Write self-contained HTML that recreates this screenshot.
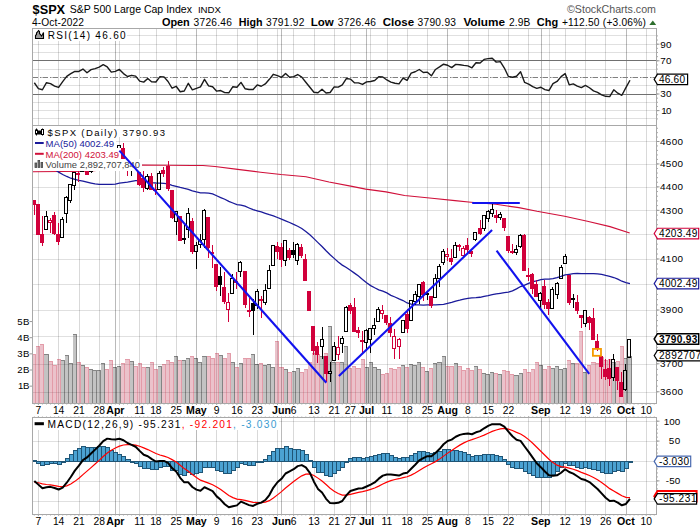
<!DOCTYPE html><html><head><meta charset="utf-8"><style>html,body{margin:0;padding:0;background:#fff;overflow:hidden}svg{display:block}</style></head><body><svg width="700" height="530" viewBox="0 0 700 530" font-family='"Liberation Sans", sans-serif'>
<rect width="700" height="530" fill="#fff"/>
<text x="32.6" y="13.5" font-size="12.8" fill="#000" font-weight="bold" text-anchor="start" textLength="32.5" lengthAdjust="spacingAndGlyphs" >$SPX</text>
<text x="69.8" y="12.8" font-size="11.5" fill="#000" font-weight="normal" text-anchor="start" textLength="122.1" lengthAdjust="spacingAndGlyphs" >S&amp;P 500 Large Cap Index</text>
<text x="197.9" y="12.9" font-size="9.6" fill="#000" font-weight="normal" text-anchor="start" textLength="23.1" lengthAdjust="spacingAndGlyphs" >INDX</text>
<text x="567" y="12.9" font-size="10.5" fill="#555" font-weight="normal" text-anchor="start" textLength="89" lengthAdjust="spacingAndGlyphs" >©StockCharts.com</text>
<text x="32" y="25.7" font-size="10.2" fill="#000" font-weight="normal" text-anchor="start" textLength="52" lengthAdjust="spacing" >4-Oct-2022</text>
<text x="161.9" y="25.7" font-size="10.7" fill="#000" font-weight="bold" text-anchor="start" textLength="27.9" lengthAdjust="spacingAndGlyphs" >Open</text>
<text x="193.6" y="25.7" font-size="10.2" fill="#000" font-weight="normal" text-anchor="start" textLength="38.2" lengthAdjust="spacing" >3726.46</text>
<text x="238.7" y="25.7" font-size="10.7" fill="#000" font-weight="bold" text-anchor="start" textLength="23.8" lengthAdjust="spacingAndGlyphs" >High</text>
<text x="266" y="25.7" font-size="10.2" fill="#000" font-weight="normal" text-anchor="start" textLength="38.3" lengthAdjust="spacing" >3791.92</text>
<text x="310.8" y="25.7" font-size="10.7" fill="#000" font-weight="bold" text-anchor="start" textLength="23" lengthAdjust="spacingAndGlyphs" >Low</text>
<text x="337.8" y="25.7" font-size="10.2" fill="#000" font-weight="normal" text-anchor="start" textLength="38.2" lengthAdjust="spacing" >3726.46</text>
<text x="382.7" y="25.7" font-size="10.7" fill="#000" font-weight="bold" text-anchor="start" textLength="31.4" lengthAdjust="spacingAndGlyphs" >Close</text>
<text x="417.5" y="25.7" font-size="10.2" fill="#000" font-weight="normal" text-anchor="start" textLength="38.5" lengthAdjust="spacing" >3790.93</text>
<text x="463.4" y="25.7" font-size="10.7" fill="#000" font-weight="bold" text-anchor="start" textLength="41.6" lengthAdjust="spacingAndGlyphs" >Volume</text>
<text x="508.9" y="25.7" font-size="10.2" fill="#000" font-weight="normal" text-anchor="start" textLength="21.4" lengthAdjust="spacing" >2.9B</text>
<text x="536.8" y="25.7" font-size="10.7" fill="#000" font-weight="bold" text-anchor="start" textLength="21.3" lengthAdjust="spacingAndGlyphs" >Chg</text>
<text x="561.9" y="25.7" font-size="10.2" fill="#000" font-weight="normal" text-anchor="start" textLength="84" lengthAdjust="spacing" >+112.50 (+3.06%)</text>
<path d="M649.3 24.9 L652.8 20.6 L656.2 24.9 Z" fill="#2d6e2d"/>
<line x1="38.5" y1="28.5" x2="38.5" y2="125.5" stroke="#000" stroke-opacity="0.15" stroke-width="1"/>
<line x1="58.5" y1="28.5" x2="58.5" y2="125.5" stroke="#000" stroke-opacity="0.15" stroke-width="1"/>
<line x1="79.5" y1="28.5" x2="79.5" y2="125.5" stroke="#000" stroke-opacity="0.15" stroke-width="1"/>
<line x1="99.5" y1="28.5" x2="99.5" y2="125.5" stroke="#000" stroke-opacity="0.15" stroke-width="1"/>
<line x1="119.5" y1="28.5" x2="119.5" y2="125.5" stroke="#000" stroke-opacity="0.15" stroke-width="1"/>
<line x1="139.5" y1="28.5" x2="139.5" y2="125.5" stroke="#000" stroke-opacity="0.15" stroke-width="1"/>
<line x1="156.5" y1="28.5" x2="156.5" y2="125.5" stroke="#000" stroke-opacity="0.15" stroke-width="1"/>
<line x1="176.5" y1="28.5" x2="176.5" y2="125.5" stroke="#000" stroke-opacity="0.15" stroke-width="1"/>
<line x1="216.5" y1="28.5" x2="216.5" y2="125.5" stroke="#000" stroke-opacity="0.15" stroke-width="1"/>
<line x1="237.5" y1="28.5" x2="237.5" y2="125.5" stroke="#000" stroke-opacity="0.15" stroke-width="1"/>
<line x1="257.5" y1="28.5" x2="257.5" y2="125.5" stroke="#000" stroke-opacity="0.15" stroke-width="1"/>
<line x1="277.5" y1="28.5" x2="277.5" y2="125.5" stroke="#000" stroke-opacity="0.15" stroke-width="1"/>
<line x1="293.5" y1="28.5" x2="293.5" y2="125.5" stroke="#000" stroke-opacity="0.15" stroke-width="1"/>
<line x1="314.5" y1="28.5" x2="314.5" y2="125.5" stroke="#000" stroke-opacity="0.15" stroke-width="1"/>
<line x1="334.5" y1="28.5" x2="334.5" y2="125.5" stroke="#000" stroke-opacity="0.15" stroke-width="1"/>
<line x1="350.5" y1="28.5" x2="350.5" y2="125.5" stroke="#000" stroke-opacity="0.15" stroke-width="1"/>
<line x1="370.5" y1="28.5" x2="370.5" y2="125.5" stroke="#000" stroke-opacity="0.15" stroke-width="1"/>
<line x1="387.5" y1="28.5" x2="387.5" y2="125.5" stroke="#000" stroke-opacity="0.15" stroke-width="1"/>
<line x1="407.5" y1="28.5" x2="407.5" y2="125.5" stroke="#000" stroke-opacity="0.15" stroke-width="1"/>
<line x1="427.5" y1="28.5" x2="427.5" y2="125.5" stroke="#000" stroke-opacity="0.15" stroke-width="1"/>
<line x1="468.5" y1="28.5" x2="468.5" y2="125.5" stroke="#000" stroke-opacity="0.15" stroke-width="1"/>
<line x1="488.5" y1="28.5" x2="488.5" y2="125.5" stroke="#000" stroke-opacity="0.15" stroke-width="1"/>
<line x1="508.5" y1="28.5" x2="508.5" y2="125.5" stroke="#000" stroke-opacity="0.15" stroke-width="1"/>
<line x1="528.5" y1="28.5" x2="528.5" y2="125.5" stroke="#000" stroke-opacity="0.15" stroke-width="1"/>
<line x1="549.5" y1="28.5" x2="549.5" y2="125.5" stroke="#000" stroke-opacity="0.15" stroke-width="1"/>
<line x1="565.5" y1="28.5" x2="565.5" y2="125.5" stroke="#000" stroke-opacity="0.15" stroke-width="1"/>
<line x1="585.5" y1="28.5" x2="585.5" y2="125.5" stroke="#000" stroke-opacity="0.15" stroke-width="1"/>
<line x1="605.5" y1="28.5" x2="605.5" y2="125.5" stroke="#000" stroke-opacity="0.15" stroke-width="1"/>
<line x1="646.5" y1="28.5" x2="646.5" y2="125.5" stroke="#000" stroke-opacity="0.15" stroke-width="1"/>
<line x1="115.5" y1="28.5" x2="115.5" y2="125.5" stroke="#000" stroke-opacity="0.27" stroke-width="1"/>
<line x1="196.5" y1="28.5" x2="196.5" y2="125.5" stroke="#000" stroke-opacity="0.27" stroke-width="1"/>
<line x1="281.5" y1="28.5" x2="281.5" y2="125.5" stroke="#000" stroke-opacity="0.27" stroke-width="1"/>
<line x1="366.5" y1="28.5" x2="366.5" y2="125.5" stroke="#000" stroke-opacity="0.27" stroke-width="1"/>
<line x1="447.5" y1="28.5" x2="447.5" y2="125.5" stroke="#000" stroke-opacity="0.27" stroke-width="1"/>
<line x1="541.5" y1="28.5" x2="541.5" y2="125.5" stroke="#000" stroke-opacity="0.27" stroke-width="1"/>
<line x1="626.5" y1="28.5" x2="626.5" y2="125.5" stroke="#000" stroke-opacity="0.27" stroke-width="1"/>
<line x1="32.5" y1="118.5" x2="656.5" y2="118.5" stroke="#000" stroke-opacity="0.12" stroke-width="1"/>
<line x1="32.5" y1="110.5" x2="656.5" y2="110.5" stroke="#000" stroke-opacity="0.12" stroke-width="1"/>
<line x1="32.5" y1="102.5" x2="656.5" y2="102.5" stroke="#000" stroke-opacity="0.12" stroke-width="1"/>
<line x1="32.5" y1="85.5" x2="656.5" y2="85.5" stroke="#000" stroke-opacity="0.12" stroke-width="1"/>
<line x1="32.5" y1="69.5" x2="656.5" y2="69.5" stroke="#000" stroke-opacity="0.12" stroke-width="1"/>
<line x1="32.5" y1="52.5" x2="656.5" y2="52.5" stroke="#000" stroke-opacity="0.12" stroke-width="1"/>
<line x1="32.5" y1="44.5" x2="656.5" y2="44.5" stroke="#000" stroke-opacity="0.12" stroke-width="1"/>
<line x1="32.5" y1="35.5" x2="656.5" y2="35.5" stroke="#000" stroke-opacity="0.12" stroke-width="1"/>
<line x1="32.5" y1="60.5" x2="656.5" y2="60.5" stroke="#707070" stroke-width="1"/>
<line x1="32.5" y1="94.5" x2="656.5" y2="94.5" stroke="#707070" stroke-width="1"/>
<line x1="32.5" y1="77.5" x2="656.5" y2="77.5" stroke="#808080" stroke-width="1" stroke-dasharray="5.5,2,1.5,1"/>
<polyline points="34.33,82.74 38.38,88.56 42.43,89.76 46.48,82.72 50.53,83.57 54.59,86.07 58.64,87.43 62.69,81.61 66.74,76.35 70.79,73.71 74.85,71.33 78.9,71.45 82.95,69.08 87,72.72 91.05,69.65 95.11,68.6 99.16,67.12 103.21,64.69 107.26,66.95 111.31,72.15 115.37,71.33 119.42,69.39 123.47,73.57 127.52,76.51 131.57,75.32 135.63,76.16 139.68,81.18 143.73,82.11 147.78,78.44 151.83,81.91 155.89,81.97 159.94,76.68 163.99,76.88 168.04,81.51 172.09,88.24 176.15,86.29 180.2,91.71 184.25,91 188.3,83.27 192.35,89.86 196.41,88.29 200.46,86.92 204.51,79.32 208.56,85.84 212.61,86.71 216.67,91.16 220.72,90.55 224.77,92.63 228.82,92.79 232.87,86.69 236.93,87.3 240.98,82.41 245.03,88.73 249.08,89.49 253.13,89.45 257.19,84.93 261.24,86.25 265.29,83.92 269.34,79.33 273.39,74.31 277.45,75.71 281.5,77.37 285.55,73.56 289.6,77.28 293.65,76.6 297.71,74.52 301.76,77.15 305.81,82.25 309.86,87.22 313.91,92.26 317.97,92.68 322.02,89.19 326.07,93.05 330.12,92.53 334.17,86.96 338.23,87.15 342.28,84.93 346.33,78.51 350.38,79.07 354.43,82.74 358.49,82.87 362.54,84.43 366.59,81.86 370.64,81.47 374.69,80.54 378.75,76.77 382.8,76.99 386.85,79.95 390.9,82.17 394.95,83.22 399.01,83.93 403.06,78.1 407.11,80.34 411.16,73.13 415.21,71.75 419.27,69.5 423.32,72.5 427.37,72.17 431.42,75.85 435.47,69.47 439.53,66.93 443.58,64.2 447.63,65.23 451.68,67.66 455.73,64.41 459.79,64.71 463.84,65.38 467.89,65.91 471.94,67.79 475.99,62.69 480.05,63.01 484.1,59.41 488.15,58.65 492.2,58.28 496.25,62.12 500.31,61.57 504.36,68.05 508.41,76.51 512.46,77.27 516.51,76.25 520.57,71.67 524.62,82.47 528.67,84.11 532.72,86.68 536.77,88.38 540.83,87.27 544.88,89.66 548.93,90.53 552.98,83.69 557.03,81.43 561.09,76.62 565.14,73.6 569.19,84.83 573.24,83.87 577.29,86.19 581.35,87.59 585.4,85.43 589.45,87.75 593.5,90.89 597.55,92.29 601.61,94.91 605.66,96.32 609.71,96.61 613.76,89.79 617.81,93.19 621.87,95.27 625.92,87.65 629.97,80.22" fill="none" stroke="#1a1a1a" stroke-width="1.4" stroke-linejoin="round"/>
<rect x="33" y="29" width="94" height="12" fill="#fff"/>
<path d="M35.5 38.5 L35.5 35.5 L36.5 34.5 L36.5 33 L37.5 32 L38.5 30.5 L39.5 31.5 L39.5 33.5 L40.5 34.5 L41.5 36 L42.5 34.5 L43.5 32.5 L43.5 38.5 Z" fill="#9a9a9a" stroke="#000" stroke-width="1.1" stroke-linejoin="miter"/>
<text x="47.7" y="39.1" font-size="10" fill="#000" font-weight="normal" text-anchor="start" textLength="77.9" lengthAdjust="spacing" >RSI(14) 46.60</text>
<line x1="38.5" y1="125.5" x2="38.5" y2="403.5" stroke="#000" stroke-opacity="0.15" stroke-width="1"/>
<line x1="58.5" y1="125.5" x2="58.5" y2="403.5" stroke="#000" stroke-opacity="0.15" stroke-width="1"/>
<line x1="79.5" y1="125.5" x2="79.5" y2="403.5" stroke="#000" stroke-opacity="0.15" stroke-width="1"/>
<line x1="99.5" y1="125.5" x2="99.5" y2="403.5" stroke="#000" stroke-opacity="0.15" stroke-width="1"/>
<line x1="119.5" y1="125.5" x2="119.5" y2="403.5" stroke="#000" stroke-opacity="0.15" stroke-width="1"/>
<line x1="139.5" y1="125.5" x2="139.5" y2="403.5" stroke="#000" stroke-opacity="0.15" stroke-width="1"/>
<line x1="156.5" y1="125.5" x2="156.5" y2="403.5" stroke="#000" stroke-opacity="0.15" stroke-width="1"/>
<line x1="176.5" y1="125.5" x2="176.5" y2="403.5" stroke="#000" stroke-opacity="0.15" stroke-width="1"/>
<line x1="216.5" y1="125.5" x2="216.5" y2="403.5" stroke="#000" stroke-opacity="0.15" stroke-width="1"/>
<line x1="237.5" y1="125.5" x2="237.5" y2="403.5" stroke="#000" stroke-opacity="0.15" stroke-width="1"/>
<line x1="257.5" y1="125.5" x2="257.5" y2="403.5" stroke="#000" stroke-opacity="0.15" stroke-width="1"/>
<line x1="277.5" y1="125.5" x2="277.5" y2="403.5" stroke="#000" stroke-opacity="0.15" stroke-width="1"/>
<line x1="293.5" y1="125.5" x2="293.5" y2="403.5" stroke="#000" stroke-opacity="0.15" stroke-width="1"/>
<line x1="314.5" y1="125.5" x2="314.5" y2="403.5" stroke="#000" stroke-opacity="0.15" stroke-width="1"/>
<line x1="334.5" y1="125.5" x2="334.5" y2="403.5" stroke="#000" stroke-opacity="0.15" stroke-width="1"/>
<line x1="350.5" y1="125.5" x2="350.5" y2="403.5" stroke="#000" stroke-opacity="0.15" stroke-width="1"/>
<line x1="370.5" y1="125.5" x2="370.5" y2="403.5" stroke="#000" stroke-opacity="0.15" stroke-width="1"/>
<line x1="387.5" y1="125.5" x2="387.5" y2="403.5" stroke="#000" stroke-opacity="0.15" stroke-width="1"/>
<line x1="407.5" y1="125.5" x2="407.5" y2="403.5" stroke="#000" stroke-opacity="0.15" stroke-width="1"/>
<line x1="427.5" y1="125.5" x2="427.5" y2="403.5" stroke="#000" stroke-opacity="0.15" stroke-width="1"/>
<line x1="468.5" y1="125.5" x2="468.5" y2="403.5" stroke="#000" stroke-opacity="0.15" stroke-width="1"/>
<line x1="488.5" y1="125.5" x2="488.5" y2="403.5" stroke="#000" stroke-opacity="0.15" stroke-width="1"/>
<line x1="508.5" y1="125.5" x2="508.5" y2="403.5" stroke="#000" stroke-opacity="0.15" stroke-width="1"/>
<line x1="528.5" y1="125.5" x2="528.5" y2="403.5" stroke="#000" stroke-opacity="0.15" stroke-width="1"/>
<line x1="549.5" y1="125.5" x2="549.5" y2="403.5" stroke="#000" stroke-opacity="0.15" stroke-width="1"/>
<line x1="565.5" y1="125.5" x2="565.5" y2="403.5" stroke="#000" stroke-opacity="0.15" stroke-width="1"/>
<line x1="585.5" y1="125.5" x2="585.5" y2="403.5" stroke="#000" stroke-opacity="0.15" stroke-width="1"/>
<line x1="605.5" y1="125.5" x2="605.5" y2="403.5" stroke="#000" stroke-opacity="0.15" stroke-width="1"/>
<line x1="646.5" y1="125.5" x2="646.5" y2="403.5" stroke="#000" stroke-opacity="0.15" stroke-width="1"/>
<line x1="115.5" y1="125.5" x2="115.5" y2="403.5" stroke="#000" stroke-opacity="0.27" stroke-width="1"/>
<line x1="196.5" y1="125.5" x2="196.5" y2="403.5" stroke="#000" stroke-opacity="0.27" stroke-width="1"/>
<line x1="281.5" y1="125.5" x2="281.5" y2="403.5" stroke="#000" stroke-opacity="0.27" stroke-width="1"/>
<line x1="366.5" y1="125.5" x2="366.5" y2="403.5" stroke="#000" stroke-opacity="0.27" stroke-width="1"/>
<line x1="447.5" y1="125.5" x2="447.5" y2="403.5" stroke="#000" stroke-opacity="0.27" stroke-width="1"/>
<line x1="541.5" y1="125.5" x2="541.5" y2="403.5" stroke="#000" stroke-opacity="0.27" stroke-width="1"/>
<line x1="626.5" y1="125.5" x2="626.5" y2="403.5" stroke="#000" stroke-opacity="0.27" stroke-width="1"/>
<line x1="32.5" y1="141.5" x2="656.5" y2="141.5" stroke="#000" stroke-opacity="0.12" stroke-width="1"/>
<line x1="32.5" y1="164.5" x2="656.5" y2="164.5" stroke="#000" stroke-opacity="0.12" stroke-width="1"/>
<line x1="32.5" y1="187.5" x2="656.5" y2="187.5" stroke="#000" stroke-opacity="0.12" stroke-width="1"/>
<line x1="32.5" y1="210.5" x2="656.5" y2="210.5" stroke="#000" stroke-opacity="0.12" stroke-width="1"/>
<line x1="32.5" y1="234.5" x2="656.5" y2="234.5" stroke="#000" stroke-opacity="0.12" stroke-width="1"/>
<line x1="32.5" y1="259.5" x2="656.5" y2="259.5" stroke="#000" stroke-opacity="0.12" stroke-width="1"/>
<line x1="32.5" y1="284.5" x2="656.5" y2="284.5" stroke="#000" stroke-opacity="0.12" stroke-width="1"/>
<line x1="32.5" y1="310.5" x2="656.5" y2="310.5" stroke="#000" stroke-opacity="0.12" stroke-width="1"/>
<line x1="32.5" y1="336.5" x2="656.5" y2="336.5" stroke="#000" stroke-opacity="0.12" stroke-width="1"/>
<line x1="32.5" y1="364.5" x2="656.5" y2="364.5" stroke="#000" stroke-opacity="0.12" stroke-width="1"/>
<line x1="32.5" y1="392.5" x2="656.5" y2="392.5" stroke="#000" stroke-opacity="0.12" stroke-width="1"/>
<rect x="32" y="354" width="4" height="49.5" fill="#b00a30" fill-opacity="0.25"/>
<path d="M32 354.5 H35.5 V403.5" fill="none" stroke="#c8203c" stroke-opacity="0.24" stroke-width="1"/>
<rect x="36" y="346" width="4" height="57.5" fill="#b00a30" fill-opacity="0.25"/>
<path d="M36 346.5 H39.5 V403.5" fill="none" stroke="#c8203c" stroke-opacity="0.24" stroke-width="1"/>
<rect x="40" y="344" width="4" height="59.5" fill="#b00a30" fill-opacity="0.25"/>
<path d="M40 344.5 H43.5 V403.5" fill="none" stroke="#c8203c" stroke-opacity="0.24" stroke-width="1"/>
<rect x="44" y="354" width="5" height="49.5" fill="#000" fill-opacity="0.235"/>
<path d="M44 354.5 H48.5 V403.5" fill="none" stroke="#000" stroke-opacity="0.32" stroke-width="1"/>
<rect x="49" y="361" width="4" height="42.5" fill="#b00a30" fill-opacity="0.25"/>
<path d="M49 361.5 H52.5 V403.5" fill="none" stroke="#c8203c" stroke-opacity="0.24" stroke-width="1"/>
<rect x="53" y="365" width="4" height="38.5" fill="#b00a30" fill-opacity="0.25"/>
<path d="M53 365.5 H56.5 V403.5" fill="none" stroke="#c8203c" stroke-opacity="0.24" stroke-width="1"/>
<rect x="57" y="359" width="4" height="44.5" fill="#b00a30" fill-opacity="0.25"/>
<path d="M57 359.5 H60.5 V403.5" fill="none" stroke="#c8203c" stroke-opacity="0.24" stroke-width="1"/>
<rect x="61" y="360" width="4" height="43.5" fill="#000" fill-opacity="0.235"/>
<path d="M61 360.5 H64.5 V403.5" fill="none" stroke="#000" stroke-opacity="0.32" stroke-width="1"/>
<rect x="65" y="355" width="4" height="48.5" fill="#000" fill-opacity="0.235"/>
<path d="M65 355.5 H68.5 V403.5" fill="none" stroke="#000" stroke-opacity="0.32" stroke-width="1"/>
<rect x="69" y="363" width="4" height="40.5" fill="#000" fill-opacity="0.235"/>
<path d="M69 363.5 H72.5 V403.5" fill="none" stroke="#000" stroke-opacity="0.32" stroke-width="1"/>
<rect x="73" y="334" width="4" height="69.5" fill="#000" fill-opacity="0.235"/>
<path d="M73 334.5 H76.5 V403.5" fill="none" stroke="#000" stroke-opacity="0.32" stroke-width="1"/>
<rect x="77" y="362" width="4" height="41.5" fill="#b00a30" fill-opacity="0.25"/>
<path d="M77 362.5 H80.5 V403.5" fill="none" stroke="#c8203c" stroke-opacity="0.24" stroke-width="1"/>
<rect x="81" y="365" width="4" height="38.5" fill="#000" fill-opacity="0.235"/>
<path d="M81 365.5 H84.5 V403.5" fill="none" stroke="#000" stroke-opacity="0.32" stroke-width="1"/>
<rect x="85" y="367" width="4" height="36.5" fill="#b00a30" fill-opacity="0.25"/>
<path d="M85 367.5 H88.5 V403.5" fill="none" stroke="#c8203c" stroke-opacity="0.24" stroke-width="1"/>
<rect x="89" y="369" width="4" height="34.5" fill="#000" fill-opacity="0.235"/>
<path d="M89 369.5 H92.5 V403.5" fill="none" stroke="#000" stroke-opacity="0.32" stroke-width="1"/>
<rect x="93" y="370" width="4" height="33.5" fill="#000" fill-opacity="0.235"/>
<path d="M93 370.5 H96.5 V403.5" fill="none" stroke="#000" stroke-opacity="0.32" stroke-width="1"/>
<rect x="97" y="370" width="4" height="33.5" fill="#000" fill-opacity="0.235"/>
<path d="M97 370.5 H100.5 V403.5" fill="none" stroke="#000" stroke-opacity="0.32" stroke-width="1"/>
<rect x="101" y="363" width="4" height="40.5" fill="#000" fill-opacity="0.235"/>
<path d="M101 363.5 H104.5 V403.5" fill="none" stroke="#000" stroke-opacity="0.32" stroke-width="1"/>
<rect x="105" y="369" width="4" height="34.5" fill="#b00a30" fill-opacity="0.25"/>
<path d="M105 369.5 H108.5 V403.5" fill="none" stroke="#c8203c" stroke-opacity="0.24" stroke-width="1"/>
<rect x="109" y="360" width="4" height="43.5" fill="#b00a30" fill-opacity="0.25"/>
<path d="M109 360.5 H112.5 V403.5" fill="none" stroke="#c8203c" stroke-opacity="0.24" stroke-width="1"/>
<rect x="113" y="367" width="4" height="36.5" fill="#000" fill-opacity="0.235"/>
<path d="M113 367.5 H116.5 V403.5" fill="none" stroke="#000" stroke-opacity="0.32" stroke-width="1"/>
<rect x="117" y="366" width="4" height="37.5" fill="#000" fill-opacity="0.235"/>
<path d="M117 366.5 H120.5 V403.5" fill="none" stroke="#000" stroke-opacity="0.32" stroke-width="1"/>
<rect x="121" y="363" width="4" height="40.5" fill="#b00a30" fill-opacity="0.25"/>
<path d="M121 363.5 H124.5 V403.5" fill="none" stroke="#c8203c" stroke-opacity="0.24" stroke-width="1"/>
<rect x="125" y="359" width="5" height="44.5" fill="#b00a30" fill-opacity="0.25"/>
<path d="M125 359.5 H129.5 V403.5" fill="none" stroke="#c8203c" stroke-opacity="0.24" stroke-width="1"/>
<rect x="130" y="361" width="4" height="42.5" fill="#000" fill-opacity="0.235"/>
<path d="M130 361.5 H133.5 V403.5" fill="none" stroke="#000" stroke-opacity="0.32" stroke-width="1"/>
<rect x="134" y="366" width="4" height="37.5" fill="#b00a30" fill-opacity="0.25"/>
<path d="M134 366.5 H137.5 V403.5" fill="none" stroke="#c8203c" stroke-opacity="0.24" stroke-width="1"/>
<rect x="138" y="363" width="4" height="40.5" fill="#b00a30" fill-opacity="0.25"/>
<path d="M138 363.5 H141.5 V403.5" fill="none" stroke="#c8203c" stroke-opacity="0.24" stroke-width="1"/>
<rect x="142" y="367" width="4" height="36.5" fill="#b00a30" fill-opacity="0.25"/>
<path d="M142 367.5 H145.5 V403.5" fill="none" stroke="#c8203c" stroke-opacity="0.24" stroke-width="1"/>
<rect x="146" y="367" width="4" height="36.5" fill="#000" fill-opacity="0.235"/>
<path d="M146 367.5 H149.5 V403.5" fill="none" stroke="#000" stroke-opacity="0.32" stroke-width="1"/>
<rect x="150" y="362" width="4" height="41.5" fill="#b00a30" fill-opacity="0.25"/>
<path d="M150 362.5 H153.5 V403.5" fill="none" stroke="#c8203c" stroke-opacity="0.24" stroke-width="1"/>
<rect x="154" y="369" width="4" height="34.5" fill="#b00a30" fill-opacity="0.25"/>
<path d="M154 369.5 H157.5 V403.5" fill="none" stroke="#c8203c" stroke-opacity="0.24" stroke-width="1"/>
<rect x="158" y="366" width="4" height="37.5" fill="#000" fill-opacity="0.235"/>
<path d="M158 366.5 H161.5 V403.5" fill="none" stroke="#000" stroke-opacity="0.32" stroke-width="1"/>
<rect x="162" y="364" width="4" height="39.5" fill="#b00a30" fill-opacity="0.25"/>
<path d="M162 364.5 H165.5 V403.5" fill="none" stroke="#c8203c" stroke-opacity="0.24" stroke-width="1"/>
<rect x="166" y="360" width="4" height="43.5" fill="#b00a30" fill-opacity="0.25"/>
<path d="M166 360.5 H169.5 V403.5" fill="none" stroke="#c8203c" stroke-opacity="0.24" stroke-width="1"/>
<rect x="170" y="362" width="4" height="41.5" fill="#b00a30" fill-opacity="0.25"/>
<path d="M170 362.5 H173.5 V403.5" fill="none" stroke="#c8203c" stroke-opacity="0.24" stroke-width="1"/>
<rect x="174" y="356" width="4" height="47.5" fill="#000" fill-opacity="0.235"/>
<path d="M174 356.5 H177.5 V403.5" fill="none" stroke="#000" stroke-opacity="0.32" stroke-width="1"/>
<rect x="178" y="360" width="4" height="43.5" fill="#b00a30" fill-opacity="0.25"/>
<path d="M178 360.5 H181.5 V403.5" fill="none" stroke="#c8203c" stroke-opacity="0.24" stroke-width="1"/>
<rect x="182" y="360" width="4" height="43.5" fill="#000" fill-opacity="0.235"/>
<path d="M182 360.5 H185.5 V403.5" fill="none" stroke="#000" stroke-opacity="0.32" stroke-width="1"/>
<rect x="186" y="358" width="4" height="45.5" fill="#000" fill-opacity="0.235"/>
<path d="M186 358.5 H189.5 V403.5" fill="none" stroke="#000" stroke-opacity="0.32" stroke-width="1"/>
<rect x="190" y="356" width="4" height="47.5" fill="#b00a30" fill-opacity="0.25"/>
<path d="M190 356.5 H193.5 V403.5" fill="none" stroke="#c8203c" stroke-opacity="0.24" stroke-width="1"/>
<rect x="194" y="358" width="4" height="45.5" fill="#000" fill-opacity="0.235"/>
<path d="M194 358.5 H197.5 V403.5" fill="none" stroke="#000" stroke-opacity="0.32" stroke-width="1"/>
<rect x="198" y="362" width="4" height="41.5" fill="#000" fill-opacity="0.235"/>
<path d="M198 362.5 H201.5 V403.5" fill="none" stroke="#000" stroke-opacity="0.32" stroke-width="1"/>
<rect x="202" y="356" width="5" height="47.5" fill="#000" fill-opacity="0.235"/>
<path d="M202 356.5 H206.5 V403.5" fill="none" stroke="#000" stroke-opacity="0.32" stroke-width="1"/>
<rect x="207" y="356" width="4" height="47.5" fill="#b00a30" fill-opacity="0.25"/>
<path d="M207 356.5 H210.5 V403.5" fill="none" stroke="#c8203c" stroke-opacity="0.24" stroke-width="1"/>
<rect x="211" y="358" width="4" height="45.5" fill="#b00a30" fill-opacity="0.25"/>
<path d="M211 358.5 H214.5 V403.5" fill="none" stroke="#c8203c" stroke-opacity="0.24" stroke-width="1"/>
<rect x="215" y="353" width="4" height="50.5" fill="#b00a30" fill-opacity="0.25"/>
<path d="M215 353.5 H218.5 V403.5" fill="none" stroke="#c8203c" stroke-opacity="0.24" stroke-width="1"/>
<rect x="219" y="355" width="4" height="48.5" fill="#000" fill-opacity="0.235"/>
<path d="M219 355.5 H222.5 V403.5" fill="none" stroke="#000" stroke-opacity="0.32" stroke-width="1"/>
<rect x="223" y="358" width="4" height="45.5" fill="#b00a30" fill-opacity="0.25"/>
<path d="M223 358.5 H226.5 V403.5" fill="none" stroke="#c8203c" stroke-opacity="0.24" stroke-width="1"/>
<rect x="227" y="353" width="4" height="50.5" fill="#b00a30" fill-opacity="0.25"/>
<path d="M227 353.5 H230.5 V403.5" fill="none" stroke="#c8203c" stroke-opacity="0.24" stroke-width="1"/>
<rect x="231" y="362" width="4" height="41.5" fill="#000" fill-opacity="0.235"/>
<path d="M231 362.5 H234.5 V403.5" fill="none" stroke="#000" stroke-opacity="0.32" stroke-width="1"/>
<rect x="235" y="367" width="4" height="36.5" fill="#b00a30" fill-opacity="0.25"/>
<path d="M235 367.5 H238.5 V403.5" fill="none" stroke="#c8203c" stroke-opacity="0.24" stroke-width="1"/>
<rect x="239" y="363" width="4" height="40.5" fill="#000" fill-opacity="0.235"/>
<path d="M239 363.5 H242.5 V403.5" fill="none" stroke="#000" stroke-opacity="0.32" stroke-width="1"/>
<rect x="243" y="358" width="4" height="45.5" fill="#b00a30" fill-opacity="0.25"/>
<path d="M243 358.5 H246.5 V403.5" fill="none" stroke="#c8203c" stroke-opacity="0.24" stroke-width="1"/>
<rect x="247" y="358" width="4" height="45.5" fill="#b00a30" fill-opacity="0.25"/>
<path d="M247 358.5 H250.5 V403.5" fill="none" stroke="#c8203c" stroke-opacity="0.24" stroke-width="1"/>
<rect x="251" y="354" width="4" height="49.5" fill="#000" fill-opacity="0.235"/>
<path d="M251 354.5 H254.5 V403.5" fill="none" stroke="#000" stroke-opacity="0.32" stroke-width="1"/>
<rect x="255" y="364" width="4" height="39.5" fill="#000" fill-opacity="0.235"/>
<path d="M255 364.5 H258.5 V403.5" fill="none" stroke="#000" stroke-opacity="0.32" stroke-width="1"/>
<rect x="259" y="363" width="4" height="40.5" fill="#b00a30" fill-opacity="0.25"/>
<path d="M259 363.5 H262.5 V403.5" fill="none" stroke="#c8203c" stroke-opacity="0.24" stroke-width="1"/>
<rect x="263" y="365" width="4" height="38.5" fill="#000" fill-opacity="0.235"/>
<path d="M263 365.5 H266.5 V403.5" fill="none" stroke="#000" stroke-opacity="0.32" stroke-width="1"/>
<rect x="267" y="364" width="4" height="39.5" fill="#000" fill-opacity="0.235"/>
<path d="M267 364.5 H270.5 V403.5" fill="none" stroke="#000" stroke-opacity="0.32" stroke-width="1"/>
<rect x="271" y="367" width="4" height="36.5" fill="#000" fill-opacity="0.235"/>
<path d="M271 367.5 H274.5 V403.5" fill="none" stroke="#000" stroke-opacity="0.32" stroke-width="1"/>
<rect x="275" y="341" width="4" height="62.5" fill="#b00a30" fill-opacity="0.25"/>
<path d="M275 341.5 H278.5 V403.5" fill="none" stroke="#c8203c" stroke-opacity="0.24" stroke-width="1"/>
<rect x="279" y="367" width="5" height="36.5" fill="#b00a30" fill-opacity="0.25"/>
<path d="M279 367.5 H283.5 V403.5" fill="none" stroke="#c8203c" stroke-opacity="0.24" stroke-width="1"/>
<rect x="284" y="369" width="4" height="34.5" fill="#000" fill-opacity="0.235"/>
<path d="M284 369.5 H287.5 V403.5" fill="none" stroke="#000" stroke-opacity="0.32" stroke-width="1"/>
<rect x="288" y="372" width="4" height="31.5" fill="#b00a30" fill-opacity="0.25"/>
<path d="M288 372.5 H291.5 V403.5" fill="none" stroke="#c8203c" stroke-opacity="0.24" stroke-width="1"/>
<rect x="292" y="371" width="4" height="32.5" fill="#000" fill-opacity="0.235"/>
<path d="M292 371.5 H295.5 V403.5" fill="none" stroke="#000" stroke-opacity="0.32" stroke-width="1"/>
<rect x="296" y="368" width="4" height="35.5" fill="#000" fill-opacity="0.235"/>
<path d="M296 368.5 H299.5 V403.5" fill="none" stroke="#000" stroke-opacity="0.32" stroke-width="1"/>
<rect x="300" y="372" width="4" height="31.5" fill="#b00a30" fill-opacity="0.25"/>
<path d="M300 372.5 H303.5 V403.5" fill="none" stroke="#c8203c" stroke-opacity="0.24" stroke-width="1"/>
<rect x="304" y="369" width="4" height="34.5" fill="#b00a30" fill-opacity="0.25"/>
<path d="M304 369.5 H307.5 V403.5" fill="none" stroke="#c8203c" stroke-opacity="0.24" stroke-width="1"/>
<rect x="308" y="362" width="4" height="41.5" fill="#b00a30" fill-opacity="0.25"/>
<path d="M308 362.5 H311.5 V403.5" fill="none" stroke="#c8203c" stroke-opacity="0.24" stroke-width="1"/>
<rect x="312" y="353" width="4" height="50.5" fill="#b00a30" fill-opacity="0.25"/>
<path d="M312 353.5 H315.5 V403.5" fill="none" stroke="#c8203c" stroke-opacity="0.24" stroke-width="1"/>
<rect x="316" y="354" width="4" height="49.5" fill="#b00a30" fill-opacity="0.25"/>
<path d="M316 354.5 H319.5 V403.5" fill="none" stroke="#c8203c" stroke-opacity="0.24" stroke-width="1"/>
<rect x="320" y="356" width="4" height="47.5" fill="#000" fill-opacity="0.235"/>
<path d="M320 356.5 H323.5 V403.5" fill="none" stroke="#000" stroke-opacity="0.32" stroke-width="1"/>
<rect x="324" y="353" width="4" height="50.5" fill="#b00a30" fill-opacity="0.25"/>
<path d="M324 353.5 H327.5 V403.5" fill="none" stroke="#c8203c" stroke-opacity="0.24" stroke-width="1"/>
<rect x="328" y="326" width="4" height="77.5" fill="#000" fill-opacity="0.235"/>
<path d="M328 326.5 H331.5 V403.5" fill="none" stroke="#000" stroke-opacity="0.32" stroke-width="1"/>
<rect x="332" y="362" width="4" height="41.5" fill="#000" fill-opacity="0.235"/>
<path d="M332 362.5 H335.5 V403.5" fill="none" stroke="#000" stroke-opacity="0.32" stroke-width="1"/>
<rect x="336" y="362" width="4" height="41.5" fill="#b00a30" fill-opacity="0.25"/>
<path d="M336 362.5 H339.5 V403.5" fill="none" stroke="#c8203c" stroke-opacity="0.24" stroke-width="1"/>
<rect x="340" y="362" width="4" height="41.5" fill="#000" fill-opacity="0.235"/>
<path d="M340 362.5 H343.5 V403.5" fill="none" stroke="#000" stroke-opacity="0.32" stroke-width="1"/>
<rect x="344" y="346" width="4" height="57.5" fill="#000" fill-opacity="0.235"/>
<path d="M344 346.5 H347.5 V403.5" fill="none" stroke="#000" stroke-opacity="0.32" stroke-width="1"/>
<rect x="348" y="368" width="4" height="35.5" fill="#b00a30" fill-opacity="0.25"/>
<path d="M348 368.5 H351.5 V403.5" fill="none" stroke="#c8203c" stroke-opacity="0.24" stroke-width="1"/>
<rect x="352" y="366" width="4" height="37.5" fill="#b00a30" fill-opacity="0.25"/>
<path d="M352 366.5 H355.5 V403.5" fill="none" stroke="#c8203c" stroke-opacity="0.24" stroke-width="1"/>
<rect x="356" y="368" width="5" height="35.5" fill="#b00a30" fill-opacity="0.25"/>
<path d="M356 368.5 H360.5 V403.5" fill="none" stroke="#c8203c" stroke-opacity="0.24" stroke-width="1"/>
<rect x="361" y="359" width="4" height="44.5" fill="#b00a30" fill-opacity="0.25"/>
<path d="M361 359.5 H364.5 V403.5" fill="none" stroke="#c8203c" stroke-opacity="0.24" stroke-width="1"/>
<rect x="365" y="367" width="4" height="36.5" fill="#000" fill-opacity="0.235"/>
<path d="M365 367.5 H368.5 V403.5" fill="none" stroke="#000" stroke-opacity="0.32" stroke-width="1"/>
<rect x="369" y="362" width="4" height="41.5" fill="#000" fill-opacity="0.235"/>
<path d="M369 362.5 H372.5 V403.5" fill="none" stroke="#000" stroke-opacity="0.32" stroke-width="1"/>
<rect x="373" y="367" width="4" height="36.5" fill="#000" fill-opacity="0.235"/>
<path d="M373 367.5 H376.5 V403.5" fill="none" stroke="#000" stroke-opacity="0.32" stroke-width="1"/>
<rect x="377" y="369" width="4" height="34.5" fill="#000" fill-opacity="0.235"/>
<path d="M377 369.5 H380.5 V403.5" fill="none" stroke="#000" stroke-opacity="0.32" stroke-width="1"/>
<rect x="381" y="374" width="4" height="29.5" fill="#b00a30" fill-opacity="0.25"/>
<path d="M381 374.5 H384.5 V403.5" fill="none" stroke="#c8203c" stroke-opacity="0.24" stroke-width="1"/>
<rect x="385" y="373" width="4" height="30.5" fill="#b00a30" fill-opacity="0.25"/>
<path d="M385 373.5 H388.5 V403.5" fill="none" stroke="#c8203c" stroke-opacity="0.24" stroke-width="1"/>
<rect x="389" y="368" width="4" height="35.5" fill="#b00a30" fill-opacity="0.25"/>
<path d="M389 368.5 H392.5 V403.5" fill="none" stroke="#c8203c" stroke-opacity="0.24" stroke-width="1"/>
<rect x="393" y="369" width="4" height="34.5" fill="#b00a30" fill-opacity="0.25"/>
<path d="M393 369.5 H396.5 V403.5" fill="none" stroke="#c8203c" stroke-opacity="0.24" stroke-width="1"/>
<rect x="397" y="367" width="4" height="36.5" fill="#b00a30" fill-opacity="0.25"/>
<path d="M397 367.5 H400.5 V403.5" fill="none" stroke="#c8203c" stroke-opacity="0.24" stroke-width="1"/>
<rect x="401" y="365" width="4" height="38.5" fill="#000" fill-opacity="0.235"/>
<path d="M401 365.5 H404.5 V403.5" fill="none" stroke="#000" stroke-opacity="0.32" stroke-width="1"/>
<rect x="405" y="367" width="4" height="36.5" fill="#b00a30" fill-opacity="0.25"/>
<path d="M405 367.5 H408.5 V403.5" fill="none" stroke="#c8203c" stroke-opacity="0.24" stroke-width="1"/>
<rect x="409" y="364" width="4" height="39.5" fill="#000" fill-opacity="0.235"/>
<path d="M409 364.5 H412.5 V403.5" fill="none" stroke="#000" stroke-opacity="0.32" stroke-width="1"/>
<rect x="413" y="365" width="4" height="38.5" fill="#000" fill-opacity="0.235"/>
<path d="M413 365.5 H416.5 V403.5" fill="none" stroke="#000" stroke-opacity="0.32" stroke-width="1"/>
<rect x="417" y="362" width="4" height="41.5" fill="#000" fill-opacity="0.235"/>
<path d="M417 362.5 H420.5 V403.5" fill="none" stroke="#000" stroke-opacity="0.32" stroke-width="1"/>
<rect x="421" y="367" width="4" height="36.5" fill="#b00a30" fill-opacity="0.25"/>
<path d="M421 367.5 H424.5 V403.5" fill="none" stroke="#c8203c" stroke-opacity="0.24" stroke-width="1"/>
<rect x="425" y="371" width="4" height="32.5" fill="#000" fill-opacity="0.235"/>
<path d="M425 371.5 H428.5 V403.5" fill="none" stroke="#000" stroke-opacity="0.32" stroke-width="1"/>
<rect x="429" y="368" width="4" height="35.5" fill="#b00a30" fill-opacity="0.25"/>
<path d="M429 368.5 H432.5 V403.5" fill="none" stroke="#c8203c" stroke-opacity="0.24" stroke-width="1"/>
<rect x="433" y="363" width="4" height="40.5" fill="#000" fill-opacity="0.235"/>
<path d="M433 363.5 H436.5 V403.5" fill="none" stroke="#000" stroke-opacity="0.32" stroke-width="1"/>
<rect x="437" y="362" width="5" height="41.5" fill="#000" fill-opacity="0.235"/>
<path d="M437 362.5 H441.5 V403.5" fill="none" stroke="#000" stroke-opacity="0.32" stroke-width="1"/>
<rect x="442" y="356" width="4" height="47.5" fill="#000" fill-opacity="0.235"/>
<path d="M442 356.5 H445.5 V403.5" fill="none" stroke="#000" stroke-opacity="0.32" stroke-width="1"/>
<rect x="446" y="366" width="4" height="37.5" fill="#b00a30" fill-opacity="0.25"/>
<path d="M446 366.5 H449.5 V403.5" fill="none" stroke="#c8203c" stroke-opacity="0.24" stroke-width="1"/>
<rect x="450" y="366" width="4" height="37.5" fill="#b00a30" fill-opacity="0.25"/>
<path d="M450 366.5 H453.5 V403.5" fill="none" stroke="#c8203c" stroke-opacity="0.24" stroke-width="1"/>
<rect x="454" y="363" width="4" height="40.5" fill="#000" fill-opacity="0.235"/>
<path d="M454 363.5 H457.5 V403.5" fill="none" stroke="#000" stroke-opacity="0.32" stroke-width="1"/>
<rect x="458" y="366" width="4" height="37.5" fill="#b00a30" fill-opacity="0.25"/>
<path d="M458 366.5 H461.5 V403.5" fill="none" stroke="#c8203c" stroke-opacity="0.24" stroke-width="1"/>
<rect x="462" y="370" width="4" height="33.5" fill="#b00a30" fill-opacity="0.25"/>
<path d="M462 370.5 H465.5 V403.5" fill="none" stroke="#c8203c" stroke-opacity="0.24" stroke-width="1"/>
<rect x="466" y="368" width="4" height="35.5" fill="#b00a30" fill-opacity="0.25"/>
<path d="M466 368.5 H469.5 V403.5" fill="none" stroke="#c8203c" stroke-opacity="0.24" stroke-width="1"/>
<rect x="470" y="370" width="4" height="33.5" fill="#b00a30" fill-opacity="0.25"/>
<path d="M470 370.5 H473.5 V403.5" fill="none" stroke="#c8203c" stroke-opacity="0.24" stroke-width="1"/>
<rect x="474" y="366" width="4" height="37.5" fill="#000" fill-opacity="0.235"/>
<path d="M474 366.5 H477.5 V403.5" fill="none" stroke="#000" stroke-opacity="0.32" stroke-width="1"/>
<rect x="478" y="369" width="4" height="34.5" fill="#b00a30" fill-opacity="0.25"/>
<path d="M478 369.5 H481.5 V403.5" fill="none" stroke="#c8203c" stroke-opacity="0.24" stroke-width="1"/>
<rect x="482" y="373" width="4" height="30.5" fill="#000" fill-opacity="0.235"/>
<path d="M482 373.5 H485.5 V403.5" fill="none" stroke="#000" stroke-opacity="0.32" stroke-width="1"/>
<rect x="486" y="374" width="4" height="29.5" fill="#000" fill-opacity="0.235"/>
<path d="M486 374.5 H489.5 V403.5" fill="none" stroke="#000" stroke-opacity="0.32" stroke-width="1"/>
<rect x="490" y="372" width="4" height="31.5" fill="#000" fill-opacity="0.235"/>
<path d="M490 372.5 H493.5 V403.5" fill="none" stroke="#000" stroke-opacity="0.32" stroke-width="1"/>
<rect x="494" y="373" width="4" height="30.5" fill="#b00a30" fill-opacity="0.25"/>
<path d="M494 373.5 H497.5 V403.5" fill="none" stroke="#c8203c" stroke-opacity="0.24" stroke-width="1"/>
<rect x="498" y="374" width="4" height="29.5" fill="#000" fill-opacity="0.235"/>
<path d="M498 374.5 H501.5 V403.5" fill="none" stroke="#000" stroke-opacity="0.32" stroke-width="1"/>
<rect x="502" y="370" width="4" height="33.5" fill="#b00a30" fill-opacity="0.25"/>
<path d="M502 370.5 H505.5 V403.5" fill="none" stroke="#c8203c" stroke-opacity="0.24" stroke-width="1"/>
<rect x="506" y="371" width="4" height="32.5" fill="#b00a30" fill-opacity="0.25"/>
<path d="M506 371.5 H509.5 V403.5" fill="none" stroke="#c8203c" stroke-opacity="0.24" stroke-width="1"/>
<rect x="510" y="374" width="4" height="29.5" fill="#b00a30" fill-opacity="0.25"/>
<path d="M510 374.5 H513.5 V403.5" fill="none" stroke="#c8203c" stroke-opacity="0.24" stroke-width="1"/>
<rect x="514" y="375" width="5" height="28.5" fill="#000" fill-opacity="0.235"/>
<path d="M514 375.5 H518.5 V403.5" fill="none" stroke="#000" stroke-opacity="0.32" stroke-width="1"/>
<rect x="519" y="373" width="4" height="30.5" fill="#000" fill-opacity="0.235"/>
<path d="M519 373.5 H522.5 V403.5" fill="none" stroke="#000" stroke-opacity="0.32" stroke-width="1"/>
<rect x="523" y="369" width="4" height="34.5" fill="#b00a30" fill-opacity="0.25"/>
<path d="M523 369.5 H526.5 V403.5" fill="none" stroke="#c8203c" stroke-opacity="0.24" stroke-width="1"/>
<rect x="527" y="372" width="4" height="31.5" fill="#b00a30" fill-opacity="0.25"/>
<path d="M527 372.5 H530.5 V403.5" fill="none" stroke="#c8203c" stroke-opacity="0.24" stroke-width="1"/>
<rect x="531" y="369" width="4" height="34.5" fill="#b00a30" fill-opacity="0.25"/>
<path d="M531 369.5 H534.5 V403.5" fill="none" stroke="#c8203c" stroke-opacity="0.24" stroke-width="1"/>
<rect x="535" y="362" width="4" height="41.5" fill="#b00a30" fill-opacity="0.25"/>
<path d="M535 362.5 H538.5 V403.5" fill="none" stroke="#c8203c" stroke-opacity="0.24" stroke-width="1"/>
<rect x="539" y="365" width="4" height="38.5" fill="#000" fill-opacity="0.235"/>
<path d="M539 365.5 H542.5 V403.5" fill="none" stroke="#000" stroke-opacity="0.32" stroke-width="1"/>
<rect x="543" y="369" width="4" height="34.5" fill="#b00a30" fill-opacity="0.25"/>
<path d="M543 369.5 H546.5 V403.5" fill="none" stroke="#c8203c" stroke-opacity="0.24" stroke-width="1"/>
<rect x="547" y="366" width="4" height="37.5" fill="#b00a30" fill-opacity="0.25"/>
<path d="M547 366.5 H550.5 V403.5" fill="none" stroke="#c8203c" stroke-opacity="0.24" stroke-width="1"/>
<rect x="551" y="368" width="4" height="35.5" fill="#000" fill-opacity="0.235"/>
<path d="M551 368.5 H554.5 V403.5" fill="none" stroke="#000" stroke-opacity="0.32" stroke-width="1"/>
<rect x="555" y="366" width="4" height="37.5" fill="#000" fill-opacity="0.235"/>
<path d="M555 366.5 H558.5 V403.5" fill="none" stroke="#000" stroke-opacity="0.32" stroke-width="1"/>
<rect x="559" y="369" width="4" height="34.5" fill="#000" fill-opacity="0.235"/>
<path d="M559 369.5 H562.5 V403.5" fill="none" stroke="#000" stroke-opacity="0.32" stroke-width="1"/>
<rect x="563" y="368" width="4" height="35.5" fill="#000" fill-opacity="0.235"/>
<path d="M563 368.5 H566.5 V403.5" fill="none" stroke="#000" stroke-opacity="0.32" stroke-width="1"/>
<rect x="567" y="360" width="4" height="43.5" fill="#b00a30" fill-opacity="0.25"/>
<path d="M567 360.5 H570.5 V403.5" fill="none" stroke="#c8203c" stroke-opacity="0.24" stroke-width="1"/>
<rect x="571" y="363" width="4" height="40.5" fill="#000" fill-opacity="0.235"/>
<path d="M571 363.5 H574.5 V403.5" fill="none" stroke="#000" stroke-opacity="0.32" stroke-width="1"/>
<rect x="575" y="363" width="4" height="40.5" fill="#b00a30" fill-opacity="0.25"/>
<path d="M575 363.5 H578.5 V403.5" fill="none" stroke="#c8203c" stroke-opacity="0.24" stroke-width="1"/>
<rect x="579" y="331" width="4" height="72.5" fill="#b00a30" fill-opacity="0.25"/>
<path d="M579 331.5 H582.5 V403.5" fill="none" stroke="#c8203c" stroke-opacity="0.24" stroke-width="1"/>
<rect x="583" y="372" width="4" height="31.5" fill="#000" fill-opacity="0.235"/>
<path d="M583 372.5 H586.5 V403.5" fill="none" stroke="#000" stroke-opacity="0.32" stroke-width="1"/>
<rect x="587" y="365" width="4" height="38.5" fill="#b00a30" fill-opacity="0.25"/>
<path d="M587 365.5 H590.5 V403.5" fill="none" stroke="#c8203c" stroke-opacity="0.24" stroke-width="1"/>
<rect x="591" y="362" width="5" height="41.5" fill="#b00a30" fill-opacity="0.25"/>
<path d="M591 362.5 H595.5 V403.5" fill="none" stroke="#c8203c" stroke-opacity="0.24" stroke-width="1"/>
<rect x="596" y="363" width="4" height="40.5" fill="#b00a30" fill-opacity="0.25"/>
<path d="M596 363.5 H599.5 V403.5" fill="none" stroke="#c8203c" stroke-opacity="0.24" stroke-width="1"/>
<rect x="600" y="357" width="4" height="46.5" fill="#b00a30" fill-opacity="0.25"/>
<path d="M600 357.5 H603.5 V403.5" fill="none" stroke="#c8203c" stroke-opacity="0.24" stroke-width="1"/>
<rect x="604" y="360" width="4" height="43.5" fill="#b00a30" fill-opacity="0.25"/>
<path d="M604 360.5 H607.5 V403.5" fill="none" stroke="#c8203c" stroke-opacity="0.24" stroke-width="1"/>
<rect x="608" y="359" width="4" height="44.5" fill="#b00a30" fill-opacity="0.25"/>
<path d="M608 359.5 H611.5 V403.5" fill="none" stroke="#c8203c" stroke-opacity="0.24" stroke-width="1"/>
<rect x="612" y="362" width="4" height="41.5" fill="#000" fill-opacity="0.235"/>
<path d="M612 362.5 H615.5 V403.5" fill="none" stroke="#000" stroke-opacity="0.32" stroke-width="1"/>
<rect x="616" y="361" width="4" height="42.5" fill="#b00a30" fill-opacity="0.25"/>
<path d="M616 361.5 H619.5 V403.5" fill="none" stroke="#c8203c" stroke-opacity="0.24" stroke-width="1"/>
<rect x="620" y="346" width="4" height="57.5" fill="#b00a30" fill-opacity="0.25"/>
<path d="M620 346.5 H623.5 V403.5" fill="none" stroke="#c8203c" stroke-opacity="0.24" stroke-width="1"/>
<rect x="624" y="358" width="4" height="45.5" fill="#000" fill-opacity="0.235"/>
<path d="M624 358.5 H627.5 V403.5" fill="none" stroke="#000" stroke-opacity="0.32" stroke-width="1"/>
<rect x="628" y="356" width="4" height="47.5" fill="#000" fill-opacity="0.235"/>
<path d="M628 356.5 H631.5 V403.5" fill="none" stroke="#000" stroke-opacity="0.32" stroke-width="1"/>
<polyline points="32.5,171.8 90,171.3 142,165 192,165.5 203,165.5 215,166.5 237.7,169.4 260.6,172.2 281,174.5 306,176.7 329,182 352,186.4 365.7,189.1 386,191.9 404.6,195.5 432,198.3 455,200.6 471,202.2 496,204.2 507.4,206 518.9,207.6 537,211.3 564.6,216.3 587.4,221.3 610,226.6 629.7,233" fill="none" stroke="#d0103a" stroke-width="1.15"/>
<polyline points="34.33,157.23 38.38,159.47 42.43,161.98 46.48,164.31 50.53,166.7 54.59,169.38 58.64,172.15 62.69,174.46 66.74,176.47 70.79,178.23 74.85,179.32 78.9,180.4 82.95,181.17 87,182.15 91.05,183.05 95.11,183.89 99.16,184.28 103.21,184.42 107.26,184.31 111.31,184.32 115.37,184.03 119.42,183.17 123.47,182.64 127.52,182.06 131.57,181.37 135.63,180.62 139.68,180.71 143.73,181.26 147.78,181.72 151.83,182.63 155.89,183.02 159.94,183.2 163.99,183.31 168.04,183.91 172.09,185.37 176.15,186.33 180.2,187.46 184.25,188.47 188.3,189.33 192.35,190.92 196.41,191.97 200.46,192.78 204.51,192.8 208.56,193.17 212.61,193.94 216.67,195.78 220.72,197.53 224.77,199.27 228.82,201.42 232.87,203.02 236.93,204.53 240.98,205.06 245.03,206.23 249.08,208.01 253.13,209.71 257.19,210.81 261.24,211.91 265.29,213.26 269.34,214.69 273.39,215.9 277.45,217.48 281.5,219.2 285.55,220.81 289.6,222.48 293.65,224.39 297.71,226.24 301.76,228.46 305.81,231.43 309.86,234.83 313.91,238.64 317.97,242.6 322.02,246.5 326.07,250.73 330.12,254.72 334.17,258.37 338.23,262 342.28,265.09 346.33,267.53 350.38,270.28 354.43,273.15 358.49,276.05 362.54,279.49 366.59,282.71 370.64,285.58 374.69,287.77 378.75,289.78 382.8,291.2 386.85,292.9 390.9,295.31 394.95,297.02 399.01,298.91 403.06,300.53 407.11,302.96 411.16,304.06 415.21,304.91 419.27,304.87 423.32,305.07 427.37,304.91 431.42,304.95 435.47,304.96 439.53,304.62 443.58,304.4 447.63,303.39 451.68,302.4 455.73,301.08 459.79,300.16 463.84,299.1 467.89,298.27 471.94,297.93 475.99,297.66 480.05,297.27 484.1,296.35 488.15,295.73 492.2,294.71 496.25,293.93 500.31,293.29 504.36,292.71 508.41,292.09 512.46,290.92 516.51,288.91 520.57,286.54 524.62,285.17 528.67,283.31 532.72,281.73 536.77,280.76 540.83,279.71 544.88,279.05 548.93,279.07 552.98,278.67 557.03,277.73 561.09,276.47 565.14,274.82 569.19,274.28 573.24,273.7 577.29,273.42 581.35,273.56 585.4,273.56 589.45,273.55 593.5,273.7 597.55,273.92 601.61,274.41 605.66,275.47 609.71,276.4 613.76,277.5 617.81,279.12 621.87,281.22 625.92,282.66 629.97,283.56" fill="none" stroke="#1a1a9a" stroke-width="1.3"/>
<line x1="34.5" y1="200" x2="34.5" y2="215" stroke="#d1003b" stroke-width="1"/>
<rect x="32" y="200" width="4" height="5" fill="#d1003b"/>
<line x1="38.5" y1="204" x2="38.5" y2="235" stroke="#d1003b" stroke-width="1"/>
<rect x="36" y="204" width="4" height="31" fill="#d1003b"/>
<line x1="42.5" y1="216" x2="42.5" y2="246" stroke="#d1003b" stroke-width="1"/>
<rect x="40" y="234" width="4" height="9" fill="#d1003b"/>
<line x1="46.5" y1="211" x2="46.5" y2="216" stroke="#000" stroke-width="1"/>
<rect x="44.5" y="216.5" width="3" height="13" fill="none" stroke="#000" stroke-width="1"/>
<line x1="50.5" y1="218" x2="50.5" y2="220" stroke="#d1003b" stroke-width="1"/>
<line x1="50.5" y1="223" x2="50.5" y2="233" stroke="#d1003b" stroke-width="1"/>
<rect x="48.5" y="220.5" width="3" height="2" fill="none" stroke="#d1003b" stroke-width="1"/>
<line x1="54.5" y1="212" x2="54.5" y2="235" stroke="#d1003b" stroke-width="1"/>
<rect x="52" y="215" width="4" height="19" fill="#d1003b"/>
<line x1="58.5" y1="223" x2="58.5" y2="245" stroke="#d1003b" stroke-width="1"/>
<rect x="56" y="234" width="4" height="8" fill="#d1003b"/>
<line x1="62.5" y1="217" x2="62.5" y2="219" stroke="#000" stroke-width="1"/>
<rect x="60.5" y="219.5" width="3" height="18" fill="none" stroke="#000" stroke-width="1"/>
<line x1="66.5" y1="196" x2="66.5" y2="197" stroke="#000" stroke-width="1"/>
<line x1="66.5" y1="214" x2="66.5" y2="223" stroke="#000" stroke-width="1"/>
<rect x="64.5" y="197.5" width="3" height="16" fill="none" stroke="#000" stroke-width="1"/>
<line x1="70.5" y1="201" x2="70.5" y2="203" stroke="#000" stroke-width="1"/>
<rect x="68.5" y="184.5" width="3" height="16" fill="none" stroke="#000" stroke-width="1"/>
<line x1="74.5" y1="186" x2="74.5" y2="190" stroke="#000" stroke-width="1"/>
<rect x="72.5" y="172.5" width="3" height="13" fill="none" stroke="#000" stroke-width="1"/>
<line x1="78.5" y1="168" x2="78.5" y2="182" stroke="#d1003b" stroke-width="1"/>
<rect x="76" y="173" width="4" height="2" fill="#d1003b"/>
<line x1="82.5" y1="159" x2="82.5" y2="161" stroke="#000" stroke-width="1"/>
<rect x="80.5" y="161.5" width="3" height="10" fill="none" stroke="#000" stroke-width="1"/>
<line x1="87.5" y1="164" x2="87.5" y2="175" stroke="#d1003b" stroke-width="1"/>
<rect x="85" y="166" width="4" height="9" fill="#d1003b"/>
<line x1="91.5" y1="172" x2="91.5" y2="173" stroke="#000" stroke-width="1"/>
<rect x="89.5" y="159.5" width="3" height="12" fill="none" stroke="#000" stroke-width="1"/>
<line x1="95.5" y1="160" x2="95.5" y2="165" stroke="#000" stroke-width="1"/>
<rect x="93.5" y="154.5" width="3" height="5" fill="none" stroke="#000" stroke-width="1"/>
<line x1="99.5" y1="156" x2="99.5" y2="161" stroke="#000" stroke-width="1"/>
<rect x="97.5" y="147.5" width="3" height="8" fill="none" stroke="#000" stroke-width="1"/>
<line x1="103.5" y1="133" x2="103.5" y2="135" stroke="#000" stroke-width="1"/>
<line x1="103.5" y1="142" x2="103.5" y2="145" stroke="#000" stroke-width="1"/>
<rect x="101.5" y="135.5" width="3" height="6" fill="none" stroke="#000" stroke-width="1"/>
<line x1="107.5" y1="135" x2="107.5" y2="147" stroke="#d1003b" stroke-width="1"/>
<rect x="105" y="136" width="4" height="6" fill="#d1003b"/>
<line x1="111.5" y1="141" x2="111.5" y2="158" stroke="#d1003b" stroke-width="1"/>
<rect x="109" y="142" width="4" height="16" fill="#d1003b"/>
<line x1="115.5" y1="153" x2="115.5" y2="154" stroke="#000" stroke-width="1"/>
<line x1="115.5" y1="156" x2="115.5" y2="163" stroke="#000" stroke-width="1"/>
<rect x="113.5" y="154.5" width="3" height="1" fill="none" stroke="#000" stroke-width="1"/>
<line x1="119.5" y1="154" x2="119.5" y2="156" stroke="#000" stroke-width="1"/>
<rect x="117.5" y="145.5" width="3" height="8" fill="none" stroke="#000" stroke-width="1"/>
<line x1="123.5" y1="143" x2="123.5" y2="162" stroke="#d1003b" stroke-width="1"/>
<rect x="121" y="148" width="4" height="11" fill="#d1003b"/>
<line x1="127.5" y1="163" x2="127.5" y2="176" stroke="#d1003b" stroke-width="1"/>
<rect x="125" y="165" width="4" height="4" fill="#d1003b"/>
<line x1="131.5" y1="159" x2="131.5" y2="164" stroke="#000" stroke-width="1"/>
<line x1="131.5" y1="171" x2="131.5" y2="176" stroke="#000" stroke-width="1"/>
<rect x="129.5" y="164.5" width="3" height="6" fill="none" stroke="#000" stroke-width="1"/>
<line x1="135.5" y1="159" x2="135.5" y2="171" stroke="#d1003b" stroke-width="1"/>
<rect x="133" y="165" width="4" height="3" fill="#d1003b"/>
<line x1="139.5" y1="172" x2="139.5" y2="186" stroke="#d1003b" stroke-width="1"/>
<rect x="137" y="172" width="4" height="13" fill="#d1003b"/>
<line x1="143.5" y1="171" x2="143.5" y2="192" stroke="#d1003b" stroke-width="1"/>
<rect x="141" y="178" width="4" height="10" fill="#d1003b"/>
<line x1="147.5" y1="174" x2="147.5" y2="176" stroke="#000" stroke-width="1"/>
<line x1="147.5" y1="189" x2="147.5" y2="190" stroke="#000" stroke-width="1"/>
<rect x="145.5" y="176.5" width="3" height="12" fill="none" stroke="#000" stroke-width="1"/>
<line x1="151.5" y1="173" x2="151.5" y2="190" stroke="#d1003b" stroke-width="1"/>
<rect x="149" y="176" width="4" height="14" fill="#d1003b"/>
<line x1="155.5" y1="184" x2="155.5" y2="189" stroke="#d1003b" stroke-width="1"/>
<line x1="155.5" y1="191" x2="155.5" y2="195" stroke="#d1003b" stroke-width="1"/>
<rect x="153.5" y="189.5" width="3" height="1" fill="none" stroke="#d1003b" stroke-width="1"/>
<line x1="159.5" y1="171" x2="159.5" y2="173" stroke="#000" stroke-width="1"/>
<rect x="157.5" y="173.5" width="3" height="16" fill="none" stroke="#000" stroke-width="1"/>
<line x1="163.5" y1="167" x2="163.5" y2="177" stroke="#d1003b" stroke-width="1"/>
<rect x="161" y="170" width="4" height="4" fill="#d1003b"/>
<line x1="168.5" y1="161" x2="168.5" y2="191" stroke="#d1003b" stroke-width="1"/>
<rect x="166" y="166" width="4" height="23" fill="#d1003b"/>
<line x1="172.5" y1="190" x2="172.5" y2="219" stroke="#d1003b" stroke-width="1"/>
<rect x="170" y="190" width="4" height="28" fill="#d1003b"/>
<line x1="176.5" y1="222" x2="176.5" y2="235" stroke="#000" stroke-width="1"/>
<rect x="174.5" y="211.5" width="3" height="10" fill="none" stroke="#000" stroke-width="1"/>
<line x1="180.5" y1="216" x2="180.5" y2="241" stroke="#d1003b" stroke-width="1"/>
<rect x="178" y="216" width="4" height="25" fill="#d1003b"/>
<line x1="184.5" y1="225" x2="184.5" y2="244" stroke="#000" stroke-width="1"/>
<rect x="182" y="238" width="4" height="2" fill="#000"/>
<line x1="188.5" y1="208" x2="188.5" y2="213" stroke="#000" stroke-width="1"/>
<line x1="188.5" y1="230" x2="188.5" y2="238" stroke="#000" stroke-width="1"/>
<rect x="186.5" y="213.5" width="3" height="16" fill="none" stroke="#000" stroke-width="1"/>
<line x1="192.5" y1="218" x2="192.5" y2="254" stroke="#d1003b" stroke-width="1"/>
<rect x="190" y="221" width="4" height="31" fill="#d1003b"/>
<line x1="196.5" y1="242" x2="196.5" y2="245" stroke="#000" stroke-width="1"/>
<line x1="196.5" y1="252" x2="196.5" y2="269" stroke="#000" stroke-width="1"/>
<rect x="194.5" y="245.5" width="3" height="6" fill="none" stroke="#000" stroke-width="1"/>
<line x1="200.5" y1="234" x2="200.5" y2="240" stroke="#000" stroke-width="1"/>
<line x1="200.5" y1="245" x2="200.5" y2="248" stroke="#000" stroke-width="1"/>
<rect x="198.5" y="240.5" width="3" height="4" fill="none" stroke="#000" stroke-width="1"/>
<line x1="204.5" y1="209" x2="204.5" y2="210" stroke="#000" stroke-width="1"/>
<line x1="204.5" y1="240" x2="204.5" y2="248" stroke="#000" stroke-width="1"/>
<rect x="202.5" y="210.5" width="3" height="29" fill="none" stroke="#000" stroke-width="1"/>
<line x1="208.5" y1="217" x2="208.5" y2="258" stroke="#d1003b" stroke-width="1"/>
<rect x="206" y="217" width="4" height="31" fill="#d1003b"/>
<line x1="212.5" y1="245" x2="212.5" y2="268" stroke="#d1003b" stroke-width="1"/>
<rect x="210" y="252" width="4" height="2" fill="#d1003b"/>
<line x1="216.5" y1="264" x2="216.5" y2="291" stroke="#d1003b" stroke-width="1"/>
<rect x="214" y="264" width="4" height="23" fill="#d1003b"/>
<line x1="220.5" y1="267" x2="220.5" y2="296" stroke="#000" stroke-width="1"/>
<rect x="218" y="276" width="4" height="9" fill="#000"/>
<line x1="224.5" y1="272" x2="224.5" y2="304" stroke="#d1003b" stroke-width="1"/>
<rect x="222" y="287" width="4" height="15" fill="#d1003b"/>
<line x1="228.5" y1="293" x2="228.5" y2="302" stroke="#d1003b" stroke-width="1"/>
<line x1="228.5" y1="310" x2="228.5" y2="322" stroke="#d1003b" stroke-width="1"/>
<rect x="226.5" y="302.5" width="3" height="7" fill="none" stroke="#d1003b" stroke-width="1"/>
<line x1="232.5" y1="274" x2="232.5" y2="278" stroke="#000" stroke-width="1"/>
<rect x="230.5" y="278.5" width="3" height="15" fill="none" stroke="#000" stroke-width="1"/>
<line x1="236.5" y1="272" x2="236.5" y2="289" stroke="#d1003b" stroke-width="1"/>
<rect x="234" y="281" width="4" height="2" fill="#d1003b"/>
<line x1="240.5" y1="261" x2="240.5" y2="262" stroke="#000" stroke-width="1"/>
<line x1="240.5" y1="272" x2="240.5" y2="277" stroke="#000" stroke-width="1"/>
<rect x="238.5" y="262.5" width="3" height="9" fill="none" stroke="#000" stroke-width="1"/>
<line x1="245.5" y1="271" x2="245.5" y2="308" stroke="#d1003b" stroke-width="1"/>
<rect x="243" y="271" width="4" height="34" fill="#d1003b"/>
<line x1="249.5" y1="298" x2="249.5" y2="310" stroke="#d1003b" stroke-width="1"/>
<line x1="249.5" y1="312" x2="249.5" y2="317" stroke="#d1003b" stroke-width="1"/>
<rect x="247.5" y="310.5" width="3" height="1" fill="none" stroke="#d1003b" stroke-width="1"/>
<line x1="253.5" y1="299" x2="253.5" y2="335" stroke="#000" stroke-width="1"/>
<rect x="251" y="303" width="4" height="8" fill="#000"/>
<line x1="257.5" y1="289" x2="257.5" y2="291" stroke="#000" stroke-width="1"/>
<line x1="257.5" y1="306" x2="257.5" y2="309" stroke="#000" stroke-width="1"/>
<rect x="255.5" y="291.5" width="3" height="14" fill="none" stroke="#000" stroke-width="1"/>
<line x1="261.5" y1="296" x2="261.5" y2="318" stroke="#d1003b" stroke-width="1"/>
<rect x="259" y="299" width="4" height="2" fill="#d1003b"/>
<line x1="265.5" y1="284" x2="265.5" y2="290" stroke="#000" stroke-width="1"/>
<line x1="265.5" y1="303" x2="265.5" y2="305" stroke="#000" stroke-width="1"/>
<rect x="263.5" y="290.5" width="3" height="12" fill="none" stroke="#000" stroke-width="1"/>
<line x1="269.5" y1="265" x2="269.5" y2="270" stroke="#000" stroke-width="1"/>
<rect x="267.5" y="270.5" width="3" height="18" fill="none" stroke="#000" stroke-width="1"/>
<rect x="271.5" y="245.5" width="3" height="20" fill="none" stroke="#000" stroke-width="1"/>
<line x1="277.5" y1="242" x2="277.5" y2="259" stroke="#d1003b" stroke-width="1"/>
<rect x="275" y="246" width="4" height="6" fill="#d1003b"/>
<line x1="281.5" y1="243" x2="281.5" y2="267" stroke="#d1003b" stroke-width="1"/>
<rect x="279" y="247" width="4" height="13" fill="#d1003b"/>
<line x1="285.5" y1="261" x2="285.5" y2="266" stroke="#000" stroke-width="1"/>
<rect x="283.5" y="240.5" width="3" height="20" fill="none" stroke="#000" stroke-width="1"/>
<line x1="289.5" y1="248" x2="289.5" y2="260" stroke="#d1003b" stroke-width="1"/>
<rect x="287" y="250" width="4" height="8" fill="#d1003b"/>
<line x1="293.5" y1="242" x2="293.5" y2="258" stroke="#000" stroke-width="1"/>
<rect x="291" y="250" width="4" height="5" fill="#000"/>
<line x1="297.5" y1="243" x2="297.5" y2="244" stroke="#000" stroke-width="1"/>
<line x1="297.5" y1="261" x2="297.5" y2="265" stroke="#000" stroke-width="1"/>
<rect x="295.5" y="244.5" width="3" height="16" fill="none" stroke="#000" stroke-width="1"/>
<line x1="301.5" y1="244" x2="301.5" y2="258" stroke="#d1003b" stroke-width="1"/>
<rect x="299" y="247" width="4" height="9" fill="#d1003b"/>
<line x1="305.5" y1="254" x2="305.5" y2="281" stroke="#d1003b" stroke-width="1"/>
<rect x="303" y="259" width="4" height="22" fill="#d1003b"/>
<line x1="309.5" y1="291" x2="309.5" y2="311" stroke="#d1003b" stroke-width="1"/>
<rect x="307" y="291" width="4" height="20" fill="#d1003b"/>
<line x1="313.5" y1="326" x2="313.5" y2="355" stroke="#d1003b" stroke-width="1"/>
<rect x="311" y="326" width="4" height="25" fill="#d1003b"/>
<line x1="317.5" y1="342" x2="317.5" y2="363" stroke="#d1003b" stroke-width="1"/>
<rect x="315" y="346" width="4" height="9" fill="#d1003b"/>
<line x1="322.5" y1="327" x2="322.5" y2="339" stroke="#000" stroke-width="1"/>
<line x1="322.5" y1="347" x2="322.5" y2="359" stroke="#000" stroke-width="1"/>
<rect x="320.5" y="339.5" width="3" height="7" fill="none" stroke="#000" stroke-width="1"/>
<line x1="326.5" y1="356" x2="326.5" y2="382" stroke="#d1003b" stroke-width="1"/>
<rect x="324" y="356" width="4" height="18" fill="#d1003b"/>
<line x1="330.5" y1="362" x2="330.5" y2="371" stroke="#000" stroke-width="1"/>
<line x1="330.5" y1="374" x2="330.5" y2="382" stroke="#000" stroke-width="1"/>
<rect x="328.5" y="371.5" width="3" height="2" fill="none" stroke="#000" stroke-width="1"/>
<line x1="334.5" y1="342" x2="334.5" y2="346" stroke="#000" stroke-width="1"/>
<rect x="332.5" y="346.5" width="3" height="14" fill="none" stroke="#000" stroke-width="1"/>
<line x1="338.5" y1="336" x2="338.5" y2="347" stroke="#d1003b" stroke-width="1"/>
<line x1="338.5" y1="355" x2="338.5" y2="360" stroke="#d1003b" stroke-width="1"/>
<rect x="336.5" y="347.5" width="3" height="7" fill="none" stroke="#d1003b" stroke-width="1"/>
<line x1="342.5" y1="336" x2="342.5" y2="338" stroke="#000" stroke-width="1"/>
<line x1="342.5" y1="344" x2="342.5" y2="353" stroke="#000" stroke-width="1"/>
<rect x="340.5" y="338.5" width="3" height="5" fill="none" stroke="#000" stroke-width="1"/>
<line x1="346.5" y1="306" x2="346.5" y2="307" stroke="#000" stroke-width="1"/>
<rect x="344.5" y="307.5" width="3" height="24" fill="none" stroke="#000" stroke-width="1"/>
<line x1="350.5" y1="303" x2="350.5" y2="314" stroke="#d1003b" stroke-width="1"/>
<rect x="348" y="305" width="4" height="6" fill="#d1003b"/>
<line x1="354.5" y1="298" x2="354.5" y2="332" stroke="#d1003b" stroke-width="1"/>
<rect x="352" y="307" width="4" height="25" fill="#d1003b"/>
<line x1="358.5" y1="327" x2="358.5" y2="338" stroke="#d1003b" stroke-width="1"/>
<rect x="356" y="330" width="4" height="3" fill="#d1003b"/>
<line x1="362.5" y1="331" x2="362.5" y2="354" stroke="#d1003b" stroke-width="1"/>
<rect x="360" y="340" width="4" height="2" fill="#d1003b"/>
<line x1="366.5" y1="329" x2="366.5" y2="330" stroke="#000" stroke-width="1"/>
<line x1="366.5" y1="343" x2="366.5" y2="351" stroke="#000" stroke-width="1"/>
<rect x="364.5" y="330.5" width="3" height="12" fill="none" stroke="#000" stroke-width="1"/>
<line x1="370.5" y1="340" x2="370.5" y2="353" stroke="#000" stroke-width="1"/>
<rect x="368.5" y="328.5" width="3" height="11" fill="none" stroke="#000" stroke-width="1"/>
<line x1="374.5" y1="318" x2="374.5" y2="325" stroke="#000" stroke-width="1"/>
<line x1="374.5" y1="329" x2="374.5" y2="335" stroke="#000" stroke-width="1"/>
<rect x="372.5" y="325.5" width="3" height="3" fill="none" stroke="#000" stroke-width="1"/>
<line x1="378.5" y1="307" x2="378.5" y2="309" stroke="#000" stroke-width="1"/>
<rect x="376.5" y="309.5" width="3" height="12" fill="none" stroke="#000" stroke-width="1"/>
<line x1="382.5" y1="305" x2="382.5" y2="310" stroke="#d1003b" stroke-width="1"/>
<line x1="382.5" y1="314" x2="382.5" y2="319" stroke="#d1003b" stroke-width="1"/>
<rect x="380.5" y="310.5" width="3" height="3" fill="none" stroke="#d1003b" stroke-width="1"/>
<line x1="386.5" y1="315" x2="386.5" y2="325" stroke="#d1003b" stroke-width="1"/>
<rect x="384" y="315" width="4" height="8" fill="#d1003b"/>
<line x1="390.5" y1="317" x2="390.5" y2="337" stroke="#d1003b" stroke-width="1"/>
<rect x="388" y="323" width="4" height="10" fill="#d1003b"/>
<line x1="394.5" y1="329" x2="394.5" y2="336" stroke="#d1003b" stroke-width="1"/>
<line x1="394.5" y1="349" x2="394.5" y2="359" stroke="#d1003b" stroke-width="1"/>
<rect x="392.5" y="336.5" width="3" height="12" fill="none" stroke="#d1003b" stroke-width="1"/>
<line x1="399.5" y1="338" x2="399.5" y2="339" stroke="#d1003b" stroke-width="1"/>
<line x1="399.5" y1="347" x2="399.5" y2="359" stroke="#d1003b" stroke-width="1"/>
<rect x="397.5" y="339.5" width="3" height="7" fill="none" stroke="#d1003b" stroke-width="1"/>
<rect x="401.5" y="320.5" width="3" height="12" fill="none" stroke="#000" stroke-width="1"/>
<line x1="407.5" y1="309" x2="407.5" y2="333" stroke="#d1003b" stroke-width="1"/>
<rect x="405" y="314" width="4" height="15" fill="#d1003b"/>
<rect x="409.5" y="300.5" width="3" height="20" fill="none" stroke="#000" stroke-width="1"/>
<line x1="415.5" y1="291" x2="415.5" y2="294" stroke="#000" stroke-width="1"/>
<line x1="415.5" y1="302" x2="415.5" y2="305" stroke="#000" stroke-width="1"/>
<rect x="413.5" y="294.5" width="3" height="7" fill="none" stroke="#000" stroke-width="1"/>
<line x1="419.5" y1="297" x2="419.5" y2="304" stroke="#000" stroke-width="1"/>
<rect x="417.5" y="284.5" width="3" height="12" fill="none" stroke="#000" stroke-width="1"/>
<line x1="423.5" y1="281" x2="423.5" y2="301" stroke="#d1003b" stroke-width="1"/>
<rect x="421" y="282" width="4" height="13" fill="#d1003b"/>
<line x1="427.5" y1="291" x2="427.5" y2="293" stroke="#000" stroke-width="1"/>
<line x1="427.5" y1="295" x2="427.5" y2="300" stroke="#000" stroke-width="1"/>
<rect x="425.5" y="293.5" width="3" height="1" fill="none" stroke="#000" stroke-width="1"/>
<line x1="431.5" y1="296" x2="431.5" y2="308" stroke="#d1003b" stroke-width="1"/>
<rect x="429" y="296" width="4" height="10" fill="#d1003b"/>
<line x1="435.5" y1="274" x2="435.5" y2="278" stroke="#000" stroke-width="1"/>
<rect x="433.5" y="278.5" width="3" height="19" fill="none" stroke="#000" stroke-width="1"/>
<line x1="439.5" y1="264" x2="439.5" y2="266" stroke="#000" stroke-width="1"/>
<line x1="439.5" y1="279" x2="439.5" y2="287" stroke="#000" stroke-width="1"/>
<rect x="437.5" y="266.5" width="3" height="12" fill="none" stroke="#000" stroke-width="1"/>
<line x1="443.5" y1="249" x2="443.5" y2="251" stroke="#000" stroke-width="1"/>
<line x1="443.5" y1="263" x2="443.5" y2="265" stroke="#000" stroke-width="1"/>
<rect x="441.5" y="251.5" width="3" height="11" fill="none" stroke="#000" stroke-width="1"/>
<line x1="447.5" y1="248" x2="447.5" y2="254" stroke="#d1003b" stroke-width="1"/>
<line x1="447.5" y1="257" x2="447.5" y2="261" stroke="#d1003b" stroke-width="1"/>
<rect x="445.5" y="254.5" width="3" height="2" fill="none" stroke="#d1003b" stroke-width="1"/>
<line x1="451.5" y1="249" x2="451.5" y2="265" stroke="#d1003b" stroke-width="1"/>
<rect x="449" y="258" width="4" height="4" fill="#d1003b"/>
<line x1="455.5" y1="242" x2="455.5" y2="245" stroke="#000" stroke-width="1"/>
<rect x="453.5" y="245.5" width="3" height="12" fill="none" stroke="#000" stroke-width="1"/>
<line x1="459.5" y1="244" x2="459.5" y2="251" stroke="#d1003b" stroke-width="1"/>
<rect x="457" y="245" width="4" height="2" fill="#d1003b"/>
<line x1="463.5" y1="246" x2="463.5" y2="248" stroke="#d1003b" stroke-width="1"/>
<line x1="463.5" y1="256" x2="463.5" y2="258" stroke="#d1003b" stroke-width="1"/>
<rect x="461.5" y="248.5" width="3" height="7" fill="none" stroke="#d1003b" stroke-width="1"/>
<line x1="467.5" y1="238" x2="467.5" y2="253" stroke="#d1003b" stroke-width="1"/>
<rect x="465" y="245" width="4" height="5" fill="#d1003b"/>
<line x1="471.5" y1="250" x2="471.5" y2="257" stroke="#d1003b" stroke-width="1"/>
<rect x="469" y="251" width="4" height="3" fill="#d1003b"/>
<line x1="475.5" y1="240" x2="475.5" y2="241" stroke="#000" stroke-width="1"/>
<rect x="473.5" y="232.5" width="3" height="7" fill="none" stroke="#000" stroke-width="1"/>
<line x1="480.5" y1="220" x2="480.5" y2="235" stroke="#d1003b" stroke-width="1"/>
<rect x="478" y="228" width="4" height="6" fill="#d1003b"/>
<line x1="484.5" y1="229" x2="484.5" y2="231" stroke="#000" stroke-width="1"/>
<rect x="482.5" y="215.5" width="3" height="13" fill="none" stroke="#000" stroke-width="1"/>
<line x1="488.5" y1="210" x2="488.5" y2="211" stroke="#000" stroke-width="1"/>
<line x1="488.5" y1="219" x2="488.5" y2="222" stroke="#000" stroke-width="1"/>
<rect x="486.5" y="211.5" width="3" height="7" fill="none" stroke="#000" stroke-width="1"/>
<line x1="492.5" y1="204" x2="492.5" y2="209" stroke="#000" stroke-width="1"/>
<line x1="492.5" y1="214" x2="492.5" y2="217" stroke="#000" stroke-width="1"/>
<rect x="490.5" y="209.5" width="3" height="4" fill="none" stroke="#000" stroke-width="1"/>
<line x1="496.5" y1="210" x2="496.5" y2="223" stroke="#d1003b" stroke-width="1"/>
<rect x="494" y="215" width="4" height="3" fill="#d1003b"/>
<line x1="500.5" y1="212" x2="500.5" y2="214" stroke="#000" stroke-width="1"/>
<line x1="500.5" y1="218" x2="500.5" y2="220" stroke="#000" stroke-width="1"/>
<rect x="498.5" y="214.5" width="3" height="3" fill="none" stroke="#000" stroke-width="1"/>
<line x1="504.5" y1="218" x2="504.5" y2="231" stroke="#d1003b" stroke-width="1"/>
<rect x="502" y="218" width="4" height="10" fill="#d1003b"/>
<line x1="508.5" y1="236" x2="508.5" y2="253" stroke="#d1003b" stroke-width="1"/>
<rect x="506" y="236" width="4" height="15" fill="#d1003b"/>
<line x1="512.5" y1="244" x2="512.5" y2="254" stroke="#d1003b" stroke-width="1"/>
<rect x="510" y="251" width="4" height="2" fill="#d1003b"/>
<line x1="516.5" y1="245" x2="516.5" y2="249" stroke="#000" stroke-width="1"/>
<line x1="516.5" y1="253" x2="516.5" y2="255" stroke="#000" stroke-width="1"/>
<rect x="514.5" y="249.5" width="3" height="3" fill="none" stroke="#000" stroke-width="1"/>
<line x1="520.5" y1="234" x2="520.5" y2="235" stroke="#000" stroke-width="1"/>
<line x1="520.5" y1="247" x2="520.5" y2="248" stroke="#000" stroke-width="1"/>
<rect x="518.5" y="235.5" width="3" height="11" fill="none" stroke="#000" stroke-width="1"/>
<line x1="524.5" y1="234" x2="524.5" y2="271" stroke="#d1003b" stroke-width="1"/>
<rect x="522" y="235" width="4" height="36" fill="#d1003b"/>
<line x1="528.5" y1="268" x2="528.5" y2="281" stroke="#d1003b" stroke-width="1"/>
<rect x="526" y="275" width="4" height="2" fill="#d1003b"/>
<line x1="532.5" y1="273" x2="532.5" y2="294" stroke="#d1003b" stroke-width="1"/>
<rect x="530" y="274" width="4" height="15" fill="#d1003b"/>
<line x1="536.5" y1="280" x2="536.5" y2="297" stroke="#d1003b" stroke-width="1"/>
<rect x="534" y="284" width="4" height="13" fill="#d1003b"/>
<line x1="540.5" y1="292" x2="540.5" y2="293" stroke="#000" stroke-width="1"/>
<line x1="540.5" y1="301" x2="540.5" y2="310" stroke="#000" stroke-width="1"/>
<rect x="538.5" y="293.5" width="3" height="7" fill="none" stroke="#000" stroke-width="1"/>
<line x1="544.5" y1="280" x2="544.5" y2="309" stroke="#d1003b" stroke-width="1"/>
<rect x="542" y="286" width="4" height="19" fill="#d1003b"/>
<line x1="548.5" y1="299" x2="548.5" y2="315" stroke="#d1003b" stroke-width="1"/>
<rect x="546" y="302" width="4" height="7" fill="#d1003b"/>
<line x1="552.5" y1="287" x2="552.5" y2="289" stroke="#000" stroke-width="1"/>
<rect x="550.5" y="289.5" width="3" height="19" fill="none" stroke="#000" stroke-width="1"/>
<line x1="557.5" y1="282" x2="557.5" y2="283" stroke="#000" stroke-width="1"/>
<line x1="557.5" y1="295" x2="557.5" y2="299" stroke="#000" stroke-width="1"/>
<rect x="555.5" y="283.5" width="3" height="11" fill="none" stroke="#000" stroke-width="1"/>
<line x1="561.5" y1="265" x2="561.5" y2="267" stroke="#000" stroke-width="1"/>
<rect x="559.5" y="267.5" width="3" height="11" fill="none" stroke="#000" stroke-width="1"/>
<line x1="565.5" y1="254" x2="565.5" y2="256" stroke="#000" stroke-width="1"/>
<rect x="563.5" y="256.5" width="3" height="7" fill="none" stroke="#000" stroke-width="1"/>
<line x1="569.5" y1="275" x2="569.5" y2="305" stroke="#d1003b" stroke-width="1"/>
<rect x="567" y="275" width="4" height="28" fill="#d1003b"/>
<line x1="573.5" y1="294" x2="573.5" y2="298" stroke="#000" stroke-width="1"/>
<line x1="573.5" y1="300" x2="573.5" y2="308" stroke="#000" stroke-width="1"/>
<rect x="571.5" y="298.5" width="3" height="1" fill="none" stroke="#000" stroke-width="1"/>
<line x1="577.5" y1="295" x2="577.5" y2="314" stroke="#d1003b" stroke-width="1"/>
<rect x="575" y="302" width="4" height="9" fill="#d1003b"/>
<line x1="581.5" y1="315" x2="581.5" y2="328" stroke="#d1003b" stroke-width="1"/>
<rect x="579" y="315" width="4" height="3" fill="#d1003b"/>
<line x1="585.5" y1="324" x2="585.5" y2="327" stroke="#000" stroke-width="1"/>
<rect x="583.5" y="310.5" width="3" height="13" fill="none" stroke="#000" stroke-width="1"/>
<line x1="589.5" y1="316" x2="589.5" y2="330" stroke="#d1003b" stroke-width="1"/>
<rect x="587" y="317" width="4" height="6" fill="#d1003b"/>
<line x1="593.5" y1="308" x2="593.5" y2="340" stroke="#d1003b" stroke-width="1"/>
<rect x="591" y="318" width="4" height="22" fill="#d1003b"/>
<line x1="597.5" y1="334" x2="597.5" y2="351" stroke="#d1003b" stroke-width="1"/>
<rect x="595" y="341" width="4" height="8" fill="#d1003b"/>
<line x1="601.5" y1="356" x2="601.5" y2="379" stroke="#d1003b" stroke-width="1"/>
<rect x="599" y="356" width="4" height="11" fill="#d1003b"/>
<line x1="605.5" y1="359" x2="605.5" y2="380" stroke="#d1003b" stroke-width="1"/>
<rect x="603" y="369" width="4" height="8" fill="#d1003b"/>
<line x1="609.5" y1="359" x2="609.5" y2="386" stroke="#d1003b" stroke-width="1"/>
<rect x="607" y="368" width="4" height="11" fill="#d1003b"/>
<line x1="613.5" y1="354" x2="613.5" y2="359" stroke="#000" stroke-width="1"/>
<line x1="613.5" y1="378" x2="613.5" y2="381" stroke="#000" stroke-width="1"/>
<rect x="611.5" y="359.5" width="3" height="18" fill="none" stroke="#000" stroke-width="1"/>
<line x1="617.5" y1="367" x2="617.5" y2="390" stroke="#d1003b" stroke-width="1"/>
<rect x="615" y="367" width="4" height="14" fill="#d1003b"/>
<line x1="621.5" y1="372" x2="621.5" y2="397" stroke="#d1003b" stroke-width="1"/>
<rect x="619" y="382" width="4" height="15" fill="#d1003b"/>
<line x1="625.5" y1="364" x2="625.5" y2="370" stroke="#000" stroke-width="1"/>
<line x1="625.5" y1="390" x2="625.5" y2="391" stroke="#000" stroke-width="1"/>
<rect x="623.5" y="370.5" width="3" height="19" fill="none" stroke="#000" stroke-width="1"/>
<rect x="627.5" y="339.5" width="3" height="18" fill="none" stroke="#000" stroke-width="1"/>
<rect x="33" y="126" width="133" height="11" fill="#fff"/>
<rect x="33" y="137" width="83" height="11" fill="#fff"/>
<rect x="33" y="148" width="88" height="11" fill="#fff"/>
<rect x="33" y="159" width="109" height="12" fill="#fff"/>
<g stroke="#000" stroke-width="1"><line x1="36.5" y1="128.5" x2="36.5" y2="135.5"/><rect x="35.5" y="130" width="2" height="4" fill="#fff"/><rect x="38.5" y="131" width="2" height="3" fill="#000"/><line x1="42.5" y1="128.5" x2="42.5" y2="135.5"/><rect x="41.5" y="129.5" width="2" height="5" fill="#fff"/></g>
<text x="47.6" y="135.5" font-size="9.5" fill="#000" font-weight="normal" text-anchor="start" textLength="117.4" lengthAdjust="spacing" >$SPX (Daily) 3790.93</text>
<line x1="35" y1="143" x2="43.7" y2="143" stroke="#1a1a9a" stroke-width="2"/>
<text x="45.6" y="146.8" font-size="9.7" fill="#1a1a9a" font-weight="normal" text-anchor="start" textLength="68.4" lengthAdjust="spacingAndGlyphs" >MA(50) 4002.49</text>
<line x1="35" y1="153.8" x2="43.7" y2="153.8" stroke="#d0103a" stroke-width="2"/>
<text x="45.6" y="157.7" font-size="9.7" fill="#d0103a" font-weight="normal" text-anchor="start" textLength="73.4" lengthAdjust="spacingAndGlyphs" >MA(200) 4203.49</text>
<g fill="#777" stroke="#444" stroke-width="0.8"><rect x="35" y="163" width="1.6" height="4.5"/><rect x="38" y="160.5" width="1.6" height="7"/><rect x="41" y="162.5" width="1.6" height="5"/></g>
<text x="45.6" y="167.6" font-size="9.7" fill="#444" font-weight="normal" text-anchor="start" textLength="94.4" lengthAdjust="spacingAndGlyphs" >Volume 2,892,707,840</text>
<line x1="119.4" y1="150.6" x2="326.3" y2="382.8" stroke="#1212ee" stroke-width="2.1"/>
<line x1="338.9" y1="375.9" x2="492.1" y2="230" stroke="#1212ee" stroke-width="2.1"/>
<line x1="472.2" y1="203" x2="519.8" y2="203" stroke="#1212ee" stroke-width="2.1"/>
<line x1="496.6" y1="250.7" x2="589.2" y2="373.9" stroke="#1212ee" stroke-width="2.1"/>
<rect x="592.9" y="348.9" width="8.1" height="6.9" fill="none" stroke="#f59a00" stroke-width="1.8"/>
<line x1="38.5" y1="417.5" x2="38.5" y2="514.5" stroke="#000" stroke-opacity="0.15" stroke-width="1"/>
<line x1="58.5" y1="417.5" x2="58.5" y2="514.5" stroke="#000" stroke-opacity="0.15" stroke-width="1"/>
<line x1="79.5" y1="417.5" x2="79.5" y2="514.5" stroke="#000" stroke-opacity="0.15" stroke-width="1"/>
<line x1="99.5" y1="417.5" x2="99.5" y2="514.5" stroke="#000" stroke-opacity="0.15" stroke-width="1"/>
<line x1="119.5" y1="417.5" x2="119.5" y2="514.5" stroke="#000" stroke-opacity="0.15" stroke-width="1"/>
<line x1="139.5" y1="417.5" x2="139.5" y2="514.5" stroke="#000" stroke-opacity="0.15" stroke-width="1"/>
<line x1="156.5" y1="417.5" x2="156.5" y2="514.5" stroke="#000" stroke-opacity="0.15" stroke-width="1"/>
<line x1="176.5" y1="417.5" x2="176.5" y2="514.5" stroke="#000" stroke-opacity="0.15" stroke-width="1"/>
<line x1="216.5" y1="417.5" x2="216.5" y2="514.5" stroke="#000" stroke-opacity="0.15" stroke-width="1"/>
<line x1="237.5" y1="417.5" x2="237.5" y2="514.5" stroke="#000" stroke-opacity="0.15" stroke-width="1"/>
<line x1="257.5" y1="417.5" x2="257.5" y2="514.5" stroke="#000" stroke-opacity="0.15" stroke-width="1"/>
<line x1="277.5" y1="417.5" x2="277.5" y2="514.5" stroke="#000" stroke-opacity="0.15" stroke-width="1"/>
<line x1="293.5" y1="417.5" x2="293.5" y2="514.5" stroke="#000" stroke-opacity="0.15" stroke-width="1"/>
<line x1="314.5" y1="417.5" x2="314.5" y2="514.5" stroke="#000" stroke-opacity="0.15" stroke-width="1"/>
<line x1="334.5" y1="417.5" x2="334.5" y2="514.5" stroke="#000" stroke-opacity="0.15" stroke-width="1"/>
<line x1="350.5" y1="417.5" x2="350.5" y2="514.5" stroke="#000" stroke-opacity="0.15" stroke-width="1"/>
<line x1="370.5" y1="417.5" x2="370.5" y2="514.5" stroke="#000" stroke-opacity="0.15" stroke-width="1"/>
<line x1="387.5" y1="417.5" x2="387.5" y2="514.5" stroke="#000" stroke-opacity="0.15" stroke-width="1"/>
<line x1="407.5" y1="417.5" x2="407.5" y2="514.5" stroke="#000" stroke-opacity="0.15" stroke-width="1"/>
<line x1="427.5" y1="417.5" x2="427.5" y2="514.5" stroke="#000" stroke-opacity="0.15" stroke-width="1"/>
<line x1="468.5" y1="417.5" x2="468.5" y2="514.5" stroke="#000" stroke-opacity="0.15" stroke-width="1"/>
<line x1="488.5" y1="417.5" x2="488.5" y2="514.5" stroke="#000" stroke-opacity="0.15" stroke-width="1"/>
<line x1="508.5" y1="417.5" x2="508.5" y2="514.5" stroke="#000" stroke-opacity="0.15" stroke-width="1"/>
<line x1="528.5" y1="417.5" x2="528.5" y2="514.5" stroke="#000" stroke-opacity="0.15" stroke-width="1"/>
<line x1="549.5" y1="417.5" x2="549.5" y2="514.5" stroke="#000" stroke-opacity="0.15" stroke-width="1"/>
<line x1="565.5" y1="417.5" x2="565.5" y2="514.5" stroke="#000" stroke-opacity="0.15" stroke-width="1"/>
<line x1="585.5" y1="417.5" x2="585.5" y2="514.5" stroke="#000" stroke-opacity="0.15" stroke-width="1"/>
<line x1="605.5" y1="417.5" x2="605.5" y2="514.5" stroke="#000" stroke-opacity="0.15" stroke-width="1"/>
<line x1="646.5" y1="417.5" x2="646.5" y2="514.5" stroke="#000" stroke-opacity="0.15" stroke-width="1"/>
<line x1="115.5" y1="417.5" x2="115.5" y2="514.5" stroke="#000" stroke-opacity="0.27" stroke-width="1"/>
<line x1="196.5" y1="417.5" x2="196.5" y2="514.5" stroke="#000" stroke-opacity="0.27" stroke-width="1"/>
<line x1="281.5" y1="417.5" x2="281.5" y2="514.5" stroke="#000" stroke-opacity="0.27" stroke-width="1"/>
<line x1="366.5" y1="417.5" x2="366.5" y2="514.5" stroke="#000" stroke-opacity="0.27" stroke-width="1"/>
<line x1="447.5" y1="417.5" x2="447.5" y2="514.5" stroke="#000" stroke-opacity="0.27" stroke-width="1"/>
<line x1="541.5" y1="417.5" x2="541.5" y2="514.5" stroke="#000" stroke-opacity="0.27" stroke-width="1"/>
<line x1="626.5" y1="417.5" x2="626.5" y2="514.5" stroke="#000" stroke-opacity="0.27" stroke-width="1"/>
<line x1="32.5" y1="421.5" x2="656.5" y2="421.5" stroke="#000" stroke-opacity="0.12" stroke-width="1"/>
<line x1="32.5" y1="441.5" x2="656.5" y2="441.5" stroke="#000" stroke-opacity="0.12" stroke-width="1"/>
<line x1="32.5" y1="461.5" x2="656.5" y2="461.5" stroke="#000" stroke-opacity="0.12" stroke-width="1"/>
<line x1="32.5" y1="481.5" x2="656.5" y2="481.5" stroke="#000" stroke-opacity="0.12" stroke-width="1"/>
<line x1="32.5" y1="501.5" x2="656.5" y2="501.5" stroke="#000" stroke-opacity="0.12" stroke-width="1"/>
<rect x="32.5" y="460.5" width="4" height="1" fill="#4ba2d2" stroke="#1f5576" stroke-width="1"/>
<rect x="36.5" y="461.5" width="4" height="2" fill="#4ba2d2" stroke="#1f5576" stroke-width="1"/>
<rect x="40.5" y="461.5" width="4" height="4" fill="#4ba2d2" stroke="#1f5576" stroke-width="1"/>
<rect x="44.5" y="461.5" width="5" height="3" fill="#4ba2d2" stroke="#1f5576" stroke-width="1"/>
<rect x="49.5" y="461.5" width="4" height="2" fill="#4ba2d2" stroke="#1f5576" stroke-width="1"/>
<rect x="53.5" y="461.5" width="4" height="2" fill="#4ba2d2" stroke="#1f5576" stroke-width="1"/>
<rect x="57.5" y="461.5" width="4" height="3" fill="#4ba2d2" stroke="#1f5576" stroke-width="1"/>
<rect x="61.5" y="461.5" width="4" height="1" fill="#4ba2d2" stroke="#1f5576" stroke-width="1"/>
<rect x="65.5" y="458.5" width="4" height="3" fill="#4ba2d2" stroke="#1f5576" stroke-width="1"/>
<rect x="69.5" y="454.5" width="4" height="7" fill="#4ba2d2" stroke="#1f5576" stroke-width="1"/>
<rect x="73.5" y="450.5" width="4" height="11" fill="#4ba2d2" stroke="#1f5576" stroke-width="1"/>
<rect x="77.5" y="448.5" width="4" height="13" fill="#4ba2d2" stroke="#1f5576" stroke-width="1"/>
<rect x="81.5" y="446.5" width="4" height="15" fill="#4ba2d2" stroke="#1f5576" stroke-width="1"/>
<rect x="85.5" y="447.5" width="4" height="14" fill="#4ba2d2" stroke="#1f5576" stroke-width="1"/>
<rect x="89.5" y="447.5" width="4" height="14" fill="#4ba2d2" stroke="#1f5576" stroke-width="1"/>
<rect x="93.5" y="447.5" width="4" height="14" fill="#4ba2d2" stroke="#1f5576" stroke-width="1"/>
<rect x="97.5" y="446.5" width="4" height="15" fill="#4ba2d2" stroke="#1f5576" stroke-width="1"/>
<rect x="101.5" y="446.5" width="4" height="15" fill="#4ba2d2" stroke="#1f5576" stroke-width="1"/>
<rect x="105.5" y="447.5" width="4" height="14" fill="#4ba2d2" stroke="#1f5576" stroke-width="1"/>
<rect x="109.5" y="450.5" width="4" height="11" fill="#4ba2d2" stroke="#1f5576" stroke-width="1"/>
<rect x="113.5" y="452.5" width="4" height="9" fill="#4ba2d2" stroke="#1f5576" stroke-width="1"/>
<rect x="117.5" y="454.5" width="4" height="7" fill="#4ba2d2" stroke="#1f5576" stroke-width="1"/>
<rect x="121.5" y="456.5" width="4" height="5" fill="#4ba2d2" stroke="#1f5576" stroke-width="1"/>
<rect x="125.5" y="459.5" width="5" height="2" fill="#4ba2d2" stroke="#1f5576" stroke-width="1"/>
<rect x="130.5" y="461.5" width="4" height="1" fill="#4ba2d2" stroke="#1f5576" stroke-width="1"/>
<rect x="134.5" y="461.5" width="4" height="2" fill="#4ba2d2" stroke="#1f5576" stroke-width="1"/>
<rect x="138.5" y="461.5" width="4" height="5" fill="#4ba2d2" stroke="#1f5576" stroke-width="1"/>
<rect x="142.5" y="461.5" width="4" height="7" fill="#4ba2d2" stroke="#1f5576" stroke-width="1"/>
<rect x="146.5" y="461.5" width="4" height="7" fill="#4ba2d2" stroke="#1f5576" stroke-width="1"/>
<rect x="150.5" y="461.5" width="4" height="8" fill="#4ba2d2" stroke="#1f5576" stroke-width="1"/>
<rect x="154.5" y="461.5" width="4" height="8" fill="#4ba2d2" stroke="#1f5576" stroke-width="1"/>
<rect x="158.5" y="461.5" width="4" height="6" fill="#4ba2d2" stroke="#1f5576" stroke-width="1"/>
<rect x="162.5" y="461.5" width="4" height="5" fill="#4ba2d2" stroke="#1f5576" stroke-width="1"/>
<rect x="166.5" y="461.5" width="4" height="5" fill="#4ba2d2" stroke="#1f5576" stroke-width="1"/>
<rect x="170.5" y="461.5" width="4" height="9" fill="#4ba2d2" stroke="#1f5576" stroke-width="1"/>
<rect x="174.5" y="461.5" width="4" height="9" fill="#4ba2d2" stroke="#1f5576" stroke-width="1"/>
<rect x="178.5" y="461.5" width="4" height="13" fill="#4ba2d2" stroke="#1f5576" stroke-width="1"/>
<rect x="182.5" y="461.5" width="4" height="14" fill="#4ba2d2" stroke="#1f5576" stroke-width="1"/>
<rect x="186.5" y="461.5" width="4" height="11" fill="#4ba2d2" stroke="#1f5576" stroke-width="1"/>
<rect x="190.5" y="461.5" width="4" height="13" fill="#4ba2d2" stroke="#1f5576" stroke-width="1"/>
<rect x="194.5" y="461.5" width="4" height="12" fill="#4ba2d2" stroke="#1f5576" stroke-width="1"/>
<rect x="198.5" y="461.5" width="4" height="11" fill="#4ba2d2" stroke="#1f5576" stroke-width="1"/>
<rect x="202.5" y="461.5" width="5" height="6" fill="#4ba2d2" stroke="#1f5576" stroke-width="1"/>
<rect x="207.5" y="461.5" width="4" height="6" fill="#4ba2d2" stroke="#1f5576" stroke-width="1"/>
<rect x="211.5" y="461.5" width="4" height="6" fill="#4ba2d2" stroke="#1f5576" stroke-width="1"/>
<rect x="215.5" y="461.5" width="4" height="9" fill="#4ba2d2" stroke="#1f5576" stroke-width="1"/>
<rect x="219.5" y="461.5" width="4" height="10" fill="#4ba2d2" stroke="#1f5576" stroke-width="1"/>
<rect x="223.5" y="461.5" width="4" height="12" fill="#4ba2d2" stroke="#1f5576" stroke-width="1"/>
<rect x="227.5" y="461.5" width="4" height="12" fill="#4ba2d2" stroke="#1f5576" stroke-width="1"/>
<rect x="231.5" y="461.5" width="4" height="9" fill="#4ba2d2" stroke="#1f5576" stroke-width="1"/>
<rect x="235.5" y="461.5" width="4" height="6" fill="#4ba2d2" stroke="#1f5576" stroke-width="1"/>
<rect x="239.5" y="461.5" width="4" height="2" fill="#4ba2d2" stroke="#1f5576" stroke-width="1"/>
<rect x="243.5" y="461.5" width="4" height="3" fill="#4ba2d2" stroke="#1f5576" stroke-width="1"/>
<rect x="247.5" y="461.5" width="4" height="4" fill="#4ba2d2" stroke="#1f5576" stroke-width="1"/>
<rect x="251.5" y="461.5" width="4" height="4" fill="#4ba2d2" stroke="#1f5576" stroke-width="1"/>
<rect x="255.5" y="461.5" width="4" height="1" fill="#4ba2d2" stroke="#1f5576" stroke-width="1"/>
<rect x="259.5" y="461.5" width="4" height="1" fill="#4ba2d2" stroke="#1f5576" stroke-width="1"/>
<rect x="263.5" y="459.5" width="4" height="2" fill="#4ba2d2" stroke="#1f5576" stroke-width="1"/>
<rect x="267.5" y="455.5" width="4" height="6" fill="#4ba2d2" stroke="#1f5576" stroke-width="1"/>
<rect x="271.5" y="451.5" width="4" height="10" fill="#4ba2d2" stroke="#1f5576" stroke-width="1"/>
<rect x="275.5" y="448.5" width="4" height="13" fill="#4ba2d2" stroke="#1f5576" stroke-width="1"/>
<rect x="279.5" y="448.5" width="5" height="13" fill="#4ba2d2" stroke="#1f5576" stroke-width="1"/>
<rect x="284.5" y="446.5" width="4" height="15" fill="#4ba2d2" stroke="#1f5576" stroke-width="1"/>
<rect x="288.5" y="448.5" width="4" height="13" fill="#4ba2d2" stroke="#1f5576" stroke-width="1"/>
<rect x="292.5" y="449.5" width="4" height="12" fill="#4ba2d2" stroke="#1f5576" stroke-width="1"/>
<rect x="296.5" y="449.5" width="4" height="12" fill="#4ba2d2" stroke="#1f5576" stroke-width="1"/>
<rect x="300.5" y="450.5" width="4" height="11" fill="#4ba2d2" stroke="#1f5576" stroke-width="1"/>
<rect x="304.5" y="454.5" width="4" height="7" fill="#4ba2d2" stroke="#1f5576" stroke-width="1"/>
<rect x="308.5" y="460.5" width="4" height="1" fill="#4ba2d2" stroke="#1f5576" stroke-width="1"/>
<rect x="312.5" y="461.5" width="4" height="6" fill="#4ba2d2" stroke="#1f5576" stroke-width="1"/>
<rect x="316.5" y="461.5" width="4" height="11" fill="#4ba2d2" stroke="#1f5576" stroke-width="1"/>
<rect x="320.5" y="461.5" width="4" height="11" fill="#4ba2d2" stroke="#1f5576" stroke-width="1"/>
<rect x="324.5" y="461.5" width="4" height="14" fill="#4ba2d2" stroke="#1f5576" stroke-width="1"/>
<rect x="328.5" y="461.5" width="4" height="15" fill="#4ba2d2" stroke="#1f5576" stroke-width="1"/>
<rect x="332.5" y="461.5" width="4" height="12" fill="#4ba2d2" stroke="#1f5576" stroke-width="1"/>
<rect x="336.5" y="461.5" width="4" height="9" fill="#4ba2d2" stroke="#1f5576" stroke-width="1"/>
<rect x="340.5" y="461.5" width="4" height="6" fill="#4ba2d2" stroke="#1f5576" stroke-width="1"/>
<rect x="344.5" y="461.5" width="4" height="1" fill="#4ba2d2" stroke="#1f5576" stroke-width="1"/>
<rect x="348.5" y="458.5" width="4" height="3" fill="#4ba2d2" stroke="#1f5576" stroke-width="1"/>
<rect x="352.5" y="457.5" width="4" height="4" fill="#4ba2d2" stroke="#1f5576" stroke-width="1"/>
<rect x="356.5" y="457.5" width="5" height="4" fill="#4ba2d2" stroke="#1f5576" stroke-width="1"/>
<rect x="361.5" y="458.5" width="4" height="3" fill="#4ba2d2" stroke="#1f5576" stroke-width="1"/>
<rect x="365.5" y="457.5" width="4" height="4" fill="#4ba2d2" stroke="#1f5576" stroke-width="1"/>
<rect x="369.5" y="456.5" width="4" height="5" fill="#4ba2d2" stroke="#1f5576" stroke-width="1"/>
<rect x="373.5" y="455.5" width="4" height="6" fill="#4ba2d2" stroke="#1f5576" stroke-width="1"/>
<rect x="377.5" y="454.5" width="4" height="7" fill="#4ba2d2" stroke="#1f5576" stroke-width="1"/>
<rect x="381.5" y="453.5" width="4" height="8" fill="#4ba2d2" stroke="#1f5576" stroke-width="1"/>
<rect x="385.5" y="453.5" width="4" height="8" fill="#4ba2d2" stroke="#1f5576" stroke-width="1"/>
<rect x="389.5" y="455.5" width="4" height="6" fill="#4ba2d2" stroke="#1f5576" stroke-width="1"/>
<rect x="393.5" y="457.5" width="4" height="4" fill="#4ba2d2" stroke="#1f5576" stroke-width="1"/>
<rect x="397.5" y="458.5" width="4" height="3" fill="#4ba2d2" stroke="#1f5576" stroke-width="1"/>
<rect x="401.5" y="457.5" width="4" height="4" fill="#4ba2d2" stroke="#1f5576" stroke-width="1"/>
<rect x="405.5" y="457.5" width="4" height="4" fill="#4ba2d2" stroke="#1f5576" stroke-width="1"/>
<rect x="409.5" y="455.5" width="4" height="6" fill="#4ba2d2" stroke="#1f5576" stroke-width="1"/>
<rect x="413.5" y="453.5" width="4" height="8" fill="#4ba2d2" stroke="#1f5576" stroke-width="1"/>
<rect x="417.5" y="451.5" width="4" height="10" fill="#4ba2d2" stroke="#1f5576" stroke-width="1"/>
<rect x="421.5" y="451.5" width="4" height="10" fill="#4ba2d2" stroke="#1f5576" stroke-width="1"/>
<rect x="425.5" y="452.5" width="4" height="9" fill="#4ba2d2" stroke="#1f5576" stroke-width="1"/>
<rect x="429.5" y="453.5" width="4" height="8" fill="#4ba2d2" stroke="#1f5576" stroke-width="1"/>
<rect x="433.5" y="452.5" width="4" height="9" fill="#4ba2d2" stroke="#1f5576" stroke-width="1"/>
<rect x="437.5" y="451.5" width="5" height="10" fill="#4ba2d2" stroke="#1f5576" stroke-width="1"/>
<rect x="442.5" y="449.5" width="4" height="12" fill="#4ba2d2" stroke="#1f5576" stroke-width="1"/>
<rect x="446.5" y="449.5" width="4" height="12" fill="#4ba2d2" stroke="#1f5576" stroke-width="1"/>
<rect x="450.5" y="450.5" width="4" height="11" fill="#4ba2d2" stroke="#1f5576" stroke-width="1"/>
<rect x="454.5" y="450.5" width="4" height="11" fill="#4ba2d2" stroke="#1f5576" stroke-width="1"/>
<rect x="458.5" y="451.5" width="4" height="10" fill="#4ba2d2" stroke="#1f5576" stroke-width="1"/>
<rect x="462.5" y="452.5" width="4" height="9" fill="#4ba2d2" stroke="#1f5576" stroke-width="1"/>
<rect x="466.5" y="454.5" width="4" height="7" fill="#4ba2d2" stroke="#1f5576" stroke-width="1"/>
<rect x="470.5" y="456.5" width="4" height="5" fill="#4ba2d2" stroke="#1f5576" stroke-width="1"/>
<rect x="474.5" y="455.5" width="4" height="6" fill="#4ba2d2" stroke="#1f5576" stroke-width="1"/>
<rect x="478.5" y="455.5" width="4" height="6" fill="#4ba2d2" stroke="#1f5576" stroke-width="1"/>
<rect x="482.5" y="454.5" width="4" height="7" fill="#4ba2d2" stroke="#1f5576" stroke-width="1"/>
<rect x="486.5" y="454.5" width="4" height="7" fill="#4ba2d2" stroke="#1f5576" stroke-width="1"/>
<rect x="490.5" y="454.5" width="4" height="7" fill="#4ba2d2" stroke="#1f5576" stroke-width="1"/>
<rect x="494.5" y="455.5" width="4" height="6" fill="#4ba2d2" stroke="#1f5576" stroke-width="1"/>
<rect x="498.5" y="456.5" width="4" height="5" fill="#4ba2d2" stroke="#1f5576" stroke-width="1"/>
<rect x="502.5" y="459.5" width="4" height="2" fill="#4ba2d2" stroke="#1f5576" stroke-width="1"/>
<rect x="506.5" y="461.5" width="4" height="3" fill="#4ba2d2" stroke="#1f5576" stroke-width="1"/>
<rect x="510.5" y="461.5" width="4" height="6" fill="#4ba2d2" stroke="#1f5576" stroke-width="1"/>
<rect x="514.5" y="461.5" width="5" height="7" fill="#4ba2d2" stroke="#1f5576" stroke-width="1"/>
<rect x="519.5" y="461.5" width="4" height="7" fill="#4ba2d2" stroke="#1f5576" stroke-width="1"/>
<rect x="523.5" y="461.5" width="4" height="10" fill="#4ba2d2" stroke="#1f5576" stroke-width="1"/>
<rect x="527.5" y="461.5" width="4" height="12" fill="#4ba2d2" stroke="#1f5576" stroke-width="1"/>
<rect x="531.5" y="461.5" width="4" height="14" fill="#4ba2d2" stroke="#1f5576" stroke-width="1"/>
<rect x="535.5" y="461.5" width="4" height="16" fill="#4ba2d2" stroke="#1f5576" stroke-width="1"/>
<rect x="539.5" y="461.5" width="4" height="16" fill="#4ba2d2" stroke="#1f5576" stroke-width="1"/>
<rect x="543.5" y="461.5" width="4" height="16" fill="#4ba2d2" stroke="#1f5576" stroke-width="1"/>
<rect x="547.5" y="461.5" width="4" height="16" fill="#4ba2d2" stroke="#1f5576" stroke-width="1"/>
<rect x="551.5" y="461.5" width="4" height="13" fill="#4ba2d2" stroke="#1f5576" stroke-width="1"/>
<rect x="555.5" y="461.5" width="4" height="10" fill="#4ba2d2" stroke="#1f5576" stroke-width="1"/>
<rect x="559.5" y="461.5" width="4" height="6" fill="#4ba2d2" stroke="#1f5576" stroke-width="1"/>
<rect x="563.5" y="461.5" width="4" height="2" fill="#4ba2d2" stroke="#1f5576" stroke-width="1"/>
<rect x="567.5" y="461.5" width="4" height="4" fill="#4ba2d2" stroke="#1f5576" stroke-width="1"/>
<rect x="571.5" y="461.5" width="4" height="4" fill="#4ba2d2" stroke="#1f5576" stroke-width="1"/>
<rect x="575.5" y="461.5" width="4" height="6" fill="#4ba2d2" stroke="#1f5576" stroke-width="1"/>
<rect x="579.5" y="461.5" width="4" height="7" fill="#4ba2d2" stroke="#1f5576" stroke-width="1"/>
<rect x="583.5" y="461.5" width="4" height="6" fill="#4ba2d2" stroke="#1f5576" stroke-width="1"/>
<rect x="587.5" y="461.5" width="4" height="7" fill="#4ba2d2" stroke="#1f5576" stroke-width="1"/>
<rect x="591.5" y="461.5" width="5" height="8" fill="#4ba2d2" stroke="#1f5576" stroke-width="1"/>
<rect x="596.5" y="461.5" width="4" height="9" fill="#4ba2d2" stroke="#1f5576" stroke-width="1"/>
<rect x="600.5" y="461.5" width="4" height="11" fill="#4ba2d2" stroke="#1f5576" stroke-width="1"/>
<rect x="604.5" y="461.5" width="4" height="12" fill="#4ba2d2" stroke="#1f5576" stroke-width="1"/>
<rect x="608.5" y="461.5" width="4" height="12" fill="#4ba2d2" stroke="#1f5576" stroke-width="1"/>
<rect x="612.5" y="461.5" width="4" height="10" fill="#4ba2d2" stroke="#1f5576" stroke-width="1"/>
<rect x="616.5" y="461.5" width="4" height="9" fill="#4ba2d2" stroke="#1f5576" stroke-width="1"/>
<rect x="620.5" y="461.5" width="4" height="10" fill="#4ba2d2" stroke="#1f5576" stroke-width="1"/>
<rect x="624.5" y="461.5" width="4" height="7" fill="#4ba2d2" stroke="#1f5576" stroke-width="1"/>
<rect x="628.5" y="461.5" width="4" height="1" fill="#4ba2d2" stroke="#1f5576" stroke-width="1"/>
<polyline points="34.33,482.25 38.38,482.72 42.43,483.82 46.48,484.51 50.53,484.97 54.59,485.57 58.64,486.36 62.69,486.6 66.74,485.82 70.79,484.05 74.85,481.37 78.9,478.22 82.95,474.59 87,471.16 91.05,467.61 95.11,464.02 99.16,460.37 103.21,456.52 107.26,452.94 111.31,450.2 115.37,448.05 119.42,446.18 123.47,444.98 127.52,444.59 131.57,444.63 135.63,445.06 139.68,446.23 143.73,447.92 147.78,449.58 151.83,451.49 155.89,453.49 159.94,455.02 163.99,456.19 168.04,457.51 172.09,459.64 176.15,462.01 180.2,465.17 184.25,468.59 188.3,471.33 192.35,474.46 196.41,477.49 200.46,480.14 204.51,481.57 208.56,483.08 212.61,484.68 216.67,487.02 220.72,489.58 224.77,492.51 228.82,495.47 232.87,497.62 236.93,499.17 240.98,499.65 245.03,500.41 249.08,501.36 253.13,502.28 257.19,502.57 261.24,502.58 265.29,502.06 269.34,500.66 273.39,498.04 277.45,494.88 281.5,491.66 285.55,488.03 289.6,484.7 293.65,481.6 297.71,478.51 301.76,475.83 305.81,474.14 309.86,473.87 313.91,475.43 317.97,478.12 322.02,480.99 326.07,484.56 330.12,488.27 334.17,491.25 338.23,493.57 342.28,495.06 346.33,495.13 350.38,494.31 354.43,493.39 358.49,492.4 362.54,491.57 366.59,490.55 370.64,489.36 374.69,487.97 378.75,486.11 382.8,484.01 386.85,482.11 390.9,480.6 394.95,479.49 399.01,478.71 403.06,477.68 407.11,476.72 411.16,475.13 415.21,473.07 419.27,470.53 423.32,468.04 427.37,465.67 431.42,463.78 435.47,461.63 439.53,459.11 443.58,456.14 447.63,453.12 451.68,450.43 455.73,447.69 459.79,445.12 463.84,442.88 467.89,441.02 471.94,439.67 475.99,438.19 480.05,436.78 484.1,435.08 488.15,433.25 492.2,431.43 496.25,429.98 500.31,428.85 504.36,428.41 508.41,429.07 512.46,430.51 516.51,432.36 520.57,434.07 524.62,436.56 528.67,439.63 532.72,443.24 536.77,447.24 540.83,451.22 544.88,455.28 548.93,459.29 552.98,462.61 557.03,465.15 561.09,466.67 565.14,467.18 569.19,468.16 573.24,469.26 577.29,470.66 581.35,472.33 585.4,473.88 589.45,475.52 593.5,477.52 597.55,479.82 601.61,482.53 605.66,485.57 609.71,488.64 613.76,491.05 617.81,493.36 621.87,495.75 625.92,497.39 629.97,497.7" fill="none" stroke="#ff0000" stroke-width="1.2"/>
<polyline points="34.33,480.96 38.38,484.63 42.43,488.19 46.48,487.27 50.53,486.84 54.59,487.95 58.64,489.51 62.69,487.57 66.74,482.72 70.79,476.96 74.85,470.63 78.9,465.63 82.95,460.05 87,457.45 91.05,453.43 95.11,449.63 99.16,445.76 103.21,441.12 107.26,438.63 111.31,439.23 115.37,439.45 119.42,438.71 123.47,440.2 127.52,443.01 131.57,444.8 135.63,446.77 139.68,450.89 143.73,454.7 147.78,456.2 151.83,459.15 155.89,461.5 159.94,461.11 163.99,460.88 168.04,462.79 172.09,468.14 176.15,471.48 180.2,477.81 184.25,482.31 188.3,482.29 192.35,486.98 196.41,489.62 200.46,490.71 204.51,487.28 208.56,489.15 212.61,491.05 216.67,496.38 220.72,499.85 224.77,504.21 228.82,507.3 232.87,506.22 236.93,505.36 240.98,501.61 245.03,503.45 249.08,505.14 253.13,505.94 257.19,503.76 261.24,502.59 265.29,500.01 269.34,495.04 273.39,487.57 277.45,482.24 281.5,478.8 285.55,473.51 289.6,471.39 293.65,469.19 297.71,466.14 301.76,465.11 305.81,467.37 309.86,472.78 313.91,481.69 317.97,488.88 322.02,492.46 326.07,498.83 330.12,503.12 334.17,503.16 338.23,502.86 342.28,501.01 346.33,495.42 350.38,491.02 354.43,489.72 358.49,488.46 362.54,488.23 366.59,486.46 370.64,484.6 374.69,482.44 378.75,478.67 382.8,475.62 386.85,474.49 390.9,474.58 394.95,475.04 399.01,475.6 403.06,473.57 407.11,472.85 411.16,468.8 415.21,464.8 419.27,460.38 423.32,458.11 427.37,456.2 431.42,456.21 435.47,453.01 439.53,449.05 443.58,444.25 447.63,441.05 451.68,439.64 455.73,436.74 459.79,434.86 463.84,433.89 467.89,433.6 471.94,434.25 475.99,432.28 480.05,431.15 484.1,428.3 488.15,425.89 492.2,424.15 496.25,424.2 500.31,424.35 504.36,426.63 508.41,431.69 512.46,436.28 516.51,439.78 520.57,440.91 524.62,446.51 528.67,451.92 532.72,457.68 536.77,463.22 540.83,467.16 544.88,471.52 548.93,475.33 552.98,475.88 557.03,475.3 561.09,472.75 565.14,469.24 569.19,472.05 573.24,473.69 577.29,476.26 581.35,478.98 585.4,480.07 589.45,482.1 593.5,485.54 597.55,488.98 601.61,493.4 605.66,497.72 609.71,500.92 613.76,500.7 617.81,502.57 621.87,505.3 625.92,503.99 629.97,498.9" fill="none" stroke="#000" stroke-width="2" stroke-linejoin="round"/>
<rect x="33" y="418" width="246" height="12" fill="#fff"/>
<line x1="34.6" y1="423.7" x2="43.9" y2="423.7" stroke="#000" stroke-width="3"/>
<text x="47.6" y="428.3" font-size="10.2" textLength="228.7" lengthAdjust="spacing"><tspan fill="#000">MACD(12,26,9) -95.231</tspan><tspan fill="#f00">, -92.201</tspan><tspan fill="#3a9ad0">, -3.030</tspan></text>
<rect x="32.5" y="28.5" width="624.0" height="97.0" fill="none" stroke="#a8a8a8" stroke-width="1"/>
<rect x="32.5" y="125.5" width="624.0" height="278.0" fill="none" stroke="#a8a8a8" stroke-width="1"/>
<rect x="32.5" y="417.5" width="624.0" height="97.0" fill="none" stroke="#a8a8a8" stroke-width="1"/>
<text x="38.38" y="413.7" font-size="10.3" fill="#000" font-weight="normal" text-anchor="middle" >7</text>
<text x="58.64" y="413.7" font-size="10.3" fill="#000" font-weight="normal" text-anchor="middle" >14</text>
<text x="78.9" y="413.7" font-size="10.3" fill="#000" font-weight="normal" text-anchor="middle" >21</text>
<text x="99.16" y="413.7" font-size="10.3" fill="#000" font-weight="normal" text-anchor="middle" >28</text>
<text x="115.37" y="413.7" font-size="10.6" fill="#000" font-weight="bold" text-anchor="middle" >Apr</text>
<text x="139.68" y="413.7" font-size="10.3" fill="#000" font-weight="normal" text-anchor="middle" >11</text>
<text x="155.89" y="413.7" font-size="10.3" fill="#000" font-weight="normal" text-anchor="middle" >18</text>
<text x="176.15" y="413.7" font-size="10.3" fill="#000" font-weight="normal" text-anchor="middle" >25</text>
<text x="196.41" y="413.7" font-size="10.6" fill="#000" font-weight="bold" text-anchor="middle" >May</text>
<text x="216.67" y="413.7" font-size="10.3" fill="#000" font-weight="normal" text-anchor="middle" >9</text>
<text x="236.93" y="413.7" font-size="10.3" fill="#000" font-weight="normal" text-anchor="middle" >16</text>
<text x="257.19" y="413.7" font-size="10.3" fill="#000" font-weight="normal" text-anchor="middle" >23</text>
<text x="281.5" y="413.7" font-size="10.6" fill="#000" font-weight="bold" text-anchor="middle" >Jun</text>
<text x="293.65" y="413.7" font-size="10.3" fill="#000" font-weight="normal" text-anchor="middle" >6</text>
<text x="313.91" y="413.7" font-size="10.3" fill="#000" font-weight="normal" text-anchor="middle" >13</text>
<text x="334.17" y="413.7" font-size="10.3" fill="#000" font-weight="normal" text-anchor="middle" >21</text>
<text x="350.38" y="413.7" font-size="10.3" fill="#000" font-weight="normal" text-anchor="middle" >27</text>
<text x="366.59" y="413.7" font-size="10.6" fill="#000" font-weight="bold" text-anchor="middle" >Jul</text>
<text x="386.85" y="413.7" font-size="10.3" fill="#000" font-weight="normal" text-anchor="middle" >11</text>
<text x="407.11" y="413.7" font-size="10.3" fill="#000" font-weight="normal" text-anchor="middle" >18</text>
<text x="427.37" y="413.7" font-size="10.3" fill="#000" font-weight="normal" text-anchor="middle" >25</text>
<text x="447.63" y="413.7" font-size="10.6" fill="#000" font-weight="bold" text-anchor="middle" >Aug</text>
<text x="467.89" y="413.7" font-size="10.3" fill="#000" font-weight="normal" text-anchor="middle" >8</text>
<text x="488.15" y="413.7" font-size="10.3" fill="#000" font-weight="normal" text-anchor="middle" >15</text>
<text x="508.41" y="413.7" font-size="10.3" fill="#000" font-weight="normal" text-anchor="middle" >22</text>
<text x="540.83" y="413.7" font-size="10.6" fill="#000" font-weight="bold" text-anchor="middle" >Sep</text>
<text x="565.14" y="413.7" font-size="10.3" fill="#000" font-weight="normal" text-anchor="middle" >12</text>
<text x="585.4" y="413.7" font-size="10.3" fill="#000" font-weight="normal" text-anchor="middle" >19</text>
<text x="605.66" y="413.7" font-size="10.3" fill="#000" font-weight="normal" text-anchor="middle" >26</text>
<text x="625.92" y="413.7" font-size="10.6" fill="#000" font-weight="bold" text-anchor="middle" >Oct</text>
<text x="646.18" y="413.7" font-size="10.3" fill="#000" font-weight="normal" text-anchor="middle" >10</text>
<text x="38.38" y="524.7" font-size="10.3" fill="#000" font-weight="normal" text-anchor="middle" >7</text>
<text x="58.64" y="524.7" font-size="10.3" fill="#000" font-weight="normal" text-anchor="middle" >14</text>
<text x="78.9" y="524.7" font-size="10.3" fill="#000" font-weight="normal" text-anchor="middle" >21</text>
<text x="99.16" y="524.7" font-size="10.3" fill="#000" font-weight="normal" text-anchor="middle" >28</text>
<text x="115.37" y="524.7" font-size="10.6" fill="#000" font-weight="bold" text-anchor="middle" >Apr</text>
<text x="139.68" y="524.7" font-size="10.3" fill="#000" font-weight="normal" text-anchor="middle" >11</text>
<text x="155.89" y="524.7" font-size="10.3" fill="#000" font-weight="normal" text-anchor="middle" >18</text>
<text x="176.15" y="524.7" font-size="10.3" fill="#000" font-weight="normal" text-anchor="middle" >25</text>
<text x="196.41" y="524.7" font-size="10.6" fill="#000" font-weight="bold" text-anchor="middle" >May</text>
<text x="216.67" y="524.7" font-size="10.3" fill="#000" font-weight="normal" text-anchor="middle" >9</text>
<text x="236.93" y="524.7" font-size="10.3" fill="#000" font-weight="normal" text-anchor="middle" >16</text>
<text x="257.19" y="524.7" font-size="10.3" fill="#000" font-weight="normal" text-anchor="middle" >23</text>
<text x="281.5" y="524.7" font-size="10.6" fill="#000" font-weight="bold" text-anchor="middle" >Jun</text>
<text x="293.65" y="524.7" font-size="10.3" fill="#000" font-weight="normal" text-anchor="middle" >6</text>
<text x="313.91" y="524.7" font-size="10.3" fill="#000" font-weight="normal" text-anchor="middle" >13</text>
<text x="334.17" y="524.7" font-size="10.3" fill="#000" font-weight="normal" text-anchor="middle" >21</text>
<text x="350.38" y="524.7" font-size="10.3" fill="#000" font-weight="normal" text-anchor="middle" >27</text>
<text x="366.59" y="524.7" font-size="10.6" fill="#000" font-weight="bold" text-anchor="middle" >Jul</text>
<text x="386.85" y="524.7" font-size="10.3" fill="#000" font-weight="normal" text-anchor="middle" >11</text>
<text x="407.11" y="524.7" font-size="10.3" fill="#000" font-weight="normal" text-anchor="middle" >18</text>
<text x="427.37" y="524.7" font-size="10.3" fill="#000" font-weight="normal" text-anchor="middle" >25</text>
<text x="447.63" y="524.7" font-size="10.6" fill="#000" font-weight="bold" text-anchor="middle" >Aug</text>
<text x="467.89" y="524.7" font-size="10.3" fill="#000" font-weight="normal" text-anchor="middle" >8</text>
<text x="488.15" y="524.7" font-size="10.3" fill="#000" font-weight="normal" text-anchor="middle" >15</text>
<text x="508.41" y="524.7" font-size="10.3" fill="#000" font-weight="normal" text-anchor="middle" >22</text>
<text x="540.83" y="524.7" font-size="10.6" fill="#000" font-weight="bold" text-anchor="middle" >Sep</text>
<text x="565.14" y="524.7" font-size="10.3" fill="#000" font-weight="normal" text-anchor="middle" >12</text>
<text x="585.4" y="524.7" font-size="10.3" fill="#000" font-weight="normal" text-anchor="middle" >19</text>
<text x="605.66" y="524.7" font-size="10.3" fill="#000" font-weight="normal" text-anchor="middle" >26</text>
<text x="625.92" y="524.7" font-size="10.6" fill="#000" font-weight="bold" text-anchor="middle" >Oct</text>
<text x="646.18" y="524.7" font-size="10.3" fill="#000" font-weight="normal" text-anchor="middle" >10</text>
<text x="660.2" y="47.5" font-size="9.9" fill="#000" font-weight="normal" text-anchor="start" textLength="11.3" lengthAdjust="spacing" >90</text>
<text x="660.2" y="64.1" font-size="9.9" fill="#000" font-weight="normal" text-anchor="start" textLength="11.3" lengthAdjust="spacing" >70</text>
<text x="660.2" y="97.3" font-size="9.9" fill="#000" font-weight="normal" text-anchor="start" textLength="11.3" lengthAdjust="spacing" >30</text>
<text x="661.2" y="113.9" font-size="9.9" fill="#000" font-weight="normal" text-anchor="start" textLength="10.3" lengthAdjust="spacing" >10</text>
<text x="660.2" y="80.7" font-size="9.9" fill="#000" font-weight="normal" text-anchor="start" textLength="11.3" lengthAdjust="spacing" >50</text>
<text x="660" y="144.8" font-size="9.9" fill="#000" font-weight="normal" text-anchor="start" textLength="23" lengthAdjust="spacing" >4600</text>
<text x="660" y="167.24" font-size="9.9" fill="#000" font-weight="normal" text-anchor="start" textLength="23" lengthAdjust="spacing" >4500</text>
<text x="660" y="190.19" font-size="9.9" fill="#000" font-weight="normal" text-anchor="start" textLength="23" lengthAdjust="spacing" >4400</text>
<text x="660" y="213.66" font-size="9.9" fill="#000" font-weight="normal" text-anchor="start" textLength="23" lengthAdjust="spacing" >4300</text>
<text x="660" y="262.29" font-size="9.9" fill="#000" font-weight="normal" text-anchor="start" textLength="23" lengthAdjust="spacing" >4100</text>
<text x="660" y="313.35" font-size="9.9" fill="#000" font-weight="normal" text-anchor="start" textLength="23" lengthAdjust="spacing" >3900</text>
<text x="660" y="367.1" font-size="9.9" fill="#000" font-weight="normal" text-anchor="start" textLength="23" lengthAdjust="spacing" >3700</text>
<text x="660" y="395.07" font-size="9.9" fill="#000" font-weight="normal" text-anchor="start" textLength="23" lengthAdjust="spacing" >3600</text>
<text x="663.8" y="424.5" font-size="9.9" fill="#000" font-weight="normal" text-anchor="start" textLength="16.5" lengthAdjust="spacing" >100</text>
<text x="668.8" y="444.4" font-size="9.9" fill="#000" font-weight="normal" text-anchor="start" textLength="11.5" lengthAdjust="spacing" >50</text>
<text x="665.8" y="484.2" font-size="9.9" fill="#000" font-weight="normal" text-anchor="start" textLength="14.5" lengthAdjust="spacing" >-50</text>
<text x="18" y="389.45" font-size="9.6" fill="#000" font-weight="normal" text-anchor="start" textLength="11.4" lengthAdjust="spacing" >1B</text>
<line x1="29.5" y1="386.15" x2="32" y2="386.15" stroke="#999" stroke-width="1"/>
<text x="17.2" y="373.3" font-size="9.6" fill="#000" font-weight="normal" text-anchor="start" textLength="12.2" lengthAdjust="spacing" >2B</text>
<line x1="29.5" y1="370" x2="32" y2="370" stroke="#999" stroke-width="1"/>
<text x="17.2" y="357.15" font-size="9.6" fill="#000" font-weight="normal" text-anchor="start" textLength="12.2" lengthAdjust="spacing" >3B</text>
<line x1="29.5" y1="353.85" x2="32" y2="353.85" stroke="#999" stroke-width="1"/>
<text x="17.2" y="341" font-size="9.6" fill="#000" font-weight="normal" text-anchor="start" textLength="12.2" lengthAdjust="spacing" >4B</text>
<line x1="29.5" y1="337.7" x2="32" y2="337.7" stroke="#999" stroke-width="1"/>
<text x="17.2" y="324.85" font-size="9.6" fill="#000" font-weight="normal" text-anchor="start" textLength="12.2" lengthAdjust="spacing" >5B</text>
<line x1="29.5" y1="321.55" x2="32" y2="321.55" stroke="#999" stroke-width="1"/>
<line x1="656.5" y1="118.9" x2="658" y2="118.9" stroke="#aaa" stroke-width="1"/>
<line x1="656.5" y1="114.75" x2="658" y2="114.75" stroke="#aaa" stroke-width="1"/>
<line x1="656.5" y1="110.6" x2="658" y2="110.6" stroke="#aaa" stroke-width="1"/>
<line x1="656.5" y1="106.45" x2="658" y2="106.45" stroke="#aaa" stroke-width="1"/>
<line x1="656.5" y1="102.3" x2="658" y2="102.3" stroke="#aaa" stroke-width="1"/>
<line x1="656.5" y1="98.15" x2="658" y2="98.15" stroke="#aaa" stroke-width="1"/>
<line x1="656.5" y1="94" x2="658" y2="94" stroke="#aaa" stroke-width="1"/>
<line x1="656.5" y1="89.85" x2="658" y2="89.85" stroke="#aaa" stroke-width="1"/>
<line x1="656.5" y1="85.7" x2="658" y2="85.7" stroke="#aaa" stroke-width="1"/>
<line x1="656.5" y1="81.55" x2="658" y2="81.55" stroke="#aaa" stroke-width="1"/>
<line x1="656.5" y1="77.4" x2="658" y2="77.4" stroke="#aaa" stroke-width="1"/>
<line x1="656.5" y1="73.25" x2="658" y2="73.25" stroke="#aaa" stroke-width="1"/>
<line x1="656.5" y1="69.1" x2="658" y2="69.1" stroke="#aaa" stroke-width="1"/>
<line x1="656.5" y1="64.95" x2="658" y2="64.95" stroke="#aaa" stroke-width="1"/>
<line x1="656.5" y1="60.8" x2="658" y2="60.8" stroke="#aaa" stroke-width="1"/>
<line x1="656.5" y1="56.65" x2="658" y2="56.65" stroke="#aaa" stroke-width="1"/>
<line x1="656.5" y1="52.5" x2="658" y2="52.5" stroke="#aaa" stroke-width="1"/>
<line x1="656.5" y1="48.35" x2="658" y2="48.35" stroke="#aaa" stroke-width="1"/>
<line x1="656.5" y1="44.2" x2="658" y2="44.2" stroke="#aaa" stroke-width="1"/>
<line x1="656.5" y1="40.05" x2="658" y2="40.05" stroke="#aaa" stroke-width="1"/>
<line x1="656.5" y1="35.9" x2="658" y2="35.9" stroke="#aaa" stroke-width="1"/>
<line x1="656.5" y1="110.6" x2="659.5" y2="110.6" stroke="#999" stroke-width="1"/>
<line x1="656.5" y1="94" x2="659.5" y2="94" stroke="#999" stroke-width="1"/>
<line x1="656.5" y1="77.4" x2="659.5" y2="77.4" stroke="#999" stroke-width="1"/>
<line x1="656.5" y1="60.8" x2="659.5" y2="60.8" stroke="#999" stroke-width="1"/>
<line x1="656.5" y1="44.2" x2="659.5" y2="44.2" stroke="#999" stroke-width="1"/>
<line x1="656.5" y1="391.77" x2="658" y2="391.77" stroke="#aaa" stroke-width="1"/>
<line x1="656.5" y1="386.11" x2="658" y2="386.11" stroke="#aaa" stroke-width="1"/>
<line x1="656.5" y1="380.49" x2="658" y2="380.49" stroke="#aaa" stroke-width="1"/>
<line x1="656.5" y1="374.89" x2="658" y2="374.89" stroke="#aaa" stroke-width="1"/>
<line x1="656.5" y1="369.33" x2="658" y2="369.33" stroke="#aaa" stroke-width="1"/>
<line x1="656.5" y1="363.8" x2="658" y2="363.8" stroke="#aaa" stroke-width="1"/>
<line x1="656.5" y1="358.29" x2="658" y2="358.29" stroke="#aaa" stroke-width="1"/>
<line x1="656.5" y1="352.82" x2="658" y2="352.82" stroke="#aaa" stroke-width="1"/>
<line x1="656.5" y1="347.37" x2="658" y2="347.37" stroke="#aaa" stroke-width="1"/>
<line x1="656.5" y1="341.96" x2="658" y2="341.96" stroke="#aaa" stroke-width="1"/>
<line x1="656.5" y1="336.57" x2="658" y2="336.57" stroke="#aaa" stroke-width="1"/>
<line x1="656.5" y1="331.21" x2="658" y2="331.21" stroke="#aaa" stroke-width="1"/>
<line x1="656.5" y1="325.88" x2="658" y2="325.88" stroke="#aaa" stroke-width="1"/>
<line x1="656.5" y1="320.57" x2="658" y2="320.57" stroke="#aaa" stroke-width="1"/>
<line x1="656.5" y1="315.3" x2="658" y2="315.3" stroke="#aaa" stroke-width="1"/>
<line x1="656.5" y1="310.05" x2="658" y2="310.05" stroke="#aaa" stroke-width="1"/>
<line x1="656.5" y1="304.82" x2="658" y2="304.82" stroke="#aaa" stroke-width="1"/>
<line x1="656.5" y1="299.63" x2="658" y2="299.63" stroke="#aaa" stroke-width="1"/>
<line x1="656.5" y1="294.46" x2="658" y2="294.46" stroke="#aaa" stroke-width="1"/>
<line x1="656.5" y1="289.31" x2="658" y2="289.31" stroke="#aaa" stroke-width="1"/>
<line x1="656.5" y1="284.2" x2="658" y2="284.2" stroke="#aaa" stroke-width="1"/>
<line x1="656.5" y1="279.1" x2="658" y2="279.1" stroke="#aaa" stroke-width="1"/>
<line x1="656.5" y1="274.04" x2="658" y2="274.04" stroke="#aaa" stroke-width="1"/>
<line x1="656.5" y1="269" x2="658" y2="269" stroke="#aaa" stroke-width="1"/>
<line x1="656.5" y1="263.98" x2="658" y2="263.98" stroke="#aaa" stroke-width="1"/>
<line x1="656.5" y1="258.99" x2="658" y2="258.99" stroke="#aaa" stroke-width="1"/>
<line x1="656.5" y1="254.02" x2="658" y2="254.02" stroke="#aaa" stroke-width="1"/>
<line x1="656.5" y1="249.07" x2="658" y2="249.07" stroke="#aaa" stroke-width="1"/>
<line x1="656.5" y1="244.15" x2="658" y2="244.15" stroke="#aaa" stroke-width="1"/>
<line x1="656.5" y1="239.26" x2="658" y2="239.26" stroke="#aaa" stroke-width="1"/>
<line x1="656.5" y1="234.38" x2="658" y2="234.38" stroke="#aaa" stroke-width="1"/>
<line x1="656.5" y1="229.53" x2="658" y2="229.53" stroke="#aaa" stroke-width="1"/>
<line x1="656.5" y1="224.7" x2="658" y2="224.7" stroke="#aaa" stroke-width="1"/>
<line x1="656.5" y1="219.9" x2="658" y2="219.9" stroke="#aaa" stroke-width="1"/>
<line x1="656.5" y1="215.12" x2="658" y2="215.12" stroke="#aaa" stroke-width="1"/>
<line x1="656.5" y1="210.36" x2="658" y2="210.36" stroke="#aaa" stroke-width="1"/>
<line x1="656.5" y1="205.62" x2="658" y2="205.62" stroke="#aaa" stroke-width="1"/>
<line x1="656.5" y1="200.9" x2="658" y2="200.9" stroke="#aaa" stroke-width="1"/>
<line x1="656.5" y1="196.21" x2="658" y2="196.21" stroke="#aaa" stroke-width="1"/>
<line x1="656.5" y1="191.54" x2="658" y2="191.54" stroke="#aaa" stroke-width="1"/>
<line x1="656.5" y1="186.89" x2="658" y2="186.89" stroke="#aaa" stroke-width="1"/>
<line x1="656.5" y1="182.25" x2="658" y2="182.25" stroke="#aaa" stroke-width="1"/>
<line x1="656.5" y1="177.65" x2="658" y2="177.65" stroke="#aaa" stroke-width="1"/>
<line x1="656.5" y1="173.06" x2="658" y2="173.06" stroke="#aaa" stroke-width="1"/>
<line x1="656.5" y1="168.49" x2="658" y2="168.49" stroke="#aaa" stroke-width="1"/>
<line x1="656.5" y1="163.94" x2="658" y2="163.94" stroke="#aaa" stroke-width="1"/>
<line x1="656.5" y1="159.41" x2="658" y2="159.41" stroke="#aaa" stroke-width="1"/>
<line x1="656.5" y1="154.91" x2="658" y2="154.91" stroke="#aaa" stroke-width="1"/>
<line x1="656.5" y1="150.42" x2="658" y2="150.42" stroke="#aaa" stroke-width="1"/>
<line x1="656.5" y1="145.95" x2="658" y2="145.95" stroke="#aaa" stroke-width="1"/>
<line x1="656.5" y1="141.5" x2="658" y2="141.5" stroke="#aaa" stroke-width="1"/>
<line x1="656.5" y1="137.07" x2="658" y2="137.07" stroke="#aaa" stroke-width="1"/>
<line x1="656.5" y1="132.66" x2="658" y2="132.66" stroke="#aaa" stroke-width="1"/>
<line x1="656.5" y1="128.27" x2="658" y2="128.27" stroke="#aaa" stroke-width="1"/>
<line x1="656.5" y1="391.77" x2="659.5" y2="391.77" stroke="#999" stroke-width="1"/>
<line x1="656.5" y1="363.8" x2="659.5" y2="363.8" stroke="#999" stroke-width="1"/>
<line x1="656.5" y1="336.57" x2="659.5" y2="336.57" stroke="#999" stroke-width="1"/>
<line x1="656.5" y1="310.05" x2="659.5" y2="310.05" stroke="#999" stroke-width="1"/>
<line x1="656.5" y1="284.2" x2="659.5" y2="284.2" stroke="#999" stroke-width="1"/>
<line x1="656.5" y1="258.99" x2="659.5" y2="258.99" stroke="#999" stroke-width="1"/>
<line x1="656.5" y1="234.38" x2="659.5" y2="234.38" stroke="#999" stroke-width="1"/>
<line x1="656.5" y1="210.36" x2="659.5" y2="210.36" stroke="#999" stroke-width="1"/>
<line x1="656.5" y1="186.89" x2="659.5" y2="186.89" stroke="#999" stroke-width="1"/>
<line x1="656.5" y1="163.94" x2="659.5" y2="163.94" stroke="#999" stroke-width="1"/>
<line x1="656.5" y1="141.5" x2="659.5" y2="141.5" stroke="#999" stroke-width="1"/>
<line x1="656.5" y1="500.8" x2="658" y2="500.8" stroke="#aaa" stroke-width="1"/>
<line x1="656.5" y1="496.82" x2="658" y2="496.82" stroke="#aaa" stroke-width="1"/>
<line x1="656.5" y1="492.84" x2="658" y2="492.84" stroke="#aaa" stroke-width="1"/>
<line x1="656.5" y1="488.86" x2="658" y2="488.86" stroke="#aaa" stroke-width="1"/>
<line x1="656.5" y1="484.88" x2="658" y2="484.88" stroke="#aaa" stroke-width="1"/>
<line x1="656.5" y1="480.9" x2="658" y2="480.9" stroke="#aaa" stroke-width="1"/>
<line x1="656.5" y1="476.92" x2="658" y2="476.92" stroke="#aaa" stroke-width="1"/>
<line x1="656.5" y1="472.94" x2="658" y2="472.94" stroke="#aaa" stroke-width="1"/>
<line x1="656.5" y1="468.96" x2="658" y2="468.96" stroke="#aaa" stroke-width="1"/>
<line x1="656.5" y1="464.98" x2="658" y2="464.98" stroke="#aaa" stroke-width="1"/>
<line x1="656.5" y1="461" x2="658" y2="461" stroke="#aaa" stroke-width="1"/>
<line x1="656.5" y1="457.02" x2="658" y2="457.02" stroke="#aaa" stroke-width="1"/>
<line x1="656.5" y1="453.04" x2="658" y2="453.04" stroke="#aaa" stroke-width="1"/>
<line x1="656.5" y1="449.06" x2="658" y2="449.06" stroke="#aaa" stroke-width="1"/>
<line x1="656.5" y1="445.08" x2="658" y2="445.08" stroke="#aaa" stroke-width="1"/>
<line x1="656.5" y1="441.1" x2="658" y2="441.1" stroke="#aaa" stroke-width="1"/>
<line x1="656.5" y1="437.12" x2="658" y2="437.12" stroke="#aaa" stroke-width="1"/>
<line x1="656.5" y1="433.14" x2="658" y2="433.14" stroke="#aaa" stroke-width="1"/>
<line x1="656.5" y1="429.16" x2="658" y2="429.16" stroke="#aaa" stroke-width="1"/>
<line x1="656.5" y1="425.18" x2="658" y2="425.18" stroke="#aaa" stroke-width="1"/>
<line x1="656.5" y1="421.2" x2="658" y2="421.2" stroke="#aaa" stroke-width="1"/>
<line x1="656.5" y1="421.2" x2="659.5" y2="421.2" stroke="#999" stroke-width="1"/>
<line x1="656.5" y1="441.1" x2="659.5" y2="441.1" stroke="#999" stroke-width="1"/>
<line x1="656.5" y1="461" x2="659.5" y2="461" stroke="#999" stroke-width="1"/>
<line x1="656.5" y1="480.9" x2="659.5" y2="480.9" stroke="#999" stroke-width="1"/>
<line x1="656.5" y1="500.8" x2="659.5" y2="500.8" stroke="#999" stroke-width="1"/>
<line x1="34.33" y1="403.5" x2="34.33" y2="404.5" stroke="#aaa" stroke-width="1"/>
<line x1="34.33" y1="416.5" x2="34.33" y2="417.5" stroke="#aaa" stroke-width="1"/>
<line x1="34.33" y1="514.5" x2="34.33" y2="515.5" stroke="#aaa" stroke-width="1"/>
<line x1="38.38" y1="403.5" x2="38.38" y2="405" stroke="#aaa" stroke-width="1"/>
<line x1="38.38" y1="416" x2="38.38" y2="417.5" stroke="#aaa" stroke-width="1"/>
<line x1="38.38" y1="514.5" x2="38.38" y2="516" stroke="#aaa" stroke-width="1"/>
<line x1="42.43" y1="403.5" x2="42.43" y2="404.5" stroke="#aaa" stroke-width="1"/>
<line x1="42.43" y1="416.5" x2="42.43" y2="417.5" stroke="#aaa" stroke-width="1"/>
<line x1="42.43" y1="514.5" x2="42.43" y2="515.5" stroke="#aaa" stroke-width="1"/>
<line x1="46.48" y1="403.5" x2="46.48" y2="404.5" stroke="#aaa" stroke-width="1"/>
<line x1="46.48" y1="416.5" x2="46.48" y2="417.5" stroke="#aaa" stroke-width="1"/>
<line x1="46.48" y1="514.5" x2="46.48" y2="515.5" stroke="#aaa" stroke-width="1"/>
<line x1="50.53" y1="403.5" x2="50.53" y2="404.5" stroke="#aaa" stroke-width="1"/>
<line x1="50.53" y1="416.5" x2="50.53" y2="417.5" stroke="#aaa" stroke-width="1"/>
<line x1="50.53" y1="514.5" x2="50.53" y2="515.5" stroke="#aaa" stroke-width="1"/>
<line x1="54.59" y1="403.5" x2="54.59" y2="404.5" stroke="#aaa" stroke-width="1"/>
<line x1="54.59" y1="416.5" x2="54.59" y2="417.5" stroke="#aaa" stroke-width="1"/>
<line x1="54.59" y1="514.5" x2="54.59" y2="515.5" stroke="#aaa" stroke-width="1"/>
<line x1="58.64" y1="403.5" x2="58.64" y2="405" stroke="#aaa" stroke-width="1"/>
<line x1="58.64" y1="416" x2="58.64" y2="417.5" stroke="#aaa" stroke-width="1"/>
<line x1="58.64" y1="514.5" x2="58.64" y2="516" stroke="#aaa" stroke-width="1"/>
<line x1="62.69" y1="403.5" x2="62.69" y2="404.5" stroke="#aaa" stroke-width="1"/>
<line x1="62.69" y1="416.5" x2="62.69" y2="417.5" stroke="#aaa" stroke-width="1"/>
<line x1="62.69" y1="514.5" x2="62.69" y2="515.5" stroke="#aaa" stroke-width="1"/>
<line x1="66.74" y1="403.5" x2="66.74" y2="404.5" stroke="#aaa" stroke-width="1"/>
<line x1="66.74" y1="416.5" x2="66.74" y2="417.5" stroke="#aaa" stroke-width="1"/>
<line x1="66.74" y1="514.5" x2="66.74" y2="515.5" stroke="#aaa" stroke-width="1"/>
<line x1="70.79" y1="403.5" x2="70.79" y2="404.5" stroke="#aaa" stroke-width="1"/>
<line x1="70.79" y1="416.5" x2="70.79" y2="417.5" stroke="#aaa" stroke-width="1"/>
<line x1="70.79" y1="514.5" x2="70.79" y2="515.5" stroke="#aaa" stroke-width="1"/>
<line x1="74.85" y1="403.5" x2="74.85" y2="404.5" stroke="#aaa" stroke-width="1"/>
<line x1="74.85" y1="416.5" x2="74.85" y2="417.5" stroke="#aaa" stroke-width="1"/>
<line x1="74.85" y1="514.5" x2="74.85" y2="515.5" stroke="#aaa" stroke-width="1"/>
<line x1="78.9" y1="403.5" x2="78.9" y2="405" stroke="#aaa" stroke-width="1"/>
<line x1="78.9" y1="416" x2="78.9" y2="417.5" stroke="#aaa" stroke-width="1"/>
<line x1="78.9" y1="514.5" x2="78.9" y2="516" stroke="#aaa" stroke-width="1"/>
<line x1="82.95" y1="403.5" x2="82.95" y2="404.5" stroke="#aaa" stroke-width="1"/>
<line x1="82.95" y1="416.5" x2="82.95" y2="417.5" stroke="#aaa" stroke-width="1"/>
<line x1="82.95" y1="514.5" x2="82.95" y2="515.5" stroke="#aaa" stroke-width="1"/>
<line x1="87" y1="403.5" x2="87" y2="404.5" stroke="#aaa" stroke-width="1"/>
<line x1="87" y1="416.5" x2="87" y2="417.5" stroke="#aaa" stroke-width="1"/>
<line x1="87" y1="514.5" x2="87" y2="515.5" stroke="#aaa" stroke-width="1"/>
<line x1="91.05" y1="403.5" x2="91.05" y2="404.5" stroke="#aaa" stroke-width="1"/>
<line x1="91.05" y1="416.5" x2="91.05" y2="417.5" stroke="#aaa" stroke-width="1"/>
<line x1="91.05" y1="514.5" x2="91.05" y2="515.5" stroke="#aaa" stroke-width="1"/>
<line x1="95.11" y1="403.5" x2="95.11" y2="404.5" stroke="#aaa" stroke-width="1"/>
<line x1="95.11" y1="416.5" x2="95.11" y2="417.5" stroke="#aaa" stroke-width="1"/>
<line x1="95.11" y1="514.5" x2="95.11" y2="515.5" stroke="#aaa" stroke-width="1"/>
<line x1="99.16" y1="403.5" x2="99.16" y2="405" stroke="#aaa" stroke-width="1"/>
<line x1="99.16" y1="416" x2="99.16" y2="417.5" stroke="#aaa" stroke-width="1"/>
<line x1="99.16" y1="514.5" x2="99.16" y2="516" stroke="#aaa" stroke-width="1"/>
<line x1="103.21" y1="403.5" x2="103.21" y2="404.5" stroke="#aaa" stroke-width="1"/>
<line x1="103.21" y1="416.5" x2="103.21" y2="417.5" stroke="#aaa" stroke-width="1"/>
<line x1="103.21" y1="514.5" x2="103.21" y2="515.5" stroke="#aaa" stroke-width="1"/>
<line x1="107.26" y1="403.5" x2="107.26" y2="404.5" stroke="#aaa" stroke-width="1"/>
<line x1="107.26" y1="416.5" x2="107.26" y2="417.5" stroke="#aaa" stroke-width="1"/>
<line x1="107.26" y1="514.5" x2="107.26" y2="515.5" stroke="#aaa" stroke-width="1"/>
<line x1="111.31" y1="403.5" x2="111.31" y2="404.5" stroke="#aaa" stroke-width="1"/>
<line x1="111.31" y1="416.5" x2="111.31" y2="417.5" stroke="#aaa" stroke-width="1"/>
<line x1="111.31" y1="514.5" x2="111.31" y2="515.5" stroke="#aaa" stroke-width="1"/>
<line x1="115.37" y1="403.5" x2="115.37" y2="404.5" stroke="#aaa" stroke-width="1"/>
<line x1="115.37" y1="416.5" x2="115.37" y2="417.5" stroke="#aaa" stroke-width="1"/>
<line x1="115.37" y1="514.5" x2="115.37" y2="515.5" stroke="#aaa" stroke-width="1"/>
<line x1="119.42" y1="403.5" x2="119.42" y2="405" stroke="#aaa" stroke-width="1"/>
<line x1="119.42" y1="416" x2="119.42" y2="417.5" stroke="#aaa" stroke-width="1"/>
<line x1="119.42" y1="514.5" x2="119.42" y2="516" stroke="#aaa" stroke-width="1"/>
<line x1="123.47" y1="403.5" x2="123.47" y2="404.5" stroke="#aaa" stroke-width="1"/>
<line x1="123.47" y1="416.5" x2="123.47" y2="417.5" stroke="#aaa" stroke-width="1"/>
<line x1="123.47" y1="514.5" x2="123.47" y2="515.5" stroke="#aaa" stroke-width="1"/>
<line x1="127.52" y1="403.5" x2="127.52" y2="404.5" stroke="#aaa" stroke-width="1"/>
<line x1="127.52" y1="416.5" x2="127.52" y2="417.5" stroke="#aaa" stroke-width="1"/>
<line x1="127.52" y1="514.5" x2="127.52" y2="515.5" stroke="#aaa" stroke-width="1"/>
<line x1="131.57" y1="403.5" x2="131.57" y2="404.5" stroke="#aaa" stroke-width="1"/>
<line x1="131.57" y1="416.5" x2="131.57" y2="417.5" stroke="#aaa" stroke-width="1"/>
<line x1="131.57" y1="514.5" x2="131.57" y2="515.5" stroke="#aaa" stroke-width="1"/>
<line x1="135.63" y1="403.5" x2="135.63" y2="404.5" stroke="#aaa" stroke-width="1"/>
<line x1="135.63" y1="416.5" x2="135.63" y2="417.5" stroke="#aaa" stroke-width="1"/>
<line x1="135.63" y1="514.5" x2="135.63" y2="515.5" stroke="#aaa" stroke-width="1"/>
<line x1="139.68" y1="403.5" x2="139.68" y2="405" stroke="#aaa" stroke-width="1"/>
<line x1="139.68" y1="416" x2="139.68" y2="417.5" stroke="#aaa" stroke-width="1"/>
<line x1="139.68" y1="514.5" x2="139.68" y2="516" stroke="#aaa" stroke-width="1"/>
<line x1="143.73" y1="403.5" x2="143.73" y2="404.5" stroke="#aaa" stroke-width="1"/>
<line x1="143.73" y1="416.5" x2="143.73" y2="417.5" stroke="#aaa" stroke-width="1"/>
<line x1="143.73" y1="514.5" x2="143.73" y2="515.5" stroke="#aaa" stroke-width="1"/>
<line x1="147.78" y1="403.5" x2="147.78" y2="404.5" stroke="#aaa" stroke-width="1"/>
<line x1="147.78" y1="416.5" x2="147.78" y2="417.5" stroke="#aaa" stroke-width="1"/>
<line x1="147.78" y1="514.5" x2="147.78" y2="515.5" stroke="#aaa" stroke-width="1"/>
<line x1="151.83" y1="403.5" x2="151.83" y2="404.5" stroke="#aaa" stroke-width="1"/>
<line x1="151.83" y1="416.5" x2="151.83" y2="417.5" stroke="#aaa" stroke-width="1"/>
<line x1="151.83" y1="514.5" x2="151.83" y2="515.5" stroke="#aaa" stroke-width="1"/>
<line x1="155.89" y1="403.5" x2="155.89" y2="405" stroke="#aaa" stroke-width="1"/>
<line x1="155.89" y1="416" x2="155.89" y2="417.5" stroke="#aaa" stroke-width="1"/>
<line x1="155.89" y1="514.5" x2="155.89" y2="516" stroke="#aaa" stroke-width="1"/>
<line x1="159.94" y1="403.5" x2="159.94" y2="404.5" stroke="#aaa" stroke-width="1"/>
<line x1="159.94" y1="416.5" x2="159.94" y2="417.5" stroke="#aaa" stroke-width="1"/>
<line x1="159.94" y1="514.5" x2="159.94" y2="515.5" stroke="#aaa" stroke-width="1"/>
<line x1="163.99" y1="403.5" x2="163.99" y2="404.5" stroke="#aaa" stroke-width="1"/>
<line x1="163.99" y1="416.5" x2="163.99" y2="417.5" stroke="#aaa" stroke-width="1"/>
<line x1="163.99" y1="514.5" x2="163.99" y2="515.5" stroke="#aaa" stroke-width="1"/>
<line x1="168.04" y1="403.5" x2="168.04" y2="404.5" stroke="#aaa" stroke-width="1"/>
<line x1="168.04" y1="416.5" x2="168.04" y2="417.5" stroke="#aaa" stroke-width="1"/>
<line x1="168.04" y1="514.5" x2="168.04" y2="515.5" stroke="#aaa" stroke-width="1"/>
<line x1="172.09" y1="403.5" x2="172.09" y2="404.5" stroke="#aaa" stroke-width="1"/>
<line x1="172.09" y1="416.5" x2="172.09" y2="417.5" stroke="#aaa" stroke-width="1"/>
<line x1="172.09" y1="514.5" x2="172.09" y2="515.5" stroke="#aaa" stroke-width="1"/>
<line x1="176.15" y1="403.5" x2="176.15" y2="405" stroke="#aaa" stroke-width="1"/>
<line x1="176.15" y1="416" x2="176.15" y2="417.5" stroke="#aaa" stroke-width="1"/>
<line x1="176.15" y1="514.5" x2="176.15" y2="516" stroke="#aaa" stroke-width="1"/>
<line x1="180.2" y1="403.5" x2="180.2" y2="404.5" stroke="#aaa" stroke-width="1"/>
<line x1="180.2" y1="416.5" x2="180.2" y2="417.5" stroke="#aaa" stroke-width="1"/>
<line x1="180.2" y1="514.5" x2="180.2" y2="515.5" stroke="#aaa" stroke-width="1"/>
<line x1="184.25" y1="403.5" x2="184.25" y2="404.5" stroke="#aaa" stroke-width="1"/>
<line x1="184.25" y1="416.5" x2="184.25" y2="417.5" stroke="#aaa" stroke-width="1"/>
<line x1="184.25" y1="514.5" x2="184.25" y2="515.5" stroke="#aaa" stroke-width="1"/>
<line x1="188.3" y1="403.5" x2="188.3" y2="404.5" stroke="#aaa" stroke-width="1"/>
<line x1="188.3" y1="416.5" x2="188.3" y2="417.5" stroke="#aaa" stroke-width="1"/>
<line x1="188.3" y1="514.5" x2="188.3" y2="515.5" stroke="#aaa" stroke-width="1"/>
<line x1="192.35" y1="403.5" x2="192.35" y2="404.5" stroke="#aaa" stroke-width="1"/>
<line x1="192.35" y1="416.5" x2="192.35" y2="417.5" stroke="#aaa" stroke-width="1"/>
<line x1="192.35" y1="514.5" x2="192.35" y2="515.5" stroke="#aaa" stroke-width="1"/>
<line x1="196.41" y1="403.5" x2="196.41" y2="405" stroke="#aaa" stroke-width="1"/>
<line x1="196.41" y1="416" x2="196.41" y2="417.5" stroke="#aaa" stroke-width="1"/>
<line x1="196.41" y1="514.5" x2="196.41" y2="516" stroke="#aaa" stroke-width="1"/>
<line x1="200.46" y1="403.5" x2="200.46" y2="404.5" stroke="#aaa" stroke-width="1"/>
<line x1="200.46" y1="416.5" x2="200.46" y2="417.5" stroke="#aaa" stroke-width="1"/>
<line x1="200.46" y1="514.5" x2="200.46" y2="515.5" stroke="#aaa" stroke-width="1"/>
<line x1="204.51" y1="403.5" x2="204.51" y2="404.5" stroke="#aaa" stroke-width="1"/>
<line x1="204.51" y1="416.5" x2="204.51" y2="417.5" stroke="#aaa" stroke-width="1"/>
<line x1="204.51" y1="514.5" x2="204.51" y2="515.5" stroke="#aaa" stroke-width="1"/>
<line x1="208.56" y1="403.5" x2="208.56" y2="404.5" stroke="#aaa" stroke-width="1"/>
<line x1="208.56" y1="416.5" x2="208.56" y2="417.5" stroke="#aaa" stroke-width="1"/>
<line x1="208.56" y1="514.5" x2="208.56" y2="515.5" stroke="#aaa" stroke-width="1"/>
<line x1="212.61" y1="403.5" x2="212.61" y2="404.5" stroke="#aaa" stroke-width="1"/>
<line x1="212.61" y1="416.5" x2="212.61" y2="417.5" stroke="#aaa" stroke-width="1"/>
<line x1="212.61" y1="514.5" x2="212.61" y2="515.5" stroke="#aaa" stroke-width="1"/>
<line x1="216.67" y1="403.5" x2="216.67" y2="405" stroke="#aaa" stroke-width="1"/>
<line x1="216.67" y1="416" x2="216.67" y2="417.5" stroke="#aaa" stroke-width="1"/>
<line x1="216.67" y1="514.5" x2="216.67" y2="516" stroke="#aaa" stroke-width="1"/>
<line x1="220.72" y1="403.5" x2="220.72" y2="404.5" stroke="#aaa" stroke-width="1"/>
<line x1="220.72" y1="416.5" x2="220.72" y2="417.5" stroke="#aaa" stroke-width="1"/>
<line x1="220.72" y1="514.5" x2="220.72" y2="515.5" stroke="#aaa" stroke-width="1"/>
<line x1="224.77" y1="403.5" x2="224.77" y2="404.5" stroke="#aaa" stroke-width="1"/>
<line x1="224.77" y1="416.5" x2="224.77" y2="417.5" stroke="#aaa" stroke-width="1"/>
<line x1="224.77" y1="514.5" x2="224.77" y2="515.5" stroke="#aaa" stroke-width="1"/>
<line x1="228.82" y1="403.5" x2="228.82" y2="404.5" stroke="#aaa" stroke-width="1"/>
<line x1="228.82" y1="416.5" x2="228.82" y2="417.5" stroke="#aaa" stroke-width="1"/>
<line x1="228.82" y1="514.5" x2="228.82" y2="515.5" stroke="#aaa" stroke-width="1"/>
<line x1="232.87" y1="403.5" x2="232.87" y2="404.5" stroke="#aaa" stroke-width="1"/>
<line x1="232.87" y1="416.5" x2="232.87" y2="417.5" stroke="#aaa" stroke-width="1"/>
<line x1="232.87" y1="514.5" x2="232.87" y2="515.5" stroke="#aaa" stroke-width="1"/>
<line x1="236.93" y1="403.5" x2="236.93" y2="405" stroke="#aaa" stroke-width="1"/>
<line x1="236.93" y1="416" x2="236.93" y2="417.5" stroke="#aaa" stroke-width="1"/>
<line x1="236.93" y1="514.5" x2="236.93" y2="516" stroke="#aaa" stroke-width="1"/>
<line x1="240.98" y1="403.5" x2="240.98" y2="404.5" stroke="#aaa" stroke-width="1"/>
<line x1="240.98" y1="416.5" x2="240.98" y2="417.5" stroke="#aaa" stroke-width="1"/>
<line x1="240.98" y1="514.5" x2="240.98" y2="515.5" stroke="#aaa" stroke-width="1"/>
<line x1="245.03" y1="403.5" x2="245.03" y2="404.5" stroke="#aaa" stroke-width="1"/>
<line x1="245.03" y1="416.5" x2="245.03" y2="417.5" stroke="#aaa" stroke-width="1"/>
<line x1="245.03" y1="514.5" x2="245.03" y2="515.5" stroke="#aaa" stroke-width="1"/>
<line x1="249.08" y1="403.5" x2="249.08" y2="404.5" stroke="#aaa" stroke-width="1"/>
<line x1="249.08" y1="416.5" x2="249.08" y2="417.5" stroke="#aaa" stroke-width="1"/>
<line x1="249.08" y1="514.5" x2="249.08" y2="515.5" stroke="#aaa" stroke-width="1"/>
<line x1="253.13" y1="403.5" x2="253.13" y2="404.5" stroke="#aaa" stroke-width="1"/>
<line x1="253.13" y1="416.5" x2="253.13" y2="417.5" stroke="#aaa" stroke-width="1"/>
<line x1="253.13" y1="514.5" x2="253.13" y2="515.5" stroke="#aaa" stroke-width="1"/>
<line x1="257.19" y1="403.5" x2="257.19" y2="405" stroke="#aaa" stroke-width="1"/>
<line x1="257.19" y1="416" x2="257.19" y2="417.5" stroke="#aaa" stroke-width="1"/>
<line x1="257.19" y1="514.5" x2="257.19" y2="516" stroke="#aaa" stroke-width="1"/>
<line x1="261.24" y1="403.5" x2="261.24" y2="404.5" stroke="#aaa" stroke-width="1"/>
<line x1="261.24" y1="416.5" x2="261.24" y2="417.5" stroke="#aaa" stroke-width="1"/>
<line x1="261.24" y1="514.5" x2="261.24" y2="515.5" stroke="#aaa" stroke-width="1"/>
<line x1="265.29" y1="403.5" x2="265.29" y2="404.5" stroke="#aaa" stroke-width="1"/>
<line x1="265.29" y1="416.5" x2="265.29" y2="417.5" stroke="#aaa" stroke-width="1"/>
<line x1="265.29" y1="514.5" x2="265.29" y2="515.5" stroke="#aaa" stroke-width="1"/>
<line x1="269.34" y1="403.5" x2="269.34" y2="404.5" stroke="#aaa" stroke-width="1"/>
<line x1="269.34" y1="416.5" x2="269.34" y2="417.5" stroke="#aaa" stroke-width="1"/>
<line x1="269.34" y1="514.5" x2="269.34" y2="515.5" stroke="#aaa" stroke-width="1"/>
<line x1="273.39" y1="403.5" x2="273.39" y2="404.5" stroke="#aaa" stroke-width="1"/>
<line x1="273.39" y1="416.5" x2="273.39" y2="417.5" stroke="#aaa" stroke-width="1"/>
<line x1="273.39" y1="514.5" x2="273.39" y2="515.5" stroke="#aaa" stroke-width="1"/>
<line x1="277.45" y1="403.5" x2="277.45" y2="405" stroke="#aaa" stroke-width="1"/>
<line x1="277.45" y1="416" x2="277.45" y2="417.5" stroke="#aaa" stroke-width="1"/>
<line x1="277.45" y1="514.5" x2="277.45" y2="516" stroke="#aaa" stroke-width="1"/>
<line x1="281.5" y1="403.5" x2="281.5" y2="404.5" stroke="#aaa" stroke-width="1"/>
<line x1="281.5" y1="416.5" x2="281.5" y2="417.5" stroke="#aaa" stroke-width="1"/>
<line x1="281.5" y1="514.5" x2="281.5" y2="515.5" stroke="#aaa" stroke-width="1"/>
<line x1="285.55" y1="403.5" x2="285.55" y2="404.5" stroke="#aaa" stroke-width="1"/>
<line x1="285.55" y1="416.5" x2="285.55" y2="417.5" stroke="#aaa" stroke-width="1"/>
<line x1="285.55" y1="514.5" x2="285.55" y2="515.5" stroke="#aaa" stroke-width="1"/>
<line x1="289.6" y1="403.5" x2="289.6" y2="404.5" stroke="#aaa" stroke-width="1"/>
<line x1="289.6" y1="416.5" x2="289.6" y2="417.5" stroke="#aaa" stroke-width="1"/>
<line x1="289.6" y1="514.5" x2="289.6" y2="515.5" stroke="#aaa" stroke-width="1"/>
<line x1="293.65" y1="403.5" x2="293.65" y2="405" stroke="#aaa" stroke-width="1"/>
<line x1="293.65" y1="416" x2="293.65" y2="417.5" stroke="#aaa" stroke-width="1"/>
<line x1="293.65" y1="514.5" x2="293.65" y2="516" stroke="#aaa" stroke-width="1"/>
<line x1="297.71" y1="403.5" x2="297.71" y2="404.5" stroke="#aaa" stroke-width="1"/>
<line x1="297.71" y1="416.5" x2="297.71" y2="417.5" stroke="#aaa" stroke-width="1"/>
<line x1="297.71" y1="514.5" x2="297.71" y2="515.5" stroke="#aaa" stroke-width="1"/>
<line x1="301.76" y1="403.5" x2="301.76" y2="404.5" stroke="#aaa" stroke-width="1"/>
<line x1="301.76" y1="416.5" x2="301.76" y2="417.5" stroke="#aaa" stroke-width="1"/>
<line x1="301.76" y1="514.5" x2="301.76" y2="515.5" stroke="#aaa" stroke-width="1"/>
<line x1="305.81" y1="403.5" x2="305.81" y2="404.5" stroke="#aaa" stroke-width="1"/>
<line x1="305.81" y1="416.5" x2="305.81" y2="417.5" stroke="#aaa" stroke-width="1"/>
<line x1="305.81" y1="514.5" x2="305.81" y2="515.5" stroke="#aaa" stroke-width="1"/>
<line x1="309.86" y1="403.5" x2="309.86" y2="404.5" stroke="#aaa" stroke-width="1"/>
<line x1="309.86" y1="416.5" x2="309.86" y2="417.5" stroke="#aaa" stroke-width="1"/>
<line x1="309.86" y1="514.5" x2="309.86" y2="515.5" stroke="#aaa" stroke-width="1"/>
<line x1="313.91" y1="403.5" x2="313.91" y2="405" stroke="#aaa" stroke-width="1"/>
<line x1="313.91" y1="416" x2="313.91" y2="417.5" stroke="#aaa" stroke-width="1"/>
<line x1="313.91" y1="514.5" x2="313.91" y2="516" stroke="#aaa" stroke-width="1"/>
<line x1="317.97" y1="403.5" x2="317.97" y2="404.5" stroke="#aaa" stroke-width="1"/>
<line x1="317.97" y1="416.5" x2="317.97" y2="417.5" stroke="#aaa" stroke-width="1"/>
<line x1="317.97" y1="514.5" x2="317.97" y2="515.5" stroke="#aaa" stroke-width="1"/>
<line x1="322.02" y1="403.5" x2="322.02" y2="404.5" stroke="#aaa" stroke-width="1"/>
<line x1="322.02" y1="416.5" x2="322.02" y2="417.5" stroke="#aaa" stroke-width="1"/>
<line x1="322.02" y1="514.5" x2="322.02" y2="515.5" stroke="#aaa" stroke-width="1"/>
<line x1="326.07" y1="403.5" x2="326.07" y2="404.5" stroke="#aaa" stroke-width="1"/>
<line x1="326.07" y1="416.5" x2="326.07" y2="417.5" stroke="#aaa" stroke-width="1"/>
<line x1="326.07" y1="514.5" x2="326.07" y2="515.5" stroke="#aaa" stroke-width="1"/>
<line x1="330.12" y1="403.5" x2="330.12" y2="404.5" stroke="#aaa" stroke-width="1"/>
<line x1="330.12" y1="416.5" x2="330.12" y2="417.5" stroke="#aaa" stroke-width="1"/>
<line x1="330.12" y1="514.5" x2="330.12" y2="515.5" stroke="#aaa" stroke-width="1"/>
<line x1="334.17" y1="403.5" x2="334.17" y2="405" stroke="#aaa" stroke-width="1"/>
<line x1="334.17" y1="416" x2="334.17" y2="417.5" stroke="#aaa" stroke-width="1"/>
<line x1="334.17" y1="514.5" x2="334.17" y2="516" stroke="#aaa" stroke-width="1"/>
<line x1="338.23" y1="403.5" x2="338.23" y2="404.5" stroke="#aaa" stroke-width="1"/>
<line x1="338.23" y1="416.5" x2="338.23" y2="417.5" stroke="#aaa" stroke-width="1"/>
<line x1="338.23" y1="514.5" x2="338.23" y2="515.5" stroke="#aaa" stroke-width="1"/>
<line x1="342.28" y1="403.5" x2="342.28" y2="404.5" stroke="#aaa" stroke-width="1"/>
<line x1="342.28" y1="416.5" x2="342.28" y2="417.5" stroke="#aaa" stroke-width="1"/>
<line x1="342.28" y1="514.5" x2="342.28" y2="515.5" stroke="#aaa" stroke-width="1"/>
<line x1="346.33" y1="403.5" x2="346.33" y2="404.5" stroke="#aaa" stroke-width="1"/>
<line x1="346.33" y1="416.5" x2="346.33" y2="417.5" stroke="#aaa" stroke-width="1"/>
<line x1="346.33" y1="514.5" x2="346.33" y2="515.5" stroke="#aaa" stroke-width="1"/>
<line x1="350.38" y1="403.5" x2="350.38" y2="405" stroke="#aaa" stroke-width="1"/>
<line x1="350.38" y1="416" x2="350.38" y2="417.5" stroke="#aaa" stroke-width="1"/>
<line x1="350.38" y1="514.5" x2="350.38" y2="516" stroke="#aaa" stroke-width="1"/>
<line x1="354.43" y1="403.5" x2="354.43" y2="404.5" stroke="#aaa" stroke-width="1"/>
<line x1="354.43" y1="416.5" x2="354.43" y2="417.5" stroke="#aaa" stroke-width="1"/>
<line x1="354.43" y1="514.5" x2="354.43" y2="515.5" stroke="#aaa" stroke-width="1"/>
<line x1="358.49" y1="403.5" x2="358.49" y2="404.5" stroke="#aaa" stroke-width="1"/>
<line x1="358.49" y1="416.5" x2="358.49" y2="417.5" stroke="#aaa" stroke-width="1"/>
<line x1="358.49" y1="514.5" x2="358.49" y2="515.5" stroke="#aaa" stroke-width="1"/>
<line x1="362.54" y1="403.5" x2="362.54" y2="404.5" stroke="#aaa" stroke-width="1"/>
<line x1="362.54" y1="416.5" x2="362.54" y2="417.5" stroke="#aaa" stroke-width="1"/>
<line x1="362.54" y1="514.5" x2="362.54" y2="515.5" stroke="#aaa" stroke-width="1"/>
<line x1="366.59" y1="403.5" x2="366.59" y2="404.5" stroke="#aaa" stroke-width="1"/>
<line x1="366.59" y1="416.5" x2="366.59" y2="417.5" stroke="#aaa" stroke-width="1"/>
<line x1="366.59" y1="514.5" x2="366.59" y2="515.5" stroke="#aaa" stroke-width="1"/>
<line x1="370.64" y1="403.5" x2="370.64" y2="405" stroke="#aaa" stroke-width="1"/>
<line x1="370.64" y1="416" x2="370.64" y2="417.5" stroke="#aaa" stroke-width="1"/>
<line x1="370.64" y1="514.5" x2="370.64" y2="516" stroke="#aaa" stroke-width="1"/>
<line x1="374.69" y1="403.5" x2="374.69" y2="404.5" stroke="#aaa" stroke-width="1"/>
<line x1="374.69" y1="416.5" x2="374.69" y2="417.5" stroke="#aaa" stroke-width="1"/>
<line x1="374.69" y1="514.5" x2="374.69" y2="515.5" stroke="#aaa" stroke-width="1"/>
<line x1="378.75" y1="403.5" x2="378.75" y2="404.5" stroke="#aaa" stroke-width="1"/>
<line x1="378.75" y1="416.5" x2="378.75" y2="417.5" stroke="#aaa" stroke-width="1"/>
<line x1="378.75" y1="514.5" x2="378.75" y2="515.5" stroke="#aaa" stroke-width="1"/>
<line x1="382.8" y1="403.5" x2="382.8" y2="404.5" stroke="#aaa" stroke-width="1"/>
<line x1="382.8" y1="416.5" x2="382.8" y2="417.5" stroke="#aaa" stroke-width="1"/>
<line x1="382.8" y1="514.5" x2="382.8" y2="515.5" stroke="#aaa" stroke-width="1"/>
<line x1="386.85" y1="403.5" x2="386.85" y2="405" stroke="#aaa" stroke-width="1"/>
<line x1="386.85" y1="416" x2="386.85" y2="417.5" stroke="#aaa" stroke-width="1"/>
<line x1="386.85" y1="514.5" x2="386.85" y2="516" stroke="#aaa" stroke-width="1"/>
<line x1="390.9" y1="403.5" x2="390.9" y2="404.5" stroke="#aaa" stroke-width="1"/>
<line x1="390.9" y1="416.5" x2="390.9" y2="417.5" stroke="#aaa" stroke-width="1"/>
<line x1="390.9" y1="514.5" x2="390.9" y2="515.5" stroke="#aaa" stroke-width="1"/>
<line x1="394.95" y1="403.5" x2="394.95" y2="404.5" stroke="#aaa" stroke-width="1"/>
<line x1="394.95" y1="416.5" x2="394.95" y2="417.5" stroke="#aaa" stroke-width="1"/>
<line x1="394.95" y1="514.5" x2="394.95" y2="515.5" stroke="#aaa" stroke-width="1"/>
<line x1="399.01" y1="403.5" x2="399.01" y2="404.5" stroke="#aaa" stroke-width="1"/>
<line x1="399.01" y1="416.5" x2="399.01" y2="417.5" stroke="#aaa" stroke-width="1"/>
<line x1="399.01" y1="514.5" x2="399.01" y2="515.5" stroke="#aaa" stroke-width="1"/>
<line x1="403.06" y1="403.5" x2="403.06" y2="404.5" stroke="#aaa" stroke-width="1"/>
<line x1="403.06" y1="416.5" x2="403.06" y2="417.5" stroke="#aaa" stroke-width="1"/>
<line x1="403.06" y1="514.5" x2="403.06" y2="515.5" stroke="#aaa" stroke-width="1"/>
<line x1="407.11" y1="403.5" x2="407.11" y2="405" stroke="#aaa" stroke-width="1"/>
<line x1="407.11" y1="416" x2="407.11" y2="417.5" stroke="#aaa" stroke-width="1"/>
<line x1="407.11" y1="514.5" x2="407.11" y2="516" stroke="#aaa" stroke-width="1"/>
<line x1="411.16" y1="403.5" x2="411.16" y2="404.5" stroke="#aaa" stroke-width="1"/>
<line x1="411.16" y1="416.5" x2="411.16" y2="417.5" stroke="#aaa" stroke-width="1"/>
<line x1="411.16" y1="514.5" x2="411.16" y2="515.5" stroke="#aaa" stroke-width="1"/>
<line x1="415.21" y1="403.5" x2="415.21" y2="404.5" stroke="#aaa" stroke-width="1"/>
<line x1="415.21" y1="416.5" x2="415.21" y2="417.5" stroke="#aaa" stroke-width="1"/>
<line x1="415.21" y1="514.5" x2="415.21" y2="515.5" stroke="#aaa" stroke-width="1"/>
<line x1="419.27" y1="403.5" x2="419.27" y2="404.5" stroke="#aaa" stroke-width="1"/>
<line x1="419.27" y1="416.5" x2="419.27" y2="417.5" stroke="#aaa" stroke-width="1"/>
<line x1="419.27" y1="514.5" x2="419.27" y2="515.5" stroke="#aaa" stroke-width="1"/>
<line x1="423.32" y1="403.5" x2="423.32" y2="404.5" stroke="#aaa" stroke-width="1"/>
<line x1="423.32" y1="416.5" x2="423.32" y2="417.5" stroke="#aaa" stroke-width="1"/>
<line x1="423.32" y1="514.5" x2="423.32" y2="515.5" stroke="#aaa" stroke-width="1"/>
<line x1="427.37" y1="403.5" x2="427.37" y2="405" stroke="#aaa" stroke-width="1"/>
<line x1="427.37" y1="416" x2="427.37" y2="417.5" stroke="#aaa" stroke-width="1"/>
<line x1="427.37" y1="514.5" x2="427.37" y2="516" stroke="#aaa" stroke-width="1"/>
<line x1="431.42" y1="403.5" x2="431.42" y2="404.5" stroke="#aaa" stroke-width="1"/>
<line x1="431.42" y1="416.5" x2="431.42" y2="417.5" stroke="#aaa" stroke-width="1"/>
<line x1="431.42" y1="514.5" x2="431.42" y2="515.5" stroke="#aaa" stroke-width="1"/>
<line x1="435.47" y1="403.5" x2="435.47" y2="404.5" stroke="#aaa" stroke-width="1"/>
<line x1="435.47" y1="416.5" x2="435.47" y2="417.5" stroke="#aaa" stroke-width="1"/>
<line x1="435.47" y1="514.5" x2="435.47" y2="515.5" stroke="#aaa" stroke-width="1"/>
<line x1="439.53" y1="403.5" x2="439.53" y2="404.5" stroke="#aaa" stroke-width="1"/>
<line x1="439.53" y1="416.5" x2="439.53" y2="417.5" stroke="#aaa" stroke-width="1"/>
<line x1="439.53" y1="514.5" x2="439.53" y2="515.5" stroke="#aaa" stroke-width="1"/>
<line x1="443.58" y1="403.5" x2="443.58" y2="404.5" stroke="#aaa" stroke-width="1"/>
<line x1="443.58" y1="416.5" x2="443.58" y2="417.5" stroke="#aaa" stroke-width="1"/>
<line x1="443.58" y1="514.5" x2="443.58" y2="515.5" stroke="#aaa" stroke-width="1"/>
<line x1="447.63" y1="403.5" x2="447.63" y2="405" stroke="#aaa" stroke-width="1"/>
<line x1="447.63" y1="416" x2="447.63" y2="417.5" stroke="#aaa" stroke-width="1"/>
<line x1="447.63" y1="514.5" x2="447.63" y2="516" stroke="#aaa" stroke-width="1"/>
<line x1="451.68" y1="403.5" x2="451.68" y2="404.5" stroke="#aaa" stroke-width="1"/>
<line x1="451.68" y1="416.5" x2="451.68" y2="417.5" stroke="#aaa" stroke-width="1"/>
<line x1="451.68" y1="514.5" x2="451.68" y2="515.5" stroke="#aaa" stroke-width="1"/>
<line x1="455.73" y1="403.5" x2="455.73" y2="404.5" stroke="#aaa" stroke-width="1"/>
<line x1="455.73" y1="416.5" x2="455.73" y2="417.5" stroke="#aaa" stroke-width="1"/>
<line x1="455.73" y1="514.5" x2="455.73" y2="515.5" stroke="#aaa" stroke-width="1"/>
<line x1="459.79" y1="403.5" x2="459.79" y2="404.5" stroke="#aaa" stroke-width="1"/>
<line x1="459.79" y1="416.5" x2="459.79" y2="417.5" stroke="#aaa" stroke-width="1"/>
<line x1="459.79" y1="514.5" x2="459.79" y2="515.5" stroke="#aaa" stroke-width="1"/>
<line x1="463.84" y1="403.5" x2="463.84" y2="404.5" stroke="#aaa" stroke-width="1"/>
<line x1="463.84" y1="416.5" x2="463.84" y2="417.5" stroke="#aaa" stroke-width="1"/>
<line x1="463.84" y1="514.5" x2="463.84" y2="515.5" stroke="#aaa" stroke-width="1"/>
<line x1="467.89" y1="403.5" x2="467.89" y2="405" stroke="#aaa" stroke-width="1"/>
<line x1="467.89" y1="416" x2="467.89" y2="417.5" stroke="#aaa" stroke-width="1"/>
<line x1="467.89" y1="514.5" x2="467.89" y2="516" stroke="#aaa" stroke-width="1"/>
<line x1="471.94" y1="403.5" x2="471.94" y2="404.5" stroke="#aaa" stroke-width="1"/>
<line x1="471.94" y1="416.5" x2="471.94" y2="417.5" stroke="#aaa" stroke-width="1"/>
<line x1="471.94" y1="514.5" x2="471.94" y2="515.5" stroke="#aaa" stroke-width="1"/>
<line x1="475.99" y1="403.5" x2="475.99" y2="404.5" stroke="#aaa" stroke-width="1"/>
<line x1="475.99" y1="416.5" x2="475.99" y2="417.5" stroke="#aaa" stroke-width="1"/>
<line x1="475.99" y1="514.5" x2="475.99" y2="515.5" stroke="#aaa" stroke-width="1"/>
<line x1="480.05" y1="403.5" x2="480.05" y2="404.5" stroke="#aaa" stroke-width="1"/>
<line x1="480.05" y1="416.5" x2="480.05" y2="417.5" stroke="#aaa" stroke-width="1"/>
<line x1="480.05" y1="514.5" x2="480.05" y2="515.5" stroke="#aaa" stroke-width="1"/>
<line x1="484.1" y1="403.5" x2="484.1" y2="404.5" stroke="#aaa" stroke-width="1"/>
<line x1="484.1" y1="416.5" x2="484.1" y2="417.5" stroke="#aaa" stroke-width="1"/>
<line x1="484.1" y1="514.5" x2="484.1" y2="515.5" stroke="#aaa" stroke-width="1"/>
<line x1="488.15" y1="403.5" x2="488.15" y2="405" stroke="#aaa" stroke-width="1"/>
<line x1="488.15" y1="416" x2="488.15" y2="417.5" stroke="#aaa" stroke-width="1"/>
<line x1="488.15" y1="514.5" x2="488.15" y2="516" stroke="#aaa" stroke-width="1"/>
<line x1="492.2" y1="403.5" x2="492.2" y2="404.5" stroke="#aaa" stroke-width="1"/>
<line x1="492.2" y1="416.5" x2="492.2" y2="417.5" stroke="#aaa" stroke-width="1"/>
<line x1="492.2" y1="514.5" x2="492.2" y2="515.5" stroke="#aaa" stroke-width="1"/>
<line x1="496.25" y1="403.5" x2="496.25" y2="404.5" stroke="#aaa" stroke-width="1"/>
<line x1="496.25" y1="416.5" x2="496.25" y2="417.5" stroke="#aaa" stroke-width="1"/>
<line x1="496.25" y1="514.5" x2="496.25" y2="515.5" stroke="#aaa" stroke-width="1"/>
<line x1="500.31" y1="403.5" x2="500.31" y2="404.5" stroke="#aaa" stroke-width="1"/>
<line x1="500.31" y1="416.5" x2="500.31" y2="417.5" stroke="#aaa" stroke-width="1"/>
<line x1="500.31" y1="514.5" x2="500.31" y2="515.5" stroke="#aaa" stroke-width="1"/>
<line x1="504.36" y1="403.5" x2="504.36" y2="404.5" stroke="#aaa" stroke-width="1"/>
<line x1="504.36" y1="416.5" x2="504.36" y2="417.5" stroke="#aaa" stroke-width="1"/>
<line x1="504.36" y1="514.5" x2="504.36" y2="515.5" stroke="#aaa" stroke-width="1"/>
<line x1="508.41" y1="403.5" x2="508.41" y2="405" stroke="#aaa" stroke-width="1"/>
<line x1="508.41" y1="416" x2="508.41" y2="417.5" stroke="#aaa" stroke-width="1"/>
<line x1="508.41" y1="514.5" x2="508.41" y2="516" stroke="#aaa" stroke-width="1"/>
<line x1="512.46" y1="403.5" x2="512.46" y2="404.5" stroke="#aaa" stroke-width="1"/>
<line x1="512.46" y1="416.5" x2="512.46" y2="417.5" stroke="#aaa" stroke-width="1"/>
<line x1="512.46" y1="514.5" x2="512.46" y2="515.5" stroke="#aaa" stroke-width="1"/>
<line x1="516.51" y1="403.5" x2="516.51" y2="404.5" stroke="#aaa" stroke-width="1"/>
<line x1="516.51" y1="416.5" x2="516.51" y2="417.5" stroke="#aaa" stroke-width="1"/>
<line x1="516.51" y1="514.5" x2="516.51" y2="515.5" stroke="#aaa" stroke-width="1"/>
<line x1="520.57" y1="403.5" x2="520.57" y2="404.5" stroke="#aaa" stroke-width="1"/>
<line x1="520.57" y1="416.5" x2="520.57" y2="417.5" stroke="#aaa" stroke-width="1"/>
<line x1="520.57" y1="514.5" x2="520.57" y2="515.5" stroke="#aaa" stroke-width="1"/>
<line x1="524.62" y1="403.5" x2="524.62" y2="404.5" stroke="#aaa" stroke-width="1"/>
<line x1="524.62" y1="416.5" x2="524.62" y2="417.5" stroke="#aaa" stroke-width="1"/>
<line x1="524.62" y1="514.5" x2="524.62" y2="515.5" stroke="#aaa" stroke-width="1"/>
<line x1="528.67" y1="403.5" x2="528.67" y2="405" stroke="#aaa" stroke-width="1"/>
<line x1="528.67" y1="416" x2="528.67" y2="417.5" stroke="#aaa" stroke-width="1"/>
<line x1="528.67" y1="514.5" x2="528.67" y2="516" stroke="#aaa" stroke-width="1"/>
<line x1="532.72" y1="403.5" x2="532.72" y2="404.5" stroke="#aaa" stroke-width="1"/>
<line x1="532.72" y1="416.5" x2="532.72" y2="417.5" stroke="#aaa" stroke-width="1"/>
<line x1="532.72" y1="514.5" x2="532.72" y2="515.5" stroke="#aaa" stroke-width="1"/>
<line x1="536.77" y1="403.5" x2="536.77" y2="404.5" stroke="#aaa" stroke-width="1"/>
<line x1="536.77" y1="416.5" x2="536.77" y2="417.5" stroke="#aaa" stroke-width="1"/>
<line x1="536.77" y1="514.5" x2="536.77" y2="515.5" stroke="#aaa" stroke-width="1"/>
<line x1="540.83" y1="403.5" x2="540.83" y2="404.5" stroke="#aaa" stroke-width="1"/>
<line x1="540.83" y1="416.5" x2="540.83" y2="417.5" stroke="#aaa" stroke-width="1"/>
<line x1="540.83" y1="514.5" x2="540.83" y2="515.5" stroke="#aaa" stroke-width="1"/>
<line x1="544.88" y1="403.5" x2="544.88" y2="404.5" stroke="#aaa" stroke-width="1"/>
<line x1="544.88" y1="416.5" x2="544.88" y2="417.5" stroke="#aaa" stroke-width="1"/>
<line x1="544.88" y1="514.5" x2="544.88" y2="515.5" stroke="#aaa" stroke-width="1"/>
<line x1="548.93" y1="403.5" x2="548.93" y2="405" stroke="#aaa" stroke-width="1"/>
<line x1="548.93" y1="416" x2="548.93" y2="417.5" stroke="#aaa" stroke-width="1"/>
<line x1="548.93" y1="514.5" x2="548.93" y2="516" stroke="#aaa" stroke-width="1"/>
<line x1="552.98" y1="403.5" x2="552.98" y2="404.5" stroke="#aaa" stroke-width="1"/>
<line x1="552.98" y1="416.5" x2="552.98" y2="417.5" stroke="#aaa" stroke-width="1"/>
<line x1="552.98" y1="514.5" x2="552.98" y2="515.5" stroke="#aaa" stroke-width="1"/>
<line x1="557.03" y1="403.5" x2="557.03" y2="404.5" stroke="#aaa" stroke-width="1"/>
<line x1="557.03" y1="416.5" x2="557.03" y2="417.5" stroke="#aaa" stroke-width="1"/>
<line x1="557.03" y1="514.5" x2="557.03" y2="515.5" stroke="#aaa" stroke-width="1"/>
<line x1="561.09" y1="403.5" x2="561.09" y2="404.5" stroke="#aaa" stroke-width="1"/>
<line x1="561.09" y1="416.5" x2="561.09" y2="417.5" stroke="#aaa" stroke-width="1"/>
<line x1="561.09" y1="514.5" x2="561.09" y2="515.5" stroke="#aaa" stroke-width="1"/>
<line x1="565.14" y1="403.5" x2="565.14" y2="405" stroke="#aaa" stroke-width="1"/>
<line x1="565.14" y1="416" x2="565.14" y2="417.5" stroke="#aaa" stroke-width="1"/>
<line x1="565.14" y1="514.5" x2="565.14" y2="516" stroke="#aaa" stroke-width="1"/>
<line x1="569.19" y1="403.5" x2="569.19" y2="404.5" stroke="#aaa" stroke-width="1"/>
<line x1="569.19" y1="416.5" x2="569.19" y2="417.5" stroke="#aaa" stroke-width="1"/>
<line x1="569.19" y1="514.5" x2="569.19" y2="515.5" stroke="#aaa" stroke-width="1"/>
<line x1="573.24" y1="403.5" x2="573.24" y2="404.5" stroke="#aaa" stroke-width="1"/>
<line x1="573.24" y1="416.5" x2="573.24" y2="417.5" stroke="#aaa" stroke-width="1"/>
<line x1="573.24" y1="514.5" x2="573.24" y2="515.5" stroke="#aaa" stroke-width="1"/>
<line x1="577.29" y1="403.5" x2="577.29" y2="404.5" stroke="#aaa" stroke-width="1"/>
<line x1="577.29" y1="416.5" x2="577.29" y2="417.5" stroke="#aaa" stroke-width="1"/>
<line x1="577.29" y1="514.5" x2="577.29" y2="515.5" stroke="#aaa" stroke-width="1"/>
<line x1="581.35" y1="403.5" x2="581.35" y2="404.5" stroke="#aaa" stroke-width="1"/>
<line x1="581.35" y1="416.5" x2="581.35" y2="417.5" stroke="#aaa" stroke-width="1"/>
<line x1="581.35" y1="514.5" x2="581.35" y2="515.5" stroke="#aaa" stroke-width="1"/>
<line x1="585.4" y1="403.5" x2="585.4" y2="405" stroke="#aaa" stroke-width="1"/>
<line x1="585.4" y1="416" x2="585.4" y2="417.5" stroke="#aaa" stroke-width="1"/>
<line x1="585.4" y1="514.5" x2="585.4" y2="516" stroke="#aaa" stroke-width="1"/>
<line x1="589.45" y1="403.5" x2="589.45" y2="404.5" stroke="#aaa" stroke-width="1"/>
<line x1="589.45" y1="416.5" x2="589.45" y2="417.5" stroke="#aaa" stroke-width="1"/>
<line x1="589.45" y1="514.5" x2="589.45" y2="515.5" stroke="#aaa" stroke-width="1"/>
<line x1="593.5" y1="403.5" x2="593.5" y2="404.5" stroke="#aaa" stroke-width="1"/>
<line x1="593.5" y1="416.5" x2="593.5" y2="417.5" stroke="#aaa" stroke-width="1"/>
<line x1="593.5" y1="514.5" x2="593.5" y2="515.5" stroke="#aaa" stroke-width="1"/>
<line x1="597.55" y1="403.5" x2="597.55" y2="404.5" stroke="#aaa" stroke-width="1"/>
<line x1="597.55" y1="416.5" x2="597.55" y2="417.5" stroke="#aaa" stroke-width="1"/>
<line x1="597.55" y1="514.5" x2="597.55" y2="515.5" stroke="#aaa" stroke-width="1"/>
<line x1="601.61" y1="403.5" x2="601.61" y2="404.5" stroke="#aaa" stroke-width="1"/>
<line x1="601.61" y1="416.5" x2="601.61" y2="417.5" stroke="#aaa" stroke-width="1"/>
<line x1="601.61" y1="514.5" x2="601.61" y2="515.5" stroke="#aaa" stroke-width="1"/>
<line x1="605.66" y1="403.5" x2="605.66" y2="405" stroke="#aaa" stroke-width="1"/>
<line x1="605.66" y1="416" x2="605.66" y2="417.5" stroke="#aaa" stroke-width="1"/>
<line x1="605.66" y1="514.5" x2="605.66" y2="516" stroke="#aaa" stroke-width="1"/>
<line x1="609.71" y1="403.5" x2="609.71" y2="404.5" stroke="#aaa" stroke-width="1"/>
<line x1="609.71" y1="416.5" x2="609.71" y2="417.5" stroke="#aaa" stroke-width="1"/>
<line x1="609.71" y1="514.5" x2="609.71" y2="515.5" stroke="#aaa" stroke-width="1"/>
<line x1="613.76" y1="403.5" x2="613.76" y2="404.5" stroke="#aaa" stroke-width="1"/>
<line x1="613.76" y1="416.5" x2="613.76" y2="417.5" stroke="#aaa" stroke-width="1"/>
<line x1="613.76" y1="514.5" x2="613.76" y2="515.5" stroke="#aaa" stroke-width="1"/>
<line x1="617.81" y1="403.5" x2="617.81" y2="404.5" stroke="#aaa" stroke-width="1"/>
<line x1="617.81" y1="416.5" x2="617.81" y2="417.5" stroke="#aaa" stroke-width="1"/>
<line x1="617.81" y1="514.5" x2="617.81" y2="515.5" stroke="#aaa" stroke-width="1"/>
<line x1="621.87" y1="403.5" x2="621.87" y2="404.5" stroke="#aaa" stroke-width="1"/>
<line x1="621.87" y1="416.5" x2="621.87" y2="417.5" stroke="#aaa" stroke-width="1"/>
<line x1="621.87" y1="514.5" x2="621.87" y2="515.5" stroke="#aaa" stroke-width="1"/>
<line x1="625.92" y1="403.5" x2="625.92" y2="405" stroke="#aaa" stroke-width="1"/>
<line x1="625.92" y1="416" x2="625.92" y2="417.5" stroke="#aaa" stroke-width="1"/>
<line x1="625.92" y1="514.5" x2="625.92" y2="516" stroke="#aaa" stroke-width="1"/>
<line x1="629.97" y1="403.5" x2="629.97" y2="404.5" stroke="#aaa" stroke-width="1"/>
<line x1="629.97" y1="416.5" x2="629.97" y2="417.5" stroke="#aaa" stroke-width="1"/>
<line x1="629.97" y1="514.5" x2="629.97" y2="515.5" stroke="#aaa" stroke-width="1"/>
<line x1="634.02" y1="403.5" x2="634.02" y2="404.5" stroke="#aaa" stroke-width="1"/>
<line x1="634.02" y1="416.5" x2="634.02" y2="417.5" stroke="#aaa" stroke-width="1"/>
<line x1="634.02" y1="514.5" x2="634.02" y2="515.5" stroke="#aaa" stroke-width="1"/>
<line x1="638.07" y1="403.5" x2="638.07" y2="404.5" stroke="#aaa" stroke-width="1"/>
<line x1="638.07" y1="416.5" x2="638.07" y2="417.5" stroke="#aaa" stroke-width="1"/>
<line x1="638.07" y1="514.5" x2="638.07" y2="515.5" stroke="#aaa" stroke-width="1"/>
<line x1="642.13" y1="403.5" x2="642.13" y2="404.5" stroke="#aaa" stroke-width="1"/>
<line x1="642.13" y1="416.5" x2="642.13" y2="417.5" stroke="#aaa" stroke-width="1"/>
<line x1="642.13" y1="514.5" x2="642.13" y2="515.5" stroke="#aaa" stroke-width="1"/>
<line x1="646.18" y1="403.5" x2="646.18" y2="405" stroke="#aaa" stroke-width="1"/>
<line x1="646.18" y1="416" x2="646.18" y2="417.5" stroke="#aaa" stroke-width="1"/>
<line x1="646.18" y1="514.5" x2="646.18" y2="516" stroke="#aaa" stroke-width="1"/>
<line x1="650.23" y1="403.5" x2="650.23" y2="404.5" stroke="#aaa" stroke-width="1"/>
<line x1="650.23" y1="416.5" x2="650.23" y2="417.5" stroke="#aaa" stroke-width="1"/>
<line x1="650.23" y1="514.5" x2="650.23" y2="515.5" stroke="#aaa" stroke-width="1"/>
<line x1="654.28" y1="403.5" x2="654.28" y2="404.5" stroke="#aaa" stroke-width="1"/>
<line x1="654.28" y1="416.5" x2="654.28" y2="417.5" stroke="#aaa" stroke-width="1"/>
<line x1="654.28" y1="514.5" x2="654.28" y2="515.5" stroke="#aaa" stroke-width="1"/>
<path d="M654.2 79.42 L657.5 74.12 L687.6 74.12 L687.6 84.72 L657.5 84.72 Z" fill="#fff" stroke="#000" stroke-width="1.2"/>
<text x="659" y="82.92" font-size="10.1" fill="#000" font-weight="normal" text-anchor="start" textLength="26" lengthAdjust="spacing" >46.60</text>
<path d="M654.2 233.53 L657.5 228.23 L698.7 228.23 L698.7 238.83 L657.5 238.83 Z" fill="#fff" stroke="#d1003b" stroke-width="1.2"/>
<text x="659" y="237.03" font-size="10.1" fill="#000" font-weight="normal" text-anchor="start" textLength="38.3" lengthAdjust="spacing" >4203.49</text>
<path d="M654.2 283.56 L657.5 278.26 L698.7 278.26 L698.7 288.86 L657.5 288.86 Z" fill="#fff" stroke="#1a1a9a" stroke-width="1.2"/>
<text x="659" y="287.06" font-size="10.1" fill="#000" font-weight="normal" text-anchor="start" textLength="38.3" lengthAdjust="spacing" >4002.49</text>
<path d="M654.2 339.01 L657.5 333.71 L698.7 333.71 L698.7 344.31 L657.5 344.31 Z" fill="#fff" stroke="#000" stroke-width="1.5"/>
<text x="659" y="342.51" font-size="10.1" fill="#000" font-weight="bold" text-anchor="start" textLength="38.3" lengthAdjust="spacing" >3790.93</text>
<path d="M654.2 355.58 L657.5 350.28 L702 350.28 L702 360.88 L657.5 360.88 Z" fill="#fff" stroke="#000" stroke-width="1.2"/>
<text x="659" y="359.08" font-size="10.1" fill="#000" font-weight="normal" text-anchor="start" textLength="42" lengthAdjust="spacing" >2892707</text>
<path d="M654.2 461.41 L657.5 456.11 L690.7 456.11 L690.7 466.71 L657.5 466.71 Z" fill="#fff" stroke="#4a6ab0" stroke-width="1.2"/>
<text x="659" y="464.91" font-size="10.1" fill="#000" font-weight="normal" text-anchor="start" textLength="30" lengthAdjust="spacing" >-3.030</text>
<path d="M654.3 496.2 L657.5 490.9 L696.6 490.9 L696.6 501.5 L657.5 501.5 Z" fill="#fff" stroke="#f00" stroke-width="2"/>
<path d="M654.2 498.9 L657.5 493.6 L696.6 493.6 L696.6 504.2 L657.5 504.2 Z" fill="#fff" stroke="#000" stroke-width="1.2"/>
<text x="659" y="502.4" font-size="10.1" fill="#000" font-weight="normal" text-anchor="start" textLength="37.5" lengthAdjust="spacing" >-95.231</text>
</svg></body></html>
